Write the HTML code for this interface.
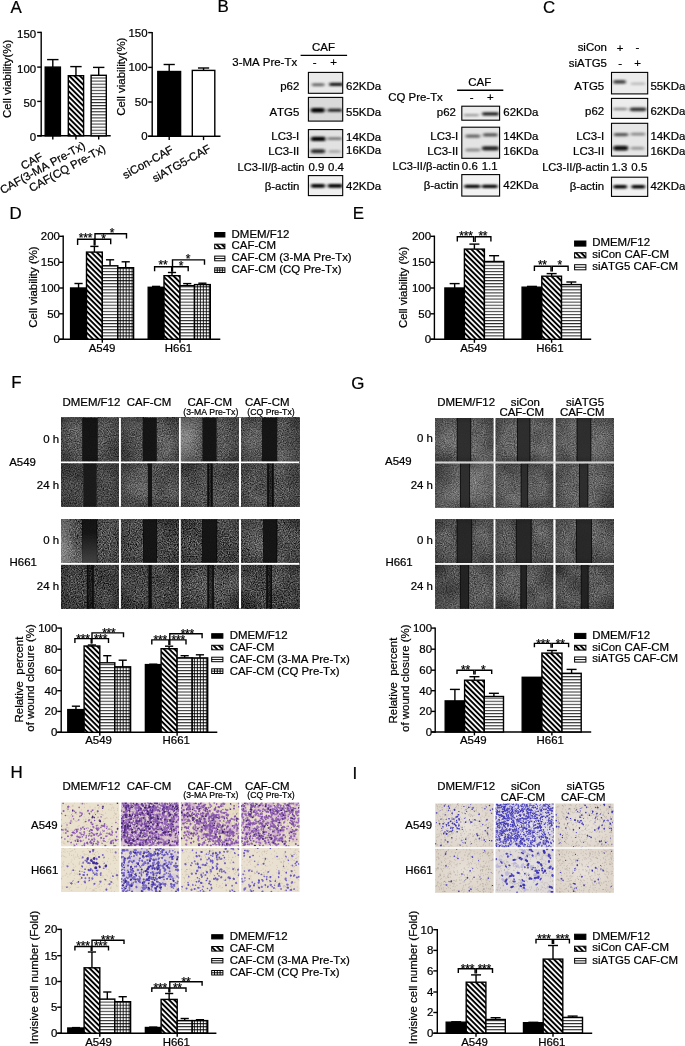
<!DOCTYPE html>
<html lang="en"><head><meta charset="utf-8"><title>Figure</title>
<style>
html,body{margin:0;padding:0;background:#fff;}
svg{display:block;font-family:"Liberation Sans",sans-serif;filter:blur(0.35px);}
svg text{fill:#000;font-kerning:none;stroke:#000;stroke-width:0.22px;}
</style></head>
<body>
<svg width="685" height="1046" viewBox="0 0 685 1046">
<defs>
<pattern id="pD" width="3.76" height="3.76" patternUnits="userSpaceOnUse" patternTransform="rotate(45)">
  <rect width="3.76" height="3.76" fill="#fff"/><rect width="3.76" height="1.95" fill="#000"/>
</pattern>
<pattern id="pH" width="3.07" height="3.07" patternUnits="userSpaceOnUse">
  <rect width="3.07" height="3.07" fill="#fff"/><rect y="0.9" width="3.07" height="0.85" fill="#000"/>
</pattern>
<pattern id="pG" width="2.97" height="3.07" patternUnits="userSpaceOnUse">
  <rect width="2.97" height="3.07" fill="#fff"/><rect y="0.9" width="2.97" height="0.9" fill="#000"/><rect x="0.9" width="0.85" height="3.07" fill="#000"/>
</pattern>
<filter id="bl" x="-20%" y="-60%" width="140%" height="220%"><feGaussianBlur stdDeviation="1.5 0.9"/></filter>
<clipPath id="c1"><rect x="308.40" y="72.40" width="34.30" height="20.90"/></clipPath><clipPath id="c2"><rect x="308.40" y="97.40" width="34.30" height="23.70"/></clipPath><clipPath id="c3"><rect x="308.40" y="129.60" width="34.30" height="27.90"/></clipPath><clipPath id="c4"><rect x="308.40" y="175.60" width="34.30" height="20.00"/></clipPath><clipPath id="c5"><rect x="461.80" y="106.20" width="37.80" height="14.00"/></clipPath><clipPath id="c6"><rect x="461.80" y="127.20" width="37.80" height="31.10"/></clipPath><clipPath id="c7"><rect x="461.80" y="174.60" width="37.80" height="21.50"/></clipPath><clipPath id="c8"><rect x="611.50" y="72.40" width="36.20" height="21.50"/></clipPath><clipPath id="c9"><rect x="611.50" y="98.40" width="36.20" height="20.00"/></clipPath><clipPath id="c10"><rect x="611.50" y="123.30" width="36.20" height="32.80"/></clipPath><clipPath id="c11"><rect x="611.50" y="177.20" width="36.20" height="19.20"/></clipPath>
<filter id="lump" x="0" y="0" width="100%" height="100%" color-interpolation-filters="sRGB">
  <feTurbulence type="fractalNoise" baseFrequency="0.035" numOctaves="2" seed="23"/>
  <feColorMatrix type="matrix" values="0 0 0 0 0  0 0 0 0 0  0 0 0 0 0  2.2 0 0 0 -0.95"/>
</filter>
<filter id="lumpw" x="0" y="0" width="100%" height="100%" color-interpolation-filters="sRGB">
  <feTurbulence type="fractalNoise" baseFrequency="0.03" numOctaves="2" seed="31"/>
  <feColorMatrix type="matrix" values="0 0 0 0 1  0 0 0 0 1  0 0 0 0 1  1.6 0 0 0 -0.72"/>
</filter>
<radialGradient id="vg" cx="50%" cy="50%" r="75%">
  <stop offset="0.5" stop-color="#000" stop-opacity="0"/><stop offset="1" stop-color="#000" stop-opacity="0.38"/>
</radialGradient>
<linearGradient id="lg1" x1="0" x2="1" y1="0" y2="0"><stop offset="0" stop-color="#fff" stop-opacity="0.38"/><stop offset="1" stop-color="#fff" stop-opacity="0"/></linearGradient>
<radialGradient id="rgw" cx="50%" cy="50%" r="50%"><stop offset="0" stop-color="#fff" stop-opacity="0.16"/><stop offset="1" stop-color="#fff" stop-opacity="0"/></radialGradient>
<radialGradient id="rgk" cx="0%" cy="0%" r="60%"><stop offset="0" stop-color="#000" stop-opacity="0.35"/><stop offset="1" stop-color="#000" stop-opacity="0"/></radialGradient>
<filter id="nF1" x="0" y="0" width="100%" height="100%" color-interpolation-filters="sRGB"><feTurbulence type="fractalNoise" baseFrequency="0.85" numOctaves="2" seed="7"/><feColorMatrix type="matrix" values="0.695 0 0 0 -0.027  0.695 0 0 0 -0.027  0.695 0 0 0 -0.027  0 0 0 0 1"/></filter><filter id="nF2" x="0" y="0" width="100%" height="100%" color-interpolation-filters="sRGB"><feTurbulence type="fractalNoise" baseFrequency="0.85" numOctaves="2" seed="9"/><feColorMatrix type="matrix" values="0.890 0 0 0 -0.155  0.890 0 0 0 -0.155  0.890 0 0 0 -0.155  0 0 0 0 1"/></filter><linearGradient id="lgv" x1="0" x2="0" y1="0" y2="1"><stop offset="0.3" stop-color="#fff" stop-opacity="0"/><stop offset="1" stop-color="#fff" stop-opacity="0.2"/></linearGradient><filter id="nG1" x="0" y="0" width="100%" height="100%" color-interpolation-filters="sRGB"><feTurbulence type="fractalNoise" baseFrequency="0.9" numOctaves="2" seed="11"/><feColorMatrix type="matrix" values="0.525 0 0 0 0.132  0.525 0 0 0 0.132  0.525 0 0 0 0.132  0 0 0 0 1"/></filter><filter id="nG2" x="0" y="0" width="100%" height="100%" color-interpolation-filters="sRGB"><feTurbulence type="fractalNoise" baseFrequency="0.9" numOctaves="2" seed="13"/><feColorMatrix type="matrix" values="0.593 0 0 0 0.058  0.593 0 0 0 0.058  0.593 0 0 0 0.058  0 0 0 0 1"/></filter><filter id="soft" x="-5%" y="-5%" width="110%" height="110%"><feGaussianBlur stdDeviation="0.5"/></filter><clipPath id="c12"><rect x="61.00" y="802.60" width="58.40" height="43.60"/></clipPath><clipPath id="c13"><rect x="120.90" y="802.60" width="58.30" height="43.60"/></clipPath><clipPath id="c14"><rect x="180.80" y="802.60" width="58.50" height="43.60"/></clipPath><clipPath id="c15"><rect x="241.20" y="802.60" width="58.30" height="43.60"/></clipPath><clipPath id="c16"><rect x="61.00" y="848.00" width="58.40" height="43.90"/></clipPath><clipPath id="c17"><rect x="120.90" y="848.00" width="58.30" height="43.90"/></clipPath><clipPath id="c18"><rect x="180.80" y="848.00" width="58.50" height="43.90"/></clipPath><clipPath id="c19"><rect x="241.20" y="848.00" width="58.30" height="43.90"/></clipPath><radialGradient id="iglow" cx="50%" cy="50%" r="60%"><stop offset="0" stop-color="#fff" stop-opacity="0.35"/><stop offset="1" stop-color="#fff" stop-opacity="0"/></radialGradient><clipPath id="c20"><rect x="435.20" y="803.40" width="58.40" height="43.80"/></clipPath><clipPath id="c21"><rect x="495.50" y="803.40" width="58.30" height="43.80"/></clipPath><clipPath id="c22"><rect x="555.40" y="803.40" width="58.30" height="43.80"/></clipPath><clipPath id="c23"><rect x="435.20" y="848.80" width="58.40" height="43.90"/></clipPath><clipPath id="c24"><rect x="495.50" y="848.80" width="58.30" height="43.90"/></clipPath><clipPath id="c25"><rect x="555.40" y="848.80" width="58.30" height="43.90"/></clipPath></defs>
<rect width="685" height="1046" fill="#fff"/>
<text x="10.60" y="12.50" font-size="16.9" text-anchor="start">A</text>
<text x="217.40" y="12.30" font-size="16.9" text-anchor="start">B</text>
<text x="543.00" y="12.50" font-size="16.9" text-anchor="start">C</text>
<text x="9.60" y="218.80" font-size="16.9" text-anchor="start">D</text>
<text x="352.80" y="218.80" font-size="16.9" text-anchor="start">E</text>
<text x="11.30" y="388.40" font-size="16.9" text-anchor="start">F</text>
<text x="351.30" y="388.90" font-size="16.9" text-anchor="start">G</text>
<text x="10.50" y="778.40" font-size="16.9" text-anchor="start">H</text>
<text x="352.60" y="778.70" font-size="16.9" text-anchor="start">I</text>
<line x1="41.20" y1="31.70" x2="41.20" y2="136.50" stroke="#000" stroke-width="1.4"/>
<line x1="37.20" y1="135.80" x2="110.70" y2="135.80" stroke="#000" stroke-width="1.4"/>
<line x1="37.20" y1="32.40" x2="41.20" y2="32.40" stroke="#000" stroke-width="1.4"/>
<text x="36.20" y="37.80" font-size="11.45" text-anchor="end">150</text>
<line x1="37.20" y1="67.10" x2="41.20" y2="67.10" stroke="#000" stroke-width="1.4"/>
<text x="36.20" y="72.50" font-size="11.45" text-anchor="end">100</text>
<line x1="37.20" y1="101.40" x2="41.20" y2="101.40" stroke="#000" stroke-width="1.4"/>
<text x="36.20" y="106.80" font-size="11.45" text-anchor="end">50</text>
<line x1="37.20" y1="135.80" x2="41.20" y2="135.80" stroke="#000" stroke-width="1.4"/>
<text x="36.20" y="141.20" font-size="11.45" text-anchor="end">0</text>
<line x1="52.80" y1="59.60" x2="52.80" y2="67.10" stroke="#000" stroke-width="1.4"/>
<line x1="47.10" y1="59.60" x2="58.50" y2="59.60" stroke="#000" stroke-width="1.4"/>
<rect x="45.20" y="67.10" width="15.20" height="68.70" fill="#000" stroke="#000" stroke-width="1.4"/>
<line x1="52.80" y1="135.80" x2="52.80" y2="139.60" stroke="#000" stroke-width="1.4"/>
<line x1="75.95" y1="66.60" x2="75.95" y2="75.70" stroke="#000" stroke-width="1.4"/>
<line x1="70.25" y1="66.60" x2="81.65" y2="66.60" stroke="#000" stroke-width="1.4"/>
<rect x="68.30" y="75.70" width="15.30" height="60.10" fill="url(#pD)" stroke="#000" stroke-width="1.4"/>
<line x1="75.95" y1="135.80" x2="75.95" y2="139.60" stroke="#000" stroke-width="1.4"/>
<line x1="98.70" y1="67.40" x2="98.70" y2="75.30" stroke="#000" stroke-width="1.4"/>
<line x1="93.00" y1="67.40" x2="104.40" y2="67.40" stroke="#000" stroke-width="1.4"/>
<rect x="91.10" y="75.30" width="15.20" height="60.50" fill="url(#pH)" stroke="#000" stroke-width="1.4"/>
<line x1="98.70" y1="135.80" x2="98.70" y2="139.60" stroke="#000" stroke-width="1.4"/>
<text x="11.00" y="78.90" font-size="11.45" text-anchor="middle" transform="rotate(-90 11.00 78.90)">Cell viability(%)</text>
<text x="43.50" y="159.00" font-size="11.45" text-anchor="end" transform="rotate(-29 43.50 159.00)">CAF</text>
<text x="86.00" y="148.00" font-size="11.45" text-anchor="end" transform="rotate(-29 86.00 148.00)">CAF(3-MA Pre-Tx)</text>
<text x="106.30" y="151.00" font-size="11.45" text-anchor="end" transform="rotate(-29 106.30 151.00)">CAF(CQ Pre-Tx)</text>
<line x1="152.20" y1="31.90" x2="152.20" y2="137.00" stroke="#000" stroke-width="1.4"/>
<line x1="148.20" y1="136.30" x2="220.50" y2="136.30" stroke="#000" stroke-width="1.4"/>
<line x1="148.20" y1="32.60" x2="152.20" y2="32.60" stroke="#000" stroke-width="1.4"/>
<text x="147.50" y="36.50" font-size="11.45" text-anchor="end">150</text>
<line x1="148.20" y1="67.40" x2="152.20" y2="67.40" stroke="#000" stroke-width="1.4"/>
<text x="147.50" y="71.30" font-size="11.45" text-anchor="end">100</text>
<line x1="148.20" y1="102.00" x2="152.20" y2="102.00" stroke="#000" stroke-width="1.4"/>
<text x="147.50" y="105.90" font-size="11.45" text-anchor="end">50</text>
<line x1="148.20" y1="136.30" x2="152.20" y2="136.30" stroke="#000" stroke-width="1.4"/>
<text x="147.50" y="140.20" font-size="11.45" text-anchor="end">0</text>
<line x1="169.20" y1="64.50" x2="169.20" y2="71.50" stroke="#000" stroke-width="1.4"/>
<line x1="163.60" y1="64.50" x2="174.80" y2="64.50" stroke="#000" stroke-width="1.4"/>
<rect x="157.80" y="71.50" width="22.80" height="64.80" fill="#000" stroke="#000" stroke-width="1.4"/>
<line x1="169.20" y1="136.30" x2="169.20" y2="140.10" stroke="#000" stroke-width="1.4"/>
<line x1="203.55" y1="68.00" x2="203.55" y2="70.40" stroke="#000" stroke-width="1.4"/>
<line x1="197.95" y1="68.00" x2="209.15" y2="68.00" stroke="#000" stroke-width="1.4"/>
<rect x="192.30" y="70.40" width="22.50" height="65.90" fill="#fff" stroke="#000" stroke-width="1.4"/>
<line x1="203.55" y1="136.30" x2="203.55" y2="140.10" stroke="#000" stroke-width="1.4"/>
<text x="125.20" y="76.70" font-size="11.45" text-anchor="middle" transform="rotate(-90 125.20 76.70)">Cell viability(%)</text>
<text x="174.20" y="152.00" font-size="11.45" text-anchor="end" transform="rotate(-29 174.20 152.00)">siCon-CAF</text>
<text x="211.60" y="151.00" font-size="11.45" text-anchor="end" transform="rotate(-29 211.60 151.00)">siATG5-CAF</text>
<text x="323.50" y="51.20" font-size="11.45" text-anchor="middle">CAF</text>
<line x1="300.60" y1="55.40" x2="347.10" y2="55.40" stroke="#000" stroke-width="1.4"/>
<text x="232.30" y="66.20" font-size="11.45" text-anchor="start">3-MA Pre-Tx</text>
<text x="314.60" y="66.00" font-size="11.45" text-anchor="middle">-</text>
<text x="333.60" y="66.20" font-size="11.45" text-anchor="middle">+</text>
<rect x="308.40" y="72.40" width="34.30" height="20.90" fill="#e9e9e9"/>
<g clip-path="url(#c1)" filter="url(#bl)">
<rect x="311.80" y="83.28" width="12.80" height="2.85" rx="1.42" fill="#6a6a6a"/>
<rect x="329.00" y="82.69" width="14.50" height="3.42" rx="1.71" fill="#161616"/>
</g>
<rect x="308.40" y="72.40" width="34.30" height="20.90" fill="none" stroke="#000" stroke-width="1.1"/>
<rect x="308.40" y="97.40" width="34.30" height="23.70" fill="#dadada"/>
<g clip-path="url(#c2)" filter="url(#bl)">
<rect x="310.80" y="108.02" width="14.00" height="4.37" rx="2.18" fill="#000"/>
<rect x="327.60" y="108.68" width="14.60" height="3.04" rx="1.52" fill="#1c1c1c"/>
</g>
<rect x="308.40" y="97.40" width="34.30" height="23.70" fill="none" stroke="#000" stroke-width="1.1"/>
<rect x="308.40" y="129.60" width="34.30" height="27.90" fill="#e2e2e2"/>
<g clip-path="url(#c3)" filter="url(#bl)">
<rect x="310.80" y="136.72" width="15.00" height="4.37" rx="2.18" fill="#000"/>
<rect x="327.40" y="137.27" width="14.60" height="2.85" rx="1.42" fill="#777"/>
<rect x="310.80" y="149.31" width="14.40" height="3.99" rx="1.99" fill="#2a2a2a"/>
<rect x="328.50" y="149.98" width="12.00" height="3.04" rx="1.52" fill="#aaa"/>
</g>
<rect x="308.40" y="129.60" width="34.30" height="27.90" fill="none" stroke="#000" stroke-width="1.1"/>
<rect x="308.40" y="175.60" width="34.30" height="20.00" fill="#f0f0f0"/>
<g clip-path="url(#c4)" filter="url(#bl)">
<rect x="310.80" y="183.90" width="14.40" height="3.80" rx="1.90" fill="#000"/>
<rect x="327.60" y="183.90" width="15.20" height="3.80" rx="1.90" fill="#000"/>
</g>
<rect x="308.40" y="175.60" width="34.30" height="20.00" fill="none" stroke="#000" stroke-width="1.1"/>
<text x="299.30" y="89.70" font-size="11.45" text-anchor="end">p62</text>
<text x="299.30" y="116.00" font-size="11.45" text-anchor="end">ATG5</text>
<text x="299.30" y="140.10" font-size="11.45" text-anchor="end">LC3-I</text>
<text x="299.30" y="154.60" font-size="11.45" text-anchor="end">LC3-II</text>
<text x="299.30" y="190.00" font-size="11.45" text-anchor="end">β-actin</text>
<text x="346.10" y="89.70" font-size="11.45" text-anchor="start">62KDa</text>
<text x="346.10" y="116.00" font-size="11.45" text-anchor="start">55KDa</text>
<text x="346.10" y="141.20" font-size="11.45" text-anchor="start">14KDa</text>
<text x="346.10" y="154.30" font-size="11.45" text-anchor="start">16KDa</text>
<text x="346.10" y="190.00" font-size="11.45" text-anchor="start">42KDa</text>
<text x="237.60" y="171.10" font-size="11.1" text-anchor="start">LC3-II/β-actin</text>
<text x="316.40" y="171.10" font-size="11.45" text-anchor="middle">0.9</text>
<text x="336.00" y="171.10" font-size="11.45" text-anchor="middle">0.4</text>
<text x="479.80" y="85.90" font-size="11.45" text-anchor="middle">CAF</text>
<line x1="457.10" y1="90.30" x2="503.30" y2="90.30" stroke="#000" stroke-width="1.4"/>
<text x="388.20" y="101.10" font-size="11.45" text-anchor="start">CQ Pre-Tx</text>
<text x="471.60" y="100.80" font-size="11.45" text-anchor="middle">-</text>
<text x="490.30" y="101.00" font-size="11.45" text-anchor="middle">+</text>
<rect x="461.80" y="106.20" width="37.80" height="14.00" fill="#ececec"/>
<g clip-path="url(#c5)" filter="url(#bl)">
<rect x="463.80" y="113.96" width="15.20" height="2.28" rx="1.14" fill="#999"/>
<rect x="482.00" y="112.29" width="17.00" height="3.23" rx="1.61" fill="#1c1c1c"/>
</g>
<rect x="461.80" y="106.20" width="37.80" height="14.00" fill="none" stroke="#000" stroke-width="1.1"/>
<rect x="461.80" y="127.20" width="37.80" height="31.10" fill="#e4e4e4"/>
<g clip-path="url(#c6)" filter="url(#bl)">
<rect x="465.40" y="134.48" width="14.90" height="3.23" rx="1.61" fill="#666"/>
<rect x="483.00" y="133.28" width="14.80" height="3.23" rx="1.61" fill="#555"/>
<rect x="465.40" y="148.58" width="14.90" height="3.04" rx="1.52" fill="#8a8a8a"/>
<rect x="481.80" y="146.31" width="17.20" height="4.18" rx="2.09" fill="#242424"/>
</g>
<rect x="461.80" y="127.20" width="37.80" height="31.10" fill="none" stroke="#000" stroke-width="1.1"/>
<rect x="461.80" y="174.60" width="37.80" height="21.50" fill="#f2f2f2"/>
<g clip-path="url(#c7)" filter="url(#bl)">
<rect x="464.20" y="184.69" width="16.10" height="3.23" rx="1.61" fill="#000"/>
<rect x="481.80" y="184.69" width="16.00" height="3.23" rx="1.61" fill="#000"/>
</g>
<rect x="461.80" y="174.60" width="37.80" height="21.50" fill="none" stroke="#000" stroke-width="1.1"/>
<text x="455.90" y="115.50" font-size="11.45" text-anchor="end">p62</text>
<text x="458.30" y="139.60" font-size="11.45" text-anchor="end">LC3-I</text>
<text x="458.30" y="154.60" font-size="11.45" text-anchor="end">LC3-II</text>
<text x="458.30" y="188.70" font-size="11.45" text-anchor="end">β-actin</text>
<text x="503.30" y="115.50" font-size="11.45" text-anchor="start">62KDa</text>
<text x="503.30" y="139.60" font-size="11.45" text-anchor="start">14KDa</text>
<text x="503.30" y="154.60" font-size="11.45" text-anchor="start">16KDa</text>
<text x="503.30" y="188.70" font-size="11.45" text-anchor="start">42KDa</text>
<text x="392.60" y="170.00" font-size="11.15" text-anchor="start">LC3-II/β-actin</text>
<text x="469.80" y="170.00" font-size="11.45" text-anchor="middle">0.6</text>
<text x="489.60" y="170.00" font-size="11.45" text-anchor="middle">1.1</text>
<text x="606.90" y="51.40" font-size="11.45" text-anchor="end">siCon</text>
<text x="606.90" y="67.40" font-size="11.45" text-anchor="end">siATG5</text>
<text x="620.10" y="51.60" font-size="11.45" text-anchor="middle">+</text>
<text x="637.50" y="51.40" font-size="11.45" text-anchor="middle">-</text>
<text x="620.10" y="67.20" font-size="11.45" text-anchor="middle">-</text>
<text x="637.50" y="67.40" font-size="11.45" text-anchor="middle">+</text>
<rect x="611.50" y="72.40" width="36.20" height="21.50" fill="#ebebeb"/>
<g clip-path="url(#c8)" filter="url(#bl)">
<rect x="613.20" y="80.00" width="12.80" height="3.80" rx="1.90" fill="#444"/>
<rect x="630.80" y="82.47" width="14.50" height="2.47" rx="1.23" fill="#bbb"/>
</g>
<rect x="611.50" y="72.40" width="36.20" height="21.50" fill="none" stroke="#000" stroke-width="1.1"/>
<rect x="611.50" y="98.40" width="36.20" height="20.00" fill="#ececec"/>
<g clip-path="url(#c9)" filter="url(#bl)">
<rect x="613.20" y="107.86" width="14.00" height="2.47" rx="1.23" fill="#888"/>
<rect x="629.70" y="107.40" width="16.70" height="3.80" rx="1.90" fill="#333"/>
</g>
<rect x="611.50" y="98.40" width="36.20" height="20.00" fill="none" stroke="#000" stroke-width="1.1"/>
<rect x="611.50" y="123.30" width="36.20" height="32.80" fill="#e6e6e6"/>
<g clip-path="url(#c10)" filter="url(#bl)">
<rect x="613.80" y="132.89" width="14.50" height="3.42" rx="1.71" fill="#555"/>
<rect x="630.80" y="132.77" width="14.50" height="2.85" rx="1.42" fill="#888"/>
<rect x="613.20" y="145.82" width="15.10" height="4.75" rx="2.38" fill="#0a0a0a"/>
<rect x="630.80" y="146.68" width="13.40" height="3.04" rx="1.52" fill="#999"/>
</g>
<rect x="611.50" y="123.30" width="36.20" height="32.80" fill="none" stroke="#000" stroke-width="1.1"/>
<rect x="611.50" y="177.20" width="36.20" height="19.20" fill="#f2f2f2"/>
<g clip-path="url(#c11)" filter="url(#bl)">
<rect x="613.20" y="184.99" width="14.00" height="3.42" rx="1.71" fill="#000"/>
<rect x="631.30" y="184.99" width="14.00" height="3.42" rx="1.71" fill="#000"/>
</g>
<rect x="611.50" y="177.20" width="36.20" height="19.20" fill="none" stroke="#000" stroke-width="1.1"/>
<text x="604.20" y="89.80" font-size="11.45" text-anchor="end">ATG5</text>
<text x="604.20" y="115.40" font-size="11.45" text-anchor="end">p62</text>
<text x="604.20" y="139.60" font-size="11.45" text-anchor="end">LC3-I</text>
<text x="604.20" y="154.60" font-size="11.45" text-anchor="end">LC3-II</text>
<text x="604.20" y="190.10" font-size="11.45" text-anchor="end">β-actin</text>
<text x="650.40" y="89.80" font-size="11.45" text-anchor="start">55KDa</text>
<text x="650.40" y="115.40" font-size="11.45" text-anchor="start">62KDa</text>
<text x="650.40" y="139.60" font-size="11.45" text-anchor="start">14KDa</text>
<text x="650.40" y="154.60" font-size="11.45" text-anchor="start">16KDa</text>
<text x="650.40" y="190.10" font-size="11.45" text-anchor="start">42KDa</text>
<text x="542.20" y="170.90" font-size="11.1" text-anchor="start">LC3-II/β-actin</text>
<text x="619.40" y="170.90" font-size="11.45" text-anchor="middle">1.3</text>
<text x="639.30" y="170.90" font-size="11.45" text-anchor="middle">0.5</text>
<line x1="63.20" y1="235.60" x2="63.20" y2="340.00" stroke="#000" stroke-width="1.4"/>
<line x1="59.20" y1="339.30" x2="220.30" y2="339.30" stroke="#000" stroke-width="1.4"/>
<line x1="59.20" y1="236.30" x2="63.20" y2="236.30" stroke="#000" stroke-width="1.4"/>
<text x="59.90" y="240.20" font-size="11.45" text-anchor="end">200</text>
<line x1="59.20" y1="262.30" x2="63.20" y2="262.30" stroke="#000" stroke-width="1.4"/>
<text x="59.90" y="266.20" font-size="11.45" text-anchor="end">150</text>
<line x1="59.20" y1="288.00" x2="63.20" y2="288.00" stroke="#000" stroke-width="1.4"/>
<text x="59.90" y="291.90" font-size="11.45" text-anchor="end">100</text>
<line x1="59.20" y1="313.80" x2="63.20" y2="313.80" stroke="#000" stroke-width="1.4"/>
<text x="59.90" y="317.70" font-size="11.45" text-anchor="end">50</text>
<line x1="59.20" y1="339.30" x2="63.20" y2="339.30" stroke="#000" stroke-width="1.4"/>
<text x="59.90" y="343.20" font-size="11.45" text-anchor="end">0</text>
<line x1="78.55" y1="283.50" x2="78.55" y2="288.00" stroke="#000" stroke-width="1.4"/>
<line x1="74.45" y1="283.50" x2="82.65" y2="283.50" stroke="#000" stroke-width="1.4"/>
<line x1="94.40" y1="246.40" x2="94.40" y2="252.10" stroke="#000" stroke-width="1.4"/>
<line x1="90.30" y1="246.40" x2="98.50" y2="246.40" stroke="#000" stroke-width="1.4"/>
<line x1="110.05" y1="259.80" x2="110.05" y2="265.80" stroke="#000" stroke-width="1.4"/>
<line x1="105.95" y1="259.80" x2="114.15" y2="259.80" stroke="#000" stroke-width="1.4"/>
<line x1="125.70" y1="261.80" x2="125.70" y2="267.70" stroke="#000" stroke-width="1.4"/>
<line x1="121.60" y1="261.80" x2="129.80" y2="261.80" stroke="#000" stroke-width="1.4"/>
<rect x="70.60" y="288.00" width="15.90" height="51.30" fill="#000" stroke="#000" stroke-width="1.4"/>
<rect x="86.50" y="252.10" width="15.80" height="87.20" fill="url(#pD)" stroke="#000" stroke-width="1.4"/>
<rect x="102.30" y="265.80" width="15.50" height="73.50" fill="url(#pH)" stroke="#000" stroke-width="1.4"/>
<rect x="117.80" y="267.70" width="15.80" height="71.60" fill="url(#pG)" stroke="#000" stroke-width="1.4"/>
<line x1="156.10" y1="286.40" x2="156.10" y2="287.30" stroke="#000" stroke-width="1.4"/>
<line x1="152.00" y1="286.40" x2="160.20" y2="286.40" stroke="#000" stroke-width="1.4"/>
<line x1="172.00" y1="272.50" x2="172.00" y2="275.70" stroke="#000" stroke-width="1.4"/>
<line x1="167.90" y1="272.50" x2="176.10" y2="272.50" stroke="#000" stroke-width="1.4"/>
<line x1="187.25" y1="283.60" x2="187.25" y2="285.70" stroke="#000" stroke-width="1.4"/>
<line x1="183.15" y1="283.60" x2="191.35" y2="283.60" stroke="#000" stroke-width="1.4"/>
<line x1="202.40" y1="283.20" x2="202.40" y2="284.60" stroke="#000" stroke-width="1.4"/>
<line x1="198.30" y1="283.20" x2="206.50" y2="283.20" stroke="#000" stroke-width="1.4"/>
<rect x="148.20" y="287.30" width="15.80" height="52.00" fill="#000" stroke="#000" stroke-width="1.4"/>
<rect x="164.00" y="275.70" width="16.00" height="63.60" fill="url(#pD)" stroke="#000" stroke-width="1.4"/>
<rect x="180.00" y="285.70" width="14.50" height="53.60" fill="url(#pH)" stroke="#000" stroke-width="1.4"/>
<rect x="194.50" y="284.60" width="15.80" height="54.70" fill="url(#pG)" stroke="#000" stroke-width="1.4"/>
<line x1="102.30" y1="339.30" x2="102.30" y2="342.80" stroke="#000" stroke-width="1.4"/>
<line x1="180.00" y1="339.30" x2="180.00" y2="342.80" stroke="#000" stroke-width="1.4"/>
<text x="102.00" y="351.90" font-size="11.45" text-anchor="middle">A549</text>
<text x="178.50" y="351.90" font-size="11.45" text-anchor="middle">H661</text>
<text x="37.00" y="287.00" font-size="11.45" text-anchor="middle" transform="rotate(-90 37.00 287.00)">Cell viability (%)</text>
<path d="M77.60 245.00V239.20H94.20V245.50" stroke="#000" stroke-width="1.4" fill="none"/>
<path d="M95.00 239.20V233.70H126.50V238.40" stroke="#000" stroke-width="1.4" fill="none"/>
<path d="M95.00 245.50V239.20H110.70V244.20" stroke="#000" stroke-width="1.4" fill="none"/>
<text x="85.50" y="242.32" font-size="12.0" text-anchor="middle" letter-spacing="-0.25">***</text>
<text x="112.00" y="237.32" font-size="12.0" text-anchor="middle" letter-spacing="-0.25">*</text>
<text x="103.40" y="243.32" font-size="12.0" text-anchor="middle" letter-spacing="-0.25">*</text>
<path d="M154.60 271.20V266.80H171.70V271.80" stroke="#000" stroke-width="1.4" fill="none"/>
<path d="M172.50 266.80V259.90H204.50V264.70" stroke="#000" stroke-width="1.4" fill="none"/>
<path d="M172.50 271.80V266.80H188.20V271.20" stroke="#000" stroke-width="1.4" fill="none"/>
<text x="163.00" y="269.32" font-size="12.0" text-anchor="middle" letter-spacing="-0.25">**</text>
<text x="188.00" y="263.02" font-size="12.0" text-anchor="middle" letter-spacing="-0.25">*</text>
<text x="180.90" y="270.42" font-size="12.0" text-anchor="middle" letter-spacing="-0.25">*</text>
<rect x="214.70" y="232.50" width="10.20" height="4.50" fill="#000" stroke="#000" stroke-width="1.0"/>
<text x="231.60" y="237.70" font-size="11.45" text-anchor="start">DMEM/F12</text>
<rect x="214.70" y="244.20" width="10.20" height="4.50" fill="url(#pD)" stroke="#000" stroke-width="1.0"/>
<text x="231.60" y="249.30" font-size="11.45" text-anchor="start">CAF-CM</text>
<rect x="214.70" y="256.10" width="10.20" height="4.70" fill="#fff" stroke="#000" stroke-width="1.0"/>
<line x1="214.70" y1="258.45" x2="224.90" y2="258.45" stroke="#000" stroke-width="0.95"/>
<text x="231.60" y="261.10" font-size="11.45" text-anchor="start">CAF-CM (3-MA Pre-Tx)</text>
<rect x="214.70" y="267.80" width="10.20" height="4.70" fill="#fff" stroke="#000" stroke-width="1.0"/>
<line x1="214.70" y1="270.15" x2="224.90" y2="270.15" stroke="#000" stroke-width="0.95"/>
<line x1="217.25" y1="267.80" x2="217.25" y2="272.50" stroke="#000" stroke-width="0.95"/>
<line x1="219.80" y1="267.80" x2="219.80" y2="272.50" stroke="#000" stroke-width="0.95"/>
<line x1="222.35" y1="267.80" x2="222.35" y2="272.50" stroke="#000" stroke-width="0.95"/>
<text x="231.60" y="272.70" font-size="11.45" text-anchor="start">CAF-CM (CQ Pre-Tx)</text>
<line x1="434.40" y1="235.60" x2="434.40" y2="340.00" stroke="#000" stroke-width="1.4"/>
<line x1="430.40" y1="339.30" x2="591.20" y2="339.30" stroke="#000" stroke-width="1.4"/>
<line x1="430.40" y1="236.30" x2="434.40" y2="236.30" stroke="#000" stroke-width="1.4"/>
<text x="431.00" y="240.20" font-size="11.45" text-anchor="end">200</text>
<line x1="430.40" y1="262.30" x2="434.40" y2="262.30" stroke="#000" stroke-width="1.4"/>
<text x="431.00" y="266.20" font-size="11.45" text-anchor="end">150</text>
<line x1="430.40" y1="288.00" x2="434.40" y2="288.00" stroke="#000" stroke-width="1.4"/>
<text x="431.00" y="291.90" font-size="11.45" text-anchor="end">100</text>
<line x1="430.40" y1="313.80" x2="434.40" y2="313.80" stroke="#000" stroke-width="1.4"/>
<text x="431.00" y="317.70" font-size="11.45" text-anchor="end">50</text>
<line x1="430.40" y1="339.30" x2="434.40" y2="339.30" stroke="#000" stroke-width="1.4"/>
<text x="431.00" y="343.20" font-size="11.45" text-anchor="end">0</text>
<line x1="454.65" y1="283.60" x2="454.65" y2="288.00" stroke="#000" stroke-width="1.4"/>
<line x1="449.65" y1="283.60" x2="459.65" y2="283.60" stroke="#000" stroke-width="1.4"/>
<line x1="474.40" y1="244.10" x2="474.40" y2="249.10" stroke="#000" stroke-width="1.4"/>
<line x1="469.40" y1="244.10" x2="479.40" y2="244.10" stroke="#000" stroke-width="1.4"/>
<line x1="494.10" y1="255.70" x2="494.10" y2="261.50" stroke="#000" stroke-width="1.4"/>
<line x1="489.10" y1="255.70" x2="499.10" y2="255.70" stroke="#000" stroke-width="1.4"/>
<rect x="444.90" y="288.00" width="19.50" height="51.30" fill="#000" stroke="#000" stroke-width="1.4"/>
<rect x="464.40" y="249.10" width="20.00" height="90.20" fill="url(#pD)" stroke="#000" stroke-width="1.4"/>
<rect x="484.40" y="261.50" width="19.40" height="77.80" fill="url(#pH)" stroke="#000" stroke-width="1.4"/>
<line x1="531.95" y1="286.40" x2="531.95" y2="287.20" stroke="#000" stroke-width="1.4"/>
<line x1="526.95" y1="286.40" x2="536.95" y2="286.40" stroke="#000" stroke-width="1.4"/>
<line x1="551.65" y1="273.60" x2="551.65" y2="276.20" stroke="#000" stroke-width="1.4"/>
<line x1="546.65" y1="273.60" x2="556.65" y2="273.60" stroke="#000" stroke-width="1.4"/>
<line x1="571.35" y1="282.00" x2="571.35" y2="284.60" stroke="#000" stroke-width="1.4"/>
<line x1="566.35" y1="282.00" x2="576.35" y2="282.00" stroke="#000" stroke-width="1.4"/>
<rect x="522.10" y="287.20" width="19.70" height="52.10" fill="#000" stroke="#000" stroke-width="1.4"/>
<rect x="541.80" y="276.20" width="19.70" height="63.10" fill="url(#pD)" stroke="#000" stroke-width="1.4"/>
<rect x="561.50" y="284.60" width="19.70" height="54.70" fill="url(#pH)" stroke="#000" stroke-width="1.4"/>
<line x1="474.40" y1="339.30" x2="474.40" y2="342.80" stroke="#000" stroke-width="1.4"/>
<line x1="551.60" y1="339.30" x2="551.60" y2="342.80" stroke="#000" stroke-width="1.4"/>
<text x="473.60" y="351.90" font-size="11.45" text-anchor="middle">A549</text>
<text x="549.90" y="351.90" font-size="11.45" text-anchor="middle">H661</text>
<text x="407.00" y="287.40" font-size="11.45" text-anchor="middle" transform="rotate(-90 407.00 287.40)">Cell viability (%)</text>
<path d="M457.30 241.50V236.80H473.60V242.00" stroke="#000" stroke-width="1.4" fill="none"/>
<path d="M475.20 242.00V236.80H490.90V241.50" stroke="#000" stroke-width="1.4" fill="none"/>
<text x="466.00" y="239.72" font-size="12.0" text-anchor="middle" letter-spacing="-0.25">***</text>
<text x="482.80" y="239.72" font-size="12.0" text-anchor="middle" letter-spacing="-0.25">**</text>
<path d="M534.40 270.90V266.20H551.00V271.40" stroke="#000" stroke-width="1.4" fill="none"/>
<path d="M552.30 271.40V266.20H568.10V270.90" stroke="#000" stroke-width="1.4" fill="none"/>
<text x="542.30" y="268.92" font-size="12.0" text-anchor="middle" letter-spacing="-0.25">**</text>
<text x="559.70" y="268.92" font-size="12.0" text-anchor="middle" letter-spacing="-0.25">*</text>
<rect x="574.60" y="241.00" width="11.30" height="5.10" fill="#000" stroke="#000" stroke-width="1.0"/>
<text x="592.20" y="246.20" font-size="11.45" text-anchor="start">DMEM/F12</text>
<rect x="574.60" y="252.70" width="11.30" height="5.20" fill="url(#pD)" stroke="#000" stroke-width="1.0"/>
<text x="592.20" y="258.10" font-size="11.45" text-anchor="start">siCon CAF-CM</text>
<rect x="574.60" y="264.70" width="11.30" height="5.10" fill="#fff" stroke="#000" stroke-width="1.0"/>
<line x1="574.60" y1="267.25" x2="585.90" y2="267.25" stroke="#000" stroke-width="0.95"/>
<text x="592.20" y="270.00" font-size="11.45" text-anchor="start">siATG5 CAF-CM</text>
<line x1="61.20" y1="627.40" x2="61.20" y2="733.00" stroke="#000" stroke-width="1.4"/>
<line x1="57.20" y1="732.30" x2="217.30" y2="732.30" stroke="#000" stroke-width="1.4"/>
<line x1="57.20" y1="628.10" x2="61.20" y2="628.10" stroke="#000" stroke-width="1.4"/>
<text x="57.30" y="632.00" font-size="11.45" text-anchor="end">100</text>
<line x1="57.20" y1="649.20" x2="61.20" y2="649.20" stroke="#000" stroke-width="1.4"/>
<text x="57.30" y="653.10" font-size="11.45" text-anchor="end">80</text>
<line x1="57.20" y1="670.20" x2="61.20" y2="670.20" stroke="#000" stroke-width="1.4"/>
<text x="57.30" y="674.10" font-size="11.45" text-anchor="end">60</text>
<line x1="57.20" y1="690.70" x2="61.20" y2="690.70" stroke="#000" stroke-width="1.4"/>
<text x="57.30" y="694.60" font-size="11.45" text-anchor="end">40</text>
<line x1="57.20" y1="711.40" x2="61.20" y2="711.40" stroke="#000" stroke-width="1.4"/>
<text x="57.30" y="715.30" font-size="11.45" text-anchor="end">20</text>
<line x1="57.20" y1="732.30" x2="61.20" y2="732.30" stroke="#000" stroke-width="1.4"/>
<text x="57.30" y="736.20" font-size="11.45" text-anchor="end">0</text>
<line x1="75.95" y1="706.20" x2="75.95" y2="709.60" stroke="#000" stroke-width="1.4"/>
<line x1="71.85" y1="706.20" x2="80.05" y2="706.20" stroke="#000" stroke-width="1.4"/>
<line x1="91.95" y1="645.00" x2="91.95" y2="646.00" stroke="#000" stroke-width="1.4"/>
<line x1="87.85" y1="645.00" x2="96.05" y2="645.00" stroke="#000" stroke-width="1.4"/>
<line x1="107.30" y1="655.70" x2="107.30" y2="662.80" stroke="#000" stroke-width="1.4"/>
<line x1="103.20" y1="655.70" x2="111.40" y2="655.70" stroke="#000" stroke-width="1.4"/>
<line x1="122.70" y1="660.20" x2="122.70" y2="666.80" stroke="#000" stroke-width="1.4"/>
<line x1="118.60" y1="660.20" x2="126.80" y2="660.20" stroke="#000" stroke-width="1.4"/>
<rect x="67.80" y="709.60" width="16.30" height="22.70" fill="#000" stroke="#000" stroke-width="1.4"/>
<rect x="84.10" y="646.00" width="15.70" height="86.30" fill="url(#pD)" stroke="#000" stroke-width="1.4"/>
<rect x="99.80" y="662.80" width="15.00" height="69.50" fill="url(#pH)" stroke="#000" stroke-width="1.4"/>
<rect x="114.80" y="666.80" width="15.80" height="65.50" fill="url(#pG)" stroke="#000" stroke-width="1.4"/>
<line x1="153.25" y1="664.20" x2="153.25" y2="664.60" stroke="#000" stroke-width="1.4"/>
<line x1="149.15" y1="664.20" x2="157.35" y2="664.20" stroke="#000" stroke-width="1.4"/>
<line x1="169.10" y1="646.20" x2="169.10" y2="648.70" stroke="#000" stroke-width="1.4"/>
<line x1="165.00" y1="646.20" x2="173.20" y2="646.20" stroke="#000" stroke-width="1.4"/>
<line x1="184.65" y1="655.70" x2="184.65" y2="657.80" stroke="#000" stroke-width="1.4"/>
<line x1="180.55" y1="655.70" x2="188.75" y2="655.70" stroke="#000" stroke-width="1.4"/>
<line x1="199.95" y1="654.80" x2="199.95" y2="657.90" stroke="#000" stroke-width="1.4"/>
<line x1="195.85" y1="654.80" x2="204.05" y2="654.80" stroke="#000" stroke-width="1.4"/>
<rect x="145.40" y="664.60" width="15.70" height="67.70" fill="#000" stroke="#000" stroke-width="1.4"/>
<rect x="161.10" y="648.70" width="16.00" height="83.60" fill="url(#pD)" stroke="#000" stroke-width="1.4"/>
<rect x="177.10" y="657.80" width="15.10" height="74.50" fill="url(#pH)" stroke="#000" stroke-width="1.4"/>
<rect x="192.20" y="657.90" width="15.50" height="74.40" fill="url(#pG)" stroke="#000" stroke-width="1.4"/>
<line x1="99.80" y1="732.30" x2="99.80" y2="735.80" stroke="#000" stroke-width="1.4"/>
<line x1="177.10" y1="732.30" x2="177.10" y2="735.80" stroke="#000" stroke-width="1.4"/>
<text x="98.50" y="744.30" font-size="11.45" text-anchor="middle">A549</text>
<text x="176.20" y="744.30" font-size="11.45" text-anchor="middle">H661</text>
<text x="22.60" y="679.50" font-size="11.45" text-anchor="middle" transform="rotate(-90 22.60 679.50)">Relative  percent</text>
<text x="34.40" y="678.00" font-size="11.45" text-anchor="middle" transform="rotate(-90 34.40 678.00)">of wound closure (%)</text>
<path d="M74.90 643.10V638.60H91.20V643.60" stroke="#000" stroke-width="1.4" fill="none"/>
<path d="M92.00 638.60V632.90H123.50V637.30" stroke="#000" stroke-width="1.4" fill="none"/>
<path d="M92.00 643.60V638.60H108.50V643.10" stroke="#000" stroke-width="1.4" fill="none"/>
<text x="83.00" y="643.02" font-size="12.0" text-anchor="middle" letter-spacing="-0.25">***</text>
<text x="108.80" y="637.02" font-size="12.0" text-anchor="middle" letter-spacing="-0.25">***</text>
<text x="100.60" y="643.02" font-size="12.0" text-anchor="middle" letter-spacing="-0.25">***</text>
<path d="M151.80 644.50V639.90H168.90V645.00" stroke="#000" stroke-width="1.4" fill="none"/>
<path d="M169.80 639.90V633.70H202.10V638.30" stroke="#000" stroke-width="1.4" fill="none"/>
<path d="M169.80 645.00V639.90H186.00V644.50" stroke="#000" stroke-width="1.4" fill="none"/>
<text x="160.20" y="644.32" font-size="12.0" text-anchor="middle" letter-spacing="-0.25">***</text>
<text x="187.30" y="638.22" font-size="12.0" text-anchor="middle" letter-spacing="-0.25">***</text>
<text x="178.20" y="644.32" font-size="12.0" text-anchor="middle" letter-spacing="-0.25">***</text>
<rect x="211.70" y="633.70" width="11.20" height="4.50" fill="#000" stroke="#000" stroke-width="1.0"/>
<text x="229.70" y="638.90" font-size="11.45" text-anchor="start">DMEM/F12</text>
<rect x="211.70" y="645.30" width="11.20" height="4.50" fill="url(#pD)" stroke="#000" stroke-width="1.0"/>
<text x="229.70" y="650.60" font-size="11.45" text-anchor="start">CAF-CM</text>
<rect x="211.70" y="657.20" width="11.20" height="4.50" fill="#fff" stroke="#000" stroke-width="1.0"/>
<line x1="211.70" y1="659.45" x2="222.90" y2="659.45" stroke="#000" stroke-width="0.95"/>
<text x="229.70" y="662.80" font-size="11.45" text-anchor="start">CAF-CM (3-MA Pre-Tx)</text>
<rect x="211.70" y="668.80" width="11.20" height="4.70" fill="#fff" stroke="#000" stroke-width="1.0"/>
<line x1="211.70" y1="671.15" x2="222.90" y2="671.15" stroke="#000" stroke-width="0.95"/>
<line x1="214.50" y1="668.80" x2="214.50" y2="673.50" stroke="#000" stroke-width="0.95"/>
<line x1="217.30" y1="668.80" x2="217.30" y2="673.50" stroke="#000" stroke-width="0.95"/>
<line x1="220.10" y1="668.80" x2="220.10" y2="673.50" stroke="#000" stroke-width="0.95"/>
<text x="229.70" y="675.00" font-size="11.45" text-anchor="start">CAF-CM (CQ Pre-Tx)</text>
<line x1="435.20" y1="627.40" x2="435.20" y2="732.70" stroke="#000" stroke-width="1.4"/>
<line x1="431.20" y1="732.00" x2="591.20" y2="732.00" stroke="#000" stroke-width="1.4"/>
<line x1="431.20" y1="628.10" x2="435.20" y2="628.10" stroke="#000" stroke-width="1.4"/>
<text x="432.00" y="632.00" font-size="11.45" text-anchor="end">100</text>
<line x1="431.20" y1="649.20" x2="435.20" y2="649.20" stroke="#000" stroke-width="1.4"/>
<text x="432.00" y="653.10" font-size="11.45" text-anchor="end">80</text>
<line x1="431.20" y1="670.20" x2="435.20" y2="670.20" stroke="#000" stroke-width="1.4"/>
<text x="432.00" y="674.10" font-size="11.45" text-anchor="end">60</text>
<line x1="431.20" y1="690.70" x2="435.20" y2="690.70" stroke="#000" stroke-width="1.4"/>
<text x="432.00" y="694.60" font-size="11.45" text-anchor="end">40</text>
<line x1="431.20" y1="711.40" x2="435.20" y2="711.40" stroke="#000" stroke-width="1.4"/>
<text x="432.00" y="715.30" font-size="11.45" text-anchor="end">20</text>
<line x1="431.20" y1="732.00" x2="435.20" y2="732.00" stroke="#000" stroke-width="1.4"/>
<text x="432.00" y="735.90" font-size="11.45" text-anchor="end">0</text>
<line x1="454.90" y1="689.40" x2="454.90" y2="700.90" stroke="#000" stroke-width="1.4"/>
<line x1="449.90" y1="689.40" x2="459.90" y2="689.40" stroke="#000" stroke-width="1.4"/>
<line x1="474.45" y1="676.70" x2="474.45" y2="680.20" stroke="#000" stroke-width="1.4"/>
<line x1="469.45" y1="676.70" x2="479.45" y2="676.70" stroke="#000" stroke-width="1.4"/>
<line x1="493.90" y1="693.30" x2="493.90" y2="696.50" stroke="#000" stroke-width="1.4"/>
<line x1="488.90" y1="693.30" x2="498.90" y2="693.30" stroke="#000" stroke-width="1.4"/>
<rect x="445.20" y="700.90" width="19.40" height="31.10" fill="#000" stroke="#000" stroke-width="1.4"/>
<rect x="464.60" y="680.20" width="19.70" height="51.80" fill="url(#pD)" stroke="#000" stroke-width="1.4"/>
<rect x="484.30" y="696.50" width="19.20" height="35.50" fill="url(#pH)" stroke="#000" stroke-width="1.4"/>
<line x1="551.95" y1="650.50" x2="551.95" y2="653.10" stroke="#000" stroke-width="1.4"/>
<line x1="546.95" y1="650.50" x2="556.95" y2="650.50" stroke="#000" stroke-width="1.4"/>
<line x1="571.60" y1="669.40" x2="571.60" y2="673.30" stroke="#000" stroke-width="1.4"/>
<line x1="566.60" y1="669.40" x2="576.60" y2="669.40" stroke="#000" stroke-width="1.4"/>
<rect x="522.20" y="677.30" width="19.70" height="54.70" fill="#000" stroke="#000" stroke-width="1.4"/>
<rect x="541.90" y="653.10" width="20.10" height="78.90" fill="url(#pD)" stroke="#000" stroke-width="1.4"/>
<rect x="562.00" y="673.30" width="19.20" height="58.70" fill="url(#pH)" stroke="#000" stroke-width="1.4"/>
<line x1="474.40" y1="732.00" x2="474.40" y2="735.50" stroke="#000" stroke-width="1.4"/>
<line x1="551.90" y1="732.00" x2="551.90" y2="735.50" stroke="#000" stroke-width="1.4"/>
<text x="473.30" y="744.30" font-size="11.45" text-anchor="middle">A549</text>
<text x="550.20" y="744.30" font-size="11.45" text-anchor="middle">H661</text>
<text x="397.40" y="680.50" font-size="11.45" text-anchor="middle" transform="rotate(-90 397.40 680.50)">Relative  percent</text>
<text x="409.20" y="678.20" font-size="11.45" text-anchor="middle" transform="rotate(-90 409.20 678.20)">of wound closure (%)</text>
<path d="M457.00 674.10V670.20H473.80V674.60" stroke="#000" stroke-width="1.4" fill="none"/>
<path d="M475.10 674.60V670.20H491.70V674.10" stroke="#000" stroke-width="1.4" fill="none"/>
<text x="465.40" y="674.02" font-size="12.0" text-anchor="middle" letter-spacing="-0.25">**</text>
<text x="483.30" y="674.02" font-size="12.0" text-anchor="middle" letter-spacing="-0.25">*</text>
<path d="M534.40 647.30V643.40H551.00V647.80" stroke="#000" stroke-width="1.4" fill="none"/>
<path d="M552.30 647.80V643.40H568.60V647.30" stroke="#000" stroke-width="1.4" fill="none"/>
<text x="543.00" y="647.52" font-size="12.0" text-anchor="middle" letter-spacing="-0.25">***</text>
<text x="560.20" y="647.52" font-size="12.0" text-anchor="middle" letter-spacing="-0.25">**</text>
<rect x="574.60" y="633.40" width="11.30" height="5.10" fill="#000" stroke="#000" stroke-width="1.0"/>
<text x="592.20" y="638.60" font-size="11.45" text-anchor="start">DMEM/F12</text>
<rect x="574.60" y="645.30" width="11.30" height="4.80" fill="url(#pD)" stroke="#000" stroke-width="1.0"/>
<text x="592.20" y="650.50" font-size="11.45" text-anchor="start">siCon CAF-CM</text>
<rect x="574.60" y="657.00" width="11.30" height="5.10" fill="#fff" stroke="#000" stroke-width="1.0"/>
<line x1="574.60" y1="659.55" x2="585.90" y2="659.55" stroke="#000" stroke-width="0.95"/>
<text x="592.20" y="662.30" font-size="11.45" text-anchor="start">siATG5 CAF-CM</text>
<line x1="61.20" y1="928.70" x2="61.20" y2="1033.90" stroke="#000" stroke-width="1.4"/>
<line x1="57.20" y1="1033.20" x2="216.40" y2="1033.20" stroke="#000" stroke-width="1.4"/>
<line x1="57.20" y1="929.40" x2="61.20" y2="929.40" stroke="#000" stroke-width="1.4"/>
<text x="57.30" y="933.30" font-size="11.45" text-anchor="end">20</text>
<line x1="57.20" y1="955.70" x2="61.20" y2="955.70" stroke="#000" stroke-width="1.4"/>
<text x="57.30" y="959.60" font-size="11.45" text-anchor="end">15</text>
<line x1="57.20" y1="981.50" x2="61.20" y2="981.50" stroke="#000" stroke-width="1.4"/>
<text x="57.30" y="985.40" font-size="11.45" text-anchor="end">10</text>
<line x1="57.20" y1="1007.20" x2="61.20" y2="1007.20" stroke="#000" stroke-width="1.4"/>
<text x="57.30" y="1011.10" font-size="11.45" text-anchor="end">5</text>
<line x1="57.20" y1="1033.20" x2="61.20" y2="1033.20" stroke="#000" stroke-width="1.4"/>
<text x="57.30" y="1037.10" font-size="11.45" text-anchor="end">0</text>
<line x1="75.95" y1="1027.60" x2="75.95" y2="1028.00" stroke="#000" stroke-width="1.4"/>
<line x1="71.85" y1="1027.60" x2="80.05" y2="1027.60" stroke="#000" stroke-width="1.4"/>
<line x1="91.95" y1="952.00" x2="91.95" y2="967.80" stroke="#000" stroke-width="1.4"/>
<line x1="87.85" y1="952.00" x2="96.05" y2="952.00" stroke="#000" stroke-width="1.4"/>
<line x1="107.30" y1="992.00" x2="107.30" y2="999.10" stroke="#000" stroke-width="1.4"/>
<line x1="103.20" y1="992.00" x2="111.40" y2="992.00" stroke="#000" stroke-width="1.4"/>
<line x1="122.70" y1="996.70" x2="122.70" y2="1001.70" stroke="#000" stroke-width="1.4"/>
<line x1="118.60" y1="996.70" x2="126.80" y2="996.70" stroke="#000" stroke-width="1.4"/>
<rect x="67.80" y="1028.00" width="16.30" height="5.20" fill="#000" stroke="#000" stroke-width="1.4"/>
<rect x="84.10" y="967.80" width="15.70" height="65.40" fill="url(#pD)" stroke="#000" stroke-width="1.4"/>
<rect x="99.80" y="999.10" width="15.00" height="34.10" fill="url(#pH)" stroke="#000" stroke-width="1.4"/>
<rect x="114.80" y="1001.70" width="15.80" height="31.50" fill="url(#pG)" stroke="#000" stroke-width="1.4"/>
<line x1="153.25" y1="1027.10" x2="153.25" y2="1027.50" stroke="#000" stroke-width="1.4"/>
<line x1="149.15" y1="1027.10" x2="157.35" y2="1027.10" stroke="#000" stroke-width="1.4"/>
<line x1="169.15" y1="993.50" x2="169.15" y2="999.40" stroke="#000" stroke-width="1.4"/>
<line x1="165.05" y1="993.50" x2="173.25" y2="993.50" stroke="#000" stroke-width="1.4"/>
<line x1="184.70" y1="1018.50" x2="184.70" y2="1020.60" stroke="#000" stroke-width="1.4"/>
<line x1="180.60" y1="1018.50" x2="188.80" y2="1018.50" stroke="#000" stroke-width="1.4"/>
<line x1="199.95" y1="1019.70" x2="199.95" y2="1020.60" stroke="#000" stroke-width="1.4"/>
<line x1="195.85" y1="1019.70" x2="204.05" y2="1019.70" stroke="#000" stroke-width="1.4"/>
<rect x="145.40" y="1027.50" width="15.70" height="5.70" fill="#000" stroke="#000" stroke-width="1.4"/>
<rect x="161.10" y="999.40" width="16.10" height="33.80" fill="url(#pD)" stroke="#000" stroke-width="1.4"/>
<rect x="177.20" y="1020.60" width="15.00" height="12.60" fill="url(#pH)" stroke="#000" stroke-width="1.4"/>
<rect x="192.20" y="1020.60" width="15.50" height="12.60" fill="url(#pG)" stroke="#000" stroke-width="1.4"/>
<line x1="99.80" y1="1033.20" x2="99.80" y2="1036.70" stroke="#000" stroke-width="1.4"/>
<line x1="177.20" y1="1033.20" x2="177.20" y2="1036.70" stroke="#000" stroke-width="1.4"/>
<text x="98.50" y="1046.00" font-size="11.45" text-anchor="middle">A549</text>
<text x="176.30" y="1046.00" font-size="11.45" text-anchor="middle">H661</text>
<text x="37.80" y="977.50" font-size="11.45" text-anchor="middle" transform="rotate(-90 37.80 977.50)">Invisive cell number (Fold)</text>
<path d="M74.90 950.40V946.50H91.20V951.00" stroke="#000" stroke-width="1.4" fill="none"/>
<path d="M92.00 946.50V940.20H124.00V944.10" stroke="#000" stroke-width="1.4" fill="none"/>
<path d="M92.00 951.00V946.50H108.50V950.40" stroke="#000" stroke-width="1.4" fill="none"/>
<text x="83.00" y="950.42" font-size="12.0" text-anchor="middle" letter-spacing="-0.25">***</text>
<text x="107.70" y="944.32" font-size="12.0" text-anchor="middle" letter-spacing="-0.25">***</text>
<text x="100.60" y="950.42" font-size="12.0" text-anchor="middle" letter-spacing="-0.25">***</text>
<path d="M151.80 992.00V988.00H168.90V992.50" stroke="#000" stroke-width="1.4" fill="none"/>
<path d="M169.80 988.00V981.80H202.10V985.80" stroke="#000" stroke-width="1.4" fill="none"/>
<path d="M169.80 992.50V988.00H186.00V992.00" stroke="#000" stroke-width="1.4" fill="none"/>
<text x="160.20" y="991.92" font-size="12.0" text-anchor="middle" letter-spacing="-0.25">***</text>
<text x="186.00" y="986.32" font-size="12.0" text-anchor="middle" letter-spacing="-0.25">**</text>
<text x="177.30" y="991.92" font-size="12.0" text-anchor="middle" letter-spacing="-0.25">**</text>
<rect x="211.70" y="934.70" width="11.20" height="4.20" fill="#000" stroke="#000" stroke-width="1.0"/>
<text x="229.70" y="939.90" font-size="11.45" text-anchor="start">DMEM/F12</text>
<rect x="211.70" y="946.50" width="11.20" height="4.60" fill="url(#pD)" stroke="#000" stroke-width="1.0"/>
<text x="229.70" y="951.70" font-size="11.45" text-anchor="start">CAF-CM</text>
<rect x="211.70" y="958.50" width="11.20" height="4.40" fill="#fff" stroke="#000" stroke-width="1.0"/>
<line x1="211.70" y1="960.70" x2="222.90" y2="960.70" stroke="#000" stroke-width="0.95"/>
<text x="229.70" y="963.70" font-size="11.45" text-anchor="start">CAF-CM (3-MA Pre-Tx)</text>
<rect x="211.70" y="970.50" width="11.20" height="4.50" fill="#fff" stroke="#000" stroke-width="1.0"/>
<line x1="211.70" y1="972.75" x2="222.90" y2="972.75" stroke="#000" stroke-width="0.95"/>
<line x1="214.50" y1="970.50" x2="214.50" y2="975.00" stroke="#000" stroke-width="0.95"/>
<line x1="217.30" y1="970.50" x2="217.30" y2="975.00" stroke="#000" stroke-width="0.95"/>
<line x1="220.10" y1="970.50" x2="220.10" y2="975.00" stroke="#000" stroke-width="0.95"/>
<text x="229.70" y="975.60" font-size="11.45" text-anchor="start">CAF-CM (CQ Pre-Tx)</text>
<line x1="437.30" y1="929.00" x2="437.30" y2="1033.90" stroke="#000" stroke-width="1.4"/>
<line x1="433.30" y1="1033.20" x2="592.20" y2="1033.20" stroke="#000" stroke-width="1.4"/>
<line x1="433.30" y1="929.70" x2="437.30" y2="929.70" stroke="#000" stroke-width="1.4"/>
<text x="433.30" y="933.60" font-size="11.45" text-anchor="end">10</text>
<line x1="433.30" y1="950.40" x2="437.30" y2="950.40" stroke="#000" stroke-width="1.4"/>
<text x="433.30" y="954.30" font-size="11.45" text-anchor="end">8</text>
<line x1="433.30" y1="970.90" x2="437.30" y2="970.90" stroke="#000" stroke-width="1.4"/>
<text x="433.30" y="974.80" font-size="11.45" text-anchor="end">6</text>
<line x1="433.30" y1="992.00" x2="437.30" y2="992.00" stroke="#000" stroke-width="1.4"/>
<text x="433.30" y="995.90" font-size="11.45" text-anchor="end">4</text>
<line x1="433.30" y1="1012.50" x2="437.30" y2="1012.50" stroke="#000" stroke-width="1.4"/>
<text x="433.30" y="1016.40" font-size="11.45" text-anchor="end">2</text>
<line x1="433.30" y1="1033.20" x2="437.30" y2="1033.20" stroke="#000" stroke-width="1.4"/>
<text x="433.30" y="1037.10" font-size="11.45" text-anchor="end">0</text>
<line x1="456.20" y1="1021.80" x2="456.20" y2="1022.20" stroke="#000" stroke-width="1.4"/>
<line x1="451.20" y1="1021.80" x2="461.20" y2="1021.80" stroke="#000" stroke-width="1.4"/>
<line x1="476.05" y1="974.90" x2="476.05" y2="982.20" stroke="#000" stroke-width="1.4"/>
<line x1="471.05" y1="974.90" x2="481.05" y2="974.90" stroke="#000" stroke-width="1.4"/>
<line x1="495.60" y1="1017.70" x2="495.60" y2="1019.50" stroke="#000" stroke-width="1.4"/>
<line x1="490.60" y1="1017.70" x2="500.60" y2="1017.70" stroke="#000" stroke-width="1.4"/>
<rect x="446.20" y="1022.20" width="20.00" height="11.00" fill="#000" stroke="#000" stroke-width="1.4"/>
<rect x="466.20" y="982.20" width="19.70" height="51.00" fill="url(#pD)" stroke="#000" stroke-width="1.4"/>
<rect x="485.90" y="1019.50" width="19.40" height="13.70" fill="url(#pH)" stroke="#000" stroke-width="1.4"/>
<line x1="533.35" y1="1022.30" x2="533.35" y2="1022.70" stroke="#000" stroke-width="1.4"/>
<line x1="528.35" y1="1022.30" x2="538.35" y2="1022.30" stroke="#000" stroke-width="1.4"/>
<line x1="553.00" y1="945.50" x2="553.00" y2="959.10" stroke="#000" stroke-width="1.4"/>
<line x1="548.00" y1="945.50" x2="558.00" y2="945.50" stroke="#000" stroke-width="1.4"/>
<line x1="572.65" y1="1016.10" x2="572.65" y2="1017.40" stroke="#000" stroke-width="1.4"/>
<line x1="567.65" y1="1016.10" x2="577.65" y2="1016.10" stroke="#000" stroke-width="1.4"/>
<rect x="523.50" y="1022.70" width="19.70" height="10.50" fill="#000" stroke="#000" stroke-width="1.4"/>
<rect x="543.20" y="959.10" width="19.60" height="74.10" fill="url(#pD)" stroke="#000" stroke-width="1.4"/>
<rect x="562.80" y="1017.40" width="19.70" height="15.80" fill="url(#pH)" stroke="#000" stroke-width="1.4"/>
<line x1="476.00" y1="1033.20" x2="476.00" y2="1036.70" stroke="#000" stroke-width="1.4"/>
<line x1="553.00" y1="1033.20" x2="553.00" y2="1036.70" stroke="#000" stroke-width="1.4"/>
<text x="474.60" y="1046.00" font-size="11.45" text-anchor="middle">A549</text>
<text x="551.80" y="1046.00" font-size="11.45" text-anchor="middle">H661</text>
<text x="417.00" y="977.50" font-size="11.45" text-anchor="middle" transform="rotate(-90 417.00 977.50)">Invisive cell number (Fold)</text>
<path d="M458.30 973.00V968.80H475.10V973.50" stroke="#000" stroke-width="1.4" fill="none"/>
<path d="M476.40 973.50V968.80H492.50V973.00" stroke="#000" stroke-width="1.4" fill="none"/>
<text x="467.50" y="972.72" font-size="12.0" text-anchor="middle" letter-spacing="-0.25">***</text>
<text x="484.30" y="972.72" font-size="12.0" text-anchor="middle" letter-spacing="-0.25">***</text>
<path d="M536.00 943.40V939.40H552.30V943.90" stroke="#000" stroke-width="1.4" fill="none"/>
<path d="M553.60 943.90V939.40H569.40V943.40" stroke="#000" stroke-width="1.4" fill="none"/>
<text x="544.00" y="943.32" font-size="12.0" text-anchor="middle" letter-spacing="-0.25">***</text>
<text x="562.30" y="943.32" font-size="12.0" text-anchor="middle" letter-spacing="-0.25">***</text>
<rect x="574.60" y="934.20" width="11.30" height="5.20" fill="#000" stroke="#000" stroke-width="1.0"/>
<text x="592.20" y="939.50" font-size="11.45" text-anchor="start">DMEM/F12</text>
<rect x="574.60" y="946.20" width="11.30" height="5.10" fill="url(#pD)" stroke="#000" stroke-width="1.0"/>
<text x="592.20" y="951.30" font-size="11.45" text-anchor="start">siCon CAF-CM</text>
<rect x="574.60" y="958.40" width="11.30" height="4.80" fill="#fff" stroke="#000" stroke-width="1.0"/>
<line x1="574.60" y1="960.80" x2="585.90" y2="960.80" stroke="#000" stroke-width="0.95"/>
<text x="592.20" y="963.60" font-size="11.45" text-anchor="start">siATG5 CAF-CM</text>
<text x="91.40" y="405.50" font-size="11.45" text-anchor="middle">DMEM/F12</text>
<text x="149.10" y="405.50" font-size="11.45" text-anchor="middle">CAF-CM</text>
<text x="209.80" y="405.80" font-size="11.45" text-anchor="middle">CAF-CM</text>
<text x="267.20" y="405.80" font-size="11.45" text-anchor="middle">CAF-CM</text>
<text x="210.80" y="415.00" font-size="8.7" text-anchor="middle">(3-MA Pre-Tx)</text>
<text x="271.00" y="415.00" font-size="8.7" text-anchor="middle">(CQ Pre-Tx)</text>
<text x="59.10" y="442.90" font-size="11.45" text-anchor="end">0 h</text>
<text x="59.10" y="488.80" font-size="11.45" text-anchor="end">24 h</text>
<text x="59.10" y="543.70" font-size="11.45" text-anchor="end">0 h</text>
<text x="59.10" y="589.60" font-size="11.45" text-anchor="end">24 h</text>
<text x="9.20" y="465.50" font-size="11.45" text-anchor="start">A549</text>
<text x="9.60" y="566.00" font-size="11.45" text-anchor="start">H661</text>
<rect x="61.00" y="417.80" width="238.20" height="88.80" fill="#555" filter="url(#nF1)"/>
<rect x="61.00" y="417.80" width="238.20" height="88.80" fill="#000" filter="url(#lump)" opacity="0.3"/>
<rect x="61.00" y="417.80" width="238.20" height="88.80" fill="#fff" filter="url(#lumpw)" opacity="0.22"/>
<rect x="61.00" y="519.30" width="238.20" height="89.10" fill="#555" filter="url(#nF2)"/>
<rect x="61.00" y="519.30" width="238.20" height="89.10" fill="#000" filter="url(#lump)" opacity="0.3"/>
<rect x="61.00" y="519.30" width="238.20" height="89.10" fill="#fff" filter="url(#lumpw)" opacity="0.22"/>
<rect x="120.90" y="417.80" width="58.10" height="43.70" fill="#fff" opacity="0.03"/>
<rect x="241.00" y="417.80" width="58.20" height="43.70" fill="#fff" opacity="0.03"/>
<rect x="61.00" y="463.20" width="58.00" height="43.40" fill="#000" opacity="0.12"/>
<rect x="241.00" y="519.30" width="58.20" height="43.60" fill="#fff" opacity="0.04"/>
<rect x="61.00" y="564.80" width="58.00" height="43.60" fill="#000" opacity="0.08"/>
<rect x="120.90" y="564.80" width="58.10" height="43.60" fill="#000" opacity="0.05"/>
<rect x="241.00" y="564.80" width="58.20" height="43.60" fill="#000" opacity="0.05"/>
<rect x="180.8" y="417.8" width="24" height="43.7" fill="url(#lg1)"/>
<rect x="61" y="519.3" width="15" height="43.6" fill="url(#lg1)"/>
<rect x="120.9" y="463.2" width="44" height="43.4" fill="url(#rgw)"/>
<rect x="82.20" y="417.80" width="15.60" height="43.70" fill="#111111" opacity="0.94"/>
<rect x="61.00" y="417.80" width="58.00" height="43.70" fill="url(#vg)"/>
<rect x="142.70" y="417.80" width="14.10" height="43.70" fill="#111111" opacity="0.94"/>
<rect x="120.90" y="417.80" width="58.10" height="43.70" fill="url(#vg)"/>
<rect x="202.40" y="417.80" width="14.20" height="43.70" fill="#111111" opacity="0.94"/>
<rect x="180.80" y="417.80" width="58.20" height="43.70" fill="url(#vg)"/>
<rect x="262.00" y="417.80" width="15.30" height="43.70" fill="#111111" opacity="0.94"/>
<rect x="241.00" y="417.80" width="58.20" height="43.70" fill="url(#vg)"/>
<rect x="83.40" y="463.20" width="13.20" height="43.40" fill="#181818" opacity="0.94"/>
<rect x="61.00" y="463.20" width="58.00" height="43.40" fill="url(#vg)"/>
<rect x="147.90" y="463.20" width="4.10" height="43.40" fill="#101010" opacity="0.94"/>
<rect x="120.90" y="463.20" width="58.10" height="43.40" fill="url(#vg)"/>
<rect x="207.40" y="463.20" width="5.20" height="43.40" fill="#000" opacity="0.5"/>
<rect x="207.40" y="463.20" width="1.50" height="43.40" fill="#0a0a0a"/>
<rect x="211.10" y="463.20" width="1.50" height="43.40" fill="#0a0a0a"/>
<rect x="180.80" y="463.20" width="58.20" height="43.40" fill="url(#vg)"/>
<rect x="267.30" y="463.20" width="6.30" height="43.40" fill="#000" opacity="0.5"/>
<rect x="267.30" y="463.20" width="1.50" height="43.40" fill="#0a0a0a"/>
<rect x="272.10" y="463.20" width="1.50" height="43.40" fill="#0a0a0a"/>
<rect x="241.00" y="463.20" width="58.20" height="43.40" fill="url(#vg)"/>
<rect x="82.40" y="519.30" width="14.60" height="43.60" fill="#121212" opacity="0.94"/>
<rect x="82.00" y="519.30" width="0.80" height="43.60" fill="#000" opacity="0.8"/>
<rect x="96.60" y="519.30" width="0.80" height="43.60" fill="#000" opacity="0.8"/>
<rect x="61.00" y="519.30" width="58.00" height="43.60" fill="url(#vg)"/>
<rect x="143.40" y="519.30" width="13.30" height="43.60" fill="#121212" opacity="0.94"/>
<rect x="143.00" y="519.30" width="0.80" height="43.60" fill="#000" opacity="0.8"/>
<rect x="156.30" y="519.30" width="0.80" height="43.60" fill="#000" opacity="0.8"/>
<rect x="120.90" y="519.30" width="58.10" height="43.60" fill="url(#vg)"/>
<rect x="202.60" y="519.30" width="14.20" height="43.60" fill="#121212" opacity="0.94"/>
<rect x="202.20" y="519.30" width="0.80" height="43.60" fill="#000" opacity="0.8"/>
<rect x="216.40" y="519.30" width="0.80" height="43.60" fill="#000" opacity="0.8"/>
<rect x="180.80" y="519.30" width="58.20" height="43.60" fill="url(#vg)"/>
<rect x="263.60" y="519.30" width="13.40" height="43.60" fill="#121212" opacity="0.94"/>
<rect x="263.20" y="519.30" width="0.80" height="43.60" fill="#000" opacity="0.8"/>
<rect x="276.60" y="519.30" width="0.80" height="43.60" fill="#000" opacity="0.8"/>
<rect x="241.00" y="519.30" width="58.20" height="43.60" fill="url(#vg)"/>
<rect x="86.90" y="564.80" width="6.80" height="43.60" fill="#000" opacity="0.5"/>
<rect x="86.90" y="564.80" width="1.50" height="43.60" fill="#0c0c0c"/>
<rect x="92.20" y="564.80" width="1.50" height="43.60" fill="#0c0c0c"/>
<rect x="61.00" y="564.80" width="58.00" height="43.60" fill="url(#vg)"/>
<rect x="148.50" y="564.80" width="3.10" height="43.60" fill="#000" opacity="0.5"/>
<rect x="148.50" y="564.80" width="1.41" height="43.60" fill="#0c0c0c"/>
<rect x="150.19" y="564.80" width="1.41" height="43.60" fill="#0c0c0c"/>
<rect x="120.90" y="564.80" width="58.10" height="43.60" fill="url(#vg)"/>
<rect x="207.40" y="564.80" width="6.40" height="43.60" fill="#000" opacity="0.5"/>
<rect x="207.40" y="564.80" width="1.50" height="43.60" fill="#0c0c0c"/>
<rect x="212.30" y="564.80" width="1.50" height="43.60" fill="#0c0c0c"/>
<rect x="180.80" y="564.80" width="58.20" height="43.60" fill="url(#vg)"/>
<rect x="266.30" y="564.80" width="5.70" height="43.60" fill="#000" opacity="0.5"/>
<rect x="266.30" y="564.80" width="1.50" height="43.60" fill="#0c0c0c"/>
<rect x="270.50" y="564.80" width="1.50" height="43.60" fill="#0c0c0c"/>
<rect x="241.00" y="564.80" width="58.20" height="43.60" fill="url(#vg)"/>
<rect x="61" y="519.3" width="36" height="43.6" fill="url(#lgv)"/>
<rect x="119.00" y="417.80" width="1.90" height="88.80" fill="#fff"/>
<rect x="119.00" y="519.30" width="1.90" height="89.10" fill="#fff"/>
<rect x="179.00" y="417.80" width="1.80" height="88.80" fill="#fff"/>
<rect x="179.00" y="519.30" width="1.80" height="89.10" fill="#fff"/>
<rect x="239.00" y="417.80" width="2.00" height="88.80" fill="#fff"/>
<rect x="239.00" y="519.30" width="2.00" height="89.10" fill="#fff"/>
<rect x="61.00" y="461.50" width="238.20" height="1.70" fill="#fff"/>
<rect x="61.00" y="562.90" width="238.20" height="1.90" fill="#fff"/>
<text x="466.20" y="405.50" font-size="11.45" text-anchor="middle">DMEM/F12</text>
<text x="525.30" y="405.80" font-size="11.45" text-anchor="middle">siCon</text>
<text x="521.70" y="415.80" font-size="11.45" text-anchor="middle">CAF-CM</text>
<text x="585.00" y="405.80" font-size="11.45" text-anchor="middle">siATG5</text>
<text x="582.20" y="415.80" font-size="11.45" text-anchor="middle">CAF-CM</text>
<text x="432.90" y="442.30" font-size="11.45" text-anchor="end">0 h</text>
<text x="432.90" y="488.80" font-size="11.45" text-anchor="end">24 h</text>
<text x="432.90" y="543.70" font-size="11.45" text-anchor="end">0 h</text>
<text x="432.90" y="589.60" font-size="11.45" text-anchor="end">24 h</text>
<text x="385.00" y="465.10" font-size="11.45" text-anchor="start">A549</text>
<text x="385.40" y="566.00" font-size="11.45" text-anchor="start">H661</text>
<rect x="435.20" y="418.00" width="178.70" height="89.20" fill="#555" filter="url(#nG1)"/>
<rect x="435.20" y="418.00" width="178.70" height="89.20" fill="#000" filter="url(#lump)" opacity="0.3"/>
<rect x="435.20" y="418.00" width="178.70" height="89.20" fill="#fff" filter="url(#lumpw)" opacity="0.22"/>
<rect x="435.20" y="519.40" width="178.70" height="89.30" fill="#555" filter="url(#nG2)"/>
<rect x="435.20" y="519.40" width="178.70" height="89.30" fill="#000" filter="url(#lump)" opacity="0.3"/>
<rect x="435.20" y="519.40" width="178.70" height="89.30" fill="#fff" filter="url(#lumpw)" opacity="0.22"/>
<rect x="435.20" y="463.50" width="58.40" height="43.70" fill="#fff" opacity="0.04"/>
<rect x="495.40" y="463.50" width="58.00" height="43.70" fill="#000" opacity="0.03"/>
<rect x="555.50" y="519.40" width="58.40" height="43.60" fill="#fff" opacity="0.02"/>
<rect x="435.2" y="564.9" width="30" height="30" fill="url(#rgk)"/>
<rect x="555.5" y="564.9" width="30" height="30" fill="url(#rgk)"/>
<rect x="457.20" y="418.00" width="13.60" height="43.50" fill="#2b2b2b" opacity="0.94"/>
<rect x="456.75" y="418.00" width="0.90" height="43.50" fill="#000" opacity="0.8"/>
<rect x="470.35" y="418.00" width="0.90" height="43.50" fill="#000" opacity="0.8"/>
<rect x="435.20" y="418.00" width="58.40" height="43.50" fill="url(#vg)"/>
<rect x="517.50" y="418.00" width="12.50" height="43.50" fill="#2b2b2b" opacity="0.94"/>
<rect x="517.05" y="418.00" width="0.90" height="43.50" fill="#000" opacity="0.8"/>
<rect x="529.55" y="418.00" width="0.90" height="43.50" fill="#000" opacity="0.8"/>
<rect x="495.40" y="418.00" width="58.00" height="43.50" fill="url(#vg)"/>
<rect x="577.00" y="418.00" width="13.90" height="43.50" fill="#2b2b2b" opacity="0.94"/>
<rect x="576.55" y="418.00" width="0.90" height="43.50" fill="#000" opacity="0.8"/>
<rect x="590.45" y="418.00" width="0.90" height="43.50" fill="#000" opacity="0.8"/>
<rect x="555.50" y="418.00" width="58.40" height="43.50" fill="url(#vg)"/>
<rect x="460.40" y="463.50" width="9.20" height="43.70" fill="#2b2b2b" opacity="0.94"/>
<rect x="459.95" y="463.50" width="0.90" height="43.70" fill="#000" opacity="0.8"/>
<rect x="469.15" y="463.50" width="0.90" height="43.70" fill="#000" opacity="0.8"/>
<rect x="435.20" y="463.50" width="58.40" height="43.70" fill="url(#vg)"/>
<rect x="521.10" y="463.50" width="6.60" height="43.70" fill="#2b2b2b" opacity="0.94"/>
<rect x="520.65" y="463.50" width="0.90" height="43.70" fill="#000" opacity="0.8"/>
<rect x="527.25" y="463.50" width="0.90" height="43.70" fill="#000" opacity="0.8"/>
<rect x="495.40" y="463.50" width="58.00" height="43.70" fill="url(#vg)"/>
<rect x="579.50" y="463.50" width="8.40" height="43.70" fill="#2b2b2b" opacity="0.94"/>
<rect x="579.05" y="463.50" width="0.90" height="43.70" fill="#000" opacity="0.8"/>
<rect x="587.45" y="463.50" width="0.90" height="43.70" fill="#000" opacity="0.8"/>
<rect x="555.50" y="463.50" width="58.40" height="43.70" fill="url(#vg)"/>
<rect x="457.00" y="519.40" width="14.80" height="43.60" fill="#252525" opacity="0.94"/>
<rect x="456.55" y="519.40" width="0.90" height="43.60" fill="#000" opacity="0.8"/>
<rect x="471.35" y="519.40" width="0.90" height="43.60" fill="#000" opacity="0.8"/>
<rect x="435.20" y="519.40" width="58.40" height="43.60" fill="url(#vg)"/>
<rect x="516.20" y="519.40" width="15.00" height="43.60" fill="#252525" opacity="0.94"/>
<rect x="515.75" y="519.40" width="0.90" height="43.60" fill="#000" opacity="0.8"/>
<rect x="530.75" y="519.40" width="0.90" height="43.60" fill="#000" opacity="0.8"/>
<rect x="495.40" y="519.40" width="58.00" height="43.60" fill="url(#vg)"/>
<rect x="576.40" y="519.40" width="15.20" height="43.60" fill="#252525" opacity="0.94"/>
<rect x="575.95" y="519.40" width="0.90" height="43.60" fill="#000" opacity="0.8"/>
<rect x="591.15" y="519.40" width="0.90" height="43.60" fill="#000" opacity="0.8"/>
<rect x="555.50" y="519.40" width="58.40" height="43.60" fill="url(#vg)"/>
<rect x="460.30" y="564.90" width="8.30" height="43.80" fill="#202020" opacity="0.94"/>
<rect x="459.85" y="564.90" width="0.90" height="43.80" fill="#000" opacity="0.8"/>
<rect x="468.15" y="564.90" width="0.90" height="43.80" fill="#000" opacity="0.8"/>
<rect x="435.20" y="564.90" width="58.40" height="43.80" fill="url(#vg)"/>
<rect x="520.80" y="564.90" width="5.60" height="43.80" fill="#202020" opacity="0.94"/>
<rect x="520.35" y="564.90" width="0.90" height="43.80" fill="#000" opacity="0.8"/>
<rect x="525.95" y="564.90" width="0.90" height="43.80" fill="#000" opacity="0.8"/>
<rect x="495.40" y="564.90" width="58.00" height="43.80" fill="url(#vg)"/>
<rect x="581.20" y="564.90" width="7.00" height="43.80" fill="#202020" opacity="0.94"/>
<rect x="580.75" y="564.90" width="0.90" height="43.80" fill="#000" opacity="0.8"/>
<rect x="587.75" y="564.90" width="0.90" height="43.80" fill="#000" opacity="0.8"/>
<rect x="555.50" y="564.90" width="58.40" height="43.80" fill="url(#vg)"/>
<rect x="493.60" y="418.00" width="1.80" height="89.20" fill="#fff"/>
<rect x="493.60" y="519.40" width="1.80" height="89.30" fill="#fff"/>
<rect x="553.40" y="418.00" width="2.10" height="89.20" fill="#fff"/>
<rect x="553.40" y="519.40" width="2.10" height="89.30" fill="#fff"/>
<rect x="435.20" y="461.50" width="178.70" height="2.00" fill="#d4d4d4"/>
<rect x="435.20" y="563.00" width="178.70" height="1.90" fill="#f4f4f4"/>
<text x="91.40" y="790.20" font-size="11.45" text-anchor="middle">DMEM/F12</text>
<text x="149.10" y="790.20" font-size="11.45" text-anchor="middle">CAF-CM</text>
<text x="209.80" y="790.20" font-size="11.45" text-anchor="middle">CAF-CM</text>
<text x="267.20" y="790.20" font-size="11.45" text-anchor="middle">CAF-CM</text>
<text x="210.80" y="798.30" font-size="8.7" text-anchor="middle">(3-MA Pre-Tx)</text>
<text x="271.00" y="798.30" font-size="8.7" text-anchor="middle">(CQ Pre-Tx)</text>
<text x="31.00" y="828.80" font-size="11.45" text-anchor="start">A549</text>
<text x="31.00" y="873.50" font-size="11.45" text-anchor="start">H661</text>
<g clip-path="url(#c12)"><g filter="url(#soft)" transform="translate(61.00 802.60)" fill="none" stroke-linecap="round">
<rect x="-2" y="-2" width="62.4" height="47.6" fill="#e9e0cd"/>
<path d="M8.5 19.8h0M45.0 30.8h0M42.7 18.9h0M46.7 23.2h0M4.7 19.9h0M2.8 40.7h0M55.3 14.6h0M18.1 33.5h0M11.9 7.8h0M11.0 15.1h0M36.6 42.0h0M12.3 41.7h0M32.4 39.3h0M47.8 7.0h0M37.9 5.4h0M0.3 17.2h0M45.2 24.7h0M11.3 36.7h0M53.4 10.3h0M26.2 27.8h0M52.7 5.5h0M32.4 42.2h0M35.6 31.3h0M45.3 22.1h0M16.9 25.7h0M30.8 15.0h0M49.9 15.8h0M28.2 33.2h0M47.5 38.8h0M38.0 11.0h0M49.5 39.6h0M41.7 33.4h0M30.0 21.5h0M34.0 6.4h0M39.5 37.6h0M9.6 32.9h0M41.2 5.3h0M3.0 26.0h0M12.8 13.5h0M36.3 28.4h0M43.7 24.8h0M19.5 0.5h0M6.7 8.4h0M30.7 31.4h0M12.2 17.0h0M54.7 17.5h0M41.7 27.0h0M38.5 20.8h0M31.8 30.6h0M9.4 34.8h0M51.0 2.1h0M11.6 10.8h0M5.5 6.1h0M37.5 5.4h0M3.9 41.2h0M23.5 23.6h0M27.7 15.0h0M26.5 8.5h0M33.9 11.0h0M8.5 9.1h0M24.1 40.6h0M34.9 42.8h0M23.4 11.4h0M41.5 8.3h0M58.3 17.0h0M15.9 11.8h0M17.8 40.8h0M57.9 24.3h0M13.5 0.4h0M4.7 13.0h0M37.5 27.3h0M49.8 35.8h0M20.6 29.4h0M25.9 31.7h0M10.8 42.6h0M1.3 26.9h0M20.6 34.9h0M8.4 38.8h0M0.2 32.1h0M41.1 22.1h0M10.2 16.7h0M26.1 9.3h0M9.4 36.7h0M32.1 11.8h0M36.5 27.6h0M7.9 25.5h0M34.1 4.8h0M17.6 37.6h0M33.8 9.7h0M23.0 20.0h0M41.4 37.5h0M5.1 2.0h0M25.8 0.9h0M9.0 4.6h0M5.2 27.3h0M5.6 24.7h0M56.4 6.1h0M44.3 25.5h0M9.9 41.4h0M43.0 16.5h0M51.9 4.5h0M48.7 36.7h0M6.8 39.9h0M45.8 39.9h0M16.4 32.2h0M45.5 15.2h0M2.0 0.6h0M29.6 23.9h0M7.3 27.5h0M3.0 20.8h0M29.8 8.9h0M2.8 39.4h0M49.8 25.6h0M1.7 22.9h0M56.2 33.4h0M40.2 1.7h0M33.8 10.1h0M57.6 0.5h0M13.0 38.4h0M7.0 13.1h0M17.9 38.4h0M40.7 40.7h0M11.2 3.8h0M20.0 33.4h0M36.2 40.8h0M41.6 3.6h0M18.4 8.9h0M15.6 29.1h0M25.9 33.0h0M0.9 39.6h0M9.5 32.4h0M49.3 1.8h0M31.7 42.5h0M0.4 21.7h0M24.8 16.6h0M11.4 7.9h0M15.5 9.5h0M17.2 39.3h0M55.4 11.3h0M1.6 11.6h0M50.0 7.7h0M38.7 4.0h0M20.6 7.4h0M36.0 16.1h0M45.2 22.6h0M23.6 0.9h0M49.0 1.7h0M29.1 43.1h0M46.2 15.5h0M54.3 11.3h0M34.0 25.1h0M42.1 12.6h0M23.2 14.2h0M53.7 32.2h0M19.9 33.7h0M36.1 10.8h0M29.1 4.3h0M12.3 3.4h0M4.7 26.8h0M48.5 36.4h0M12.8 41.3h0M19.6 30.1h0M34.8 20.8h0M40.3 38.8h0M40.6 22.2h0M50.3 32.5h0M21.9 42.7h0M23.6 1.7h0M56.3 41.1h0M31.3 32.7h0M40.6 4.3h0M46.5 27.4h0M56.4 20.9h0M16.2 33.6h0M32.3 38.0h0M2.5 29.8h0M53.1 8.0h0M5.3 21.4h0M38.2 27.5h0M30.9 14.8h0M41.5 43.1h0M29.6 17.2h0M56.6 7.7h0M32.9 36.6h0M46.2 32.6h0M39.8 19.6h0M56.4 0.1h0M24.7 19.6h0M41.9 12.5h0M11.6 19.5h0M37.2 23.0h0M51.1 20.6h0M12.0 28.0h0M22.7 1.1h0M23.4 4.8h0M37.3 39.4h0M42.8 41.7h0M8.4 36.4h0M44.6 10.5h0M27.7 7.5h0M18.1 22.9h0M22.7 17.0h0M41.5 29.5h0M6.8 24.9h0M45.4 1.4h0M43.6 0.9h0M25.0 16.7h0M1.2 3.2h0M39.1 11.6h0M30.3 7.1h0M36.0 40.8h0M44.0 16.0h0M55.9 15.3h0M16.3 18.4h0M57.5 16.9h0M17.0 23.7h0M37.2 33.1h0M41.4 29.3h0M24.0 19.1h0M57.3 21.6h0M44.4 15.7h0M0.7 17.1h0M30.5 17.4h0M12.3 7.0h0M2.9 30.8h0M30.8 35.6h0M50.4 32.8h0M46.4 39.4h0M53.4 35.8h0M52.3 15.2h0M58.2 38.9h0M47.5 37.0h0M43.6 25.0h0M30.3 40.6h0M16.8 28.1h0M54.5 11.6h0M9.2 13.5h0M25.8 22.1h0M13.6 10.5h0M8.6 20.5h0M8.3 15.4h0M10.1 27.6h0M36.2 10.0h0M58.4 12.4h0M53.0 13.1h0M32.8 25.7h0M33.8 14.8h0M46.2 27.2h0M32.7 21.0h0M16.5 17.8h0M42.9 30.9h0M58.1 31.7h0M57.9 14.3h0M16.2 43.5h0M24.9 25.3h0M50.7 5.5h0M7.0 20.4h0M11.7 2.7h0M41.6 24.0h0M26.5 27.8h0" stroke="#a4947c" stroke-width="0.75" opacity="0.55"/>
<path d="M17.8 17.3l-0.1 0.1M43.2 28.3l-0.4 0.4M48.4 31.0l-0.1 0.0M41.8 23.1l-0.2 0.3M36.8 2.6l0.3 0.1M48.1 26.4l-0.1 0.1M35.4 23.0l0.3 0.1M39.2 31.2l0.4 0.6M35.3 30.9l-0.0 0.2M11.6 13.4l0.0 0.3M40.0 14.2l0.1 0.1M15.7 29.3l-0.1 0.3M19.2 9.9l-0.1 0.4M30.3 8.7l0.0 0.4M46.0 33.4l-0.2 0.1M35.5 31.9l0.1 0.1M40.4 35.1l-0.2 0.3M18.6 30.2l0.6 0.3M20.2 31.7l0.1 0.3M17.0 37.3l-0.4 0.4M21.5 0.6l-0.3 0.6M15.7 41.4l-0.1 0.1M12.6 16.2l-0.0 0.2M33.1 35.6l0.1 0.2M7.1 29.0l0.0 0.0M52.4 40.2l-0.1 0.6M31.5 30.9l0.3 0.1M45.9 24.1l0.2 0.2M6.1 22.5l-0.1 0.0M6.7 38.7l0.3 0.2M35.7 23.2l-0.2 0.1M23.5 30.5l0.0 0.1M38.7 32.4l-0.0 0.2M40.5 31.6l-0.5 0.1M13.5 30.5l-0.4 0.0M28.8 39.7l0.4 0.3M23.1 42.2l0.5 0.4M0.3 10.6l0.2 0.2M7.0 6.5l0.0 0.1M39.6 24.7l0.4 0.2M16.1 36.7l0.0 0.0M36.5 38.4l0.0 0.4M25.3 35.0l-0.4 0.3M15.4 28.4l0.1 0.3M21.1 43.2l0.1 0.1" stroke="#9c6ebc" stroke-width="1.5"/>
<path d="M42.6 38.2l0.5 0.1M48.4 30.9l-0.0 0.0M50.0 39.1l0.4 0.4M32.9 32.0l0.5 0.1M4.7 26.9l-0.1 0.2M23.2 29.3l-0.0 0.1M33.5 37.0l0.0 0.0M37.3 25.7l0.4 0.1M36.2 26.2l0.4 0.4M28.1 17.4l-0.2 0.5M37.4 39.7l-0.3 0.3M20.8 10.7l0.2 0.7M32.3 24.3l0.2 0.3" stroke="#9c6ebc" stroke-width="2.0"/>
<path d="M33.4 32.3l-0.5 0.1M17.0 26.7l-0.2 0.2M48.1 31.3l0.4 0.1M0.7 34.7l0.1 0.0M19.1 34.6l0.0 0.2M18.1 4.8l0.1 0.1M27.7 36.6l0.3 0.2M35.0 41.0l0.2 0.2M54.7 43.3l-0.4 0.5M29.6 27.0l0.2 0.2M31.9 7.4l-0.3 0.4M22.9 31.8l0.0 0.0M40.0 34.9l0.0 0.1M43.6 21.2l-0.2 0.6M28.8 30.8l-0.1 0.4M7.0 4.3l-0.0 0.0M23.5 40.6l0.1 0.6M15.8 28.3l0.5 0.2M54.5 37.0l-0.2 0.1M50.2 32.1l-0.5 0.2M0.0 35.3l-0.0 0.1M45.1 33.9l0.1 0.0M51.0 28.5l-0.0 0.4M36.8 41.6l-0.1 0.6M42.5 35.8l0.5 0.0M26.4 41.0l0.4 0.2M55.6 33.9l0.1 0.1M22.5 32.4l0.3 0.1M5.1 30.3l-0.5 0.1M13.6 8.7l0.0 0.0M40.5 23.1l0.6 0.3M30.4 29.9l0.3 0.2M22.1 24.4l-0.4 0.5M19.1 13.5l-0.3 0.3M21.0 32.0l-0.2 0.0M35.6 25.3l-0.1 0.6M21.4 34.1l0.1 0.1M14.3 37.9l0.3 0.5" stroke="#8e5eb2" stroke-width="1.5"/>
<path d="M30.6 40.3l-0.4 0.5M14.7 10.1l0.2 0.0M51.5 30.2l-0.3 0.1M46.0 30.6l-0.0 0.0M10.2 39.7l-0.2 0.3M36.4 31.0l-0.2 0.0M10.0 18.4l0.0 0.1M24.5 18.9l-0.0 0.0M29.9 19.9l0.2 0.2M6.7 33.6l0.4 0.1M32.2 40.7l0.2 0.6M0.6 26.9l0.4 0.4M54.8 37.6l-0.2 0.3M30.7 33.3l-0.7 0.1M28.2 10.8l0.4 0.5M33.2 38.7l-0.2 0.1M11.3 29.9l0.2 0.0M9.7 20.4l-0.3 0.3M3.9 36.3l0.0 0.0M43.1 23.4l-0.5 0.1M55.1 29.1l-0.0 0.7M15.0 26.7l0.5 0.3M33.6 18.0l-0.0 0.0M6.1 28.4l0.2 0.1M29.7 38.5l-0.2 0.6M37.2 33.3l0.0 0.0M2.1 0.5l-0.0 0.5M31.7 42.7l-0.4 0.0M4.5 12.8l-0.1 0.0M54.9 19.9l-0.0 0.0M23.3 43.1l0.1 0.1M30.5 19.8l-0.2 0.2M25.2 33.2l0.1 0.2M23.3 26.3l0.2 0.2M28.5 28.5l0.2 0.1M20.4 12.9l-0.0 0.1M19.9 25.7l0.1 0.5M56.5 26.5l-0.0 0.5M31.8 21.6l-0.6 0.1M52.0 37.7l-0.1 0.5M50.5 38.3l-0.1 0.0" stroke="#8152a8" stroke-width="1.5"/>
<path d="M40.3 35.8l-0.4 0.1M50.5 24.0l0.5 0.0M28.4 32.9l0.1 0.1M45.5 25.9l0.3 0.0M57.0 37.0l0.0 0.1M41.9 27.7l-0.1 0.1M14.4 30.9l-0.3 0.3M35.1 26.0l0.1 0.1M51.0 32.3l0.5 0.2M44.3 38.9l0.1 0.2M37.0 14.6l0.1 0.0M13.5 27.6l-0.0 0.0M50.3 26.6l-0.1 0.1M25.8 25.4l-0.3 0.4M2.2 27.2l0.0 0.5M27.7 33.0l-0.1 0.6" stroke="#8152a8" stroke-width="1.0"/>
<path d="M12.3 29.9l0.3 0.0M36.7 8.6l0.1 0.0M30.7 27.4l0.3 0.1M38.5 17.7l0.2 0.4M49.7 40.5l0.4 0.1M53.6 43.5l-0.5 0.2M44.5 43.1l-0.3 0.2M26.1 40.0l0.1 0.3" stroke="#8152a8" stroke-width="2.0"/>
<path d="M34.4 11.7l0.3 0.5M28.5 28.2l-0.2 0.3M31.5 43.0l-0.0 0.0M44.6 33.4l0.2 0.1M14.6 18.4l0.1 0.1M55.8 37.4l-0.0 0.2M55.6 37.8l-0.3 0.6M27.2 25.5l0.0 0.1M22.3 37.8l-0.4 0.3M41.1 40.5l0.1 0.5M13.4 42.2l0.3 0.6" stroke="#8e5eb2" stroke-width="1.0"/>
<path d="M11.0 32.6l-0.4 0.2M31.1 37.0l-0.1 0.1M17.8 34.4l0.4 0.5M19.6 38.1l0.2 0.4M36.2 26.9l0.5 0.4M27.0 8.2l-0.0 0.0M43.4 23.3l-0.1 0.0M16.2 33.9l0.0 0.0M2.6 8.4l-0.1 0.0M13.6 43.4l-0.4 0.3M7.5 4.0l-0.4 0.2" stroke="#8e5eb2" stroke-width="2.0"/>
<path d="M31.7 23.6l0.3 0.2M25.4 19.0l0.1 0.1M27.8 31.4l0.4 0.3M19.9 30.1l0.2 0.1M36.7 22.6l-0.3 0.1M40.7 12.0l-0.1 0.1M10.5 12.1l0.1 0.1" stroke="#9c6ebc" stroke-width="1.0"/>
<path d="M19.8 27.4l-0.1 0.1" stroke="#4e2a80" stroke-width="1.0"/>
<path d="M33.0 14.7l0.2 0.3M39.1 18.5l0.0 0.1M31.7 13.7l-0.2 0.1M56.3 0.4l0.1 0.1M42.1 3.8l-0.2 0.5" stroke="#3e2068" stroke-width="1.5"/>
<path d="M0.0 23.4l0.0 0.3" stroke="#5e3490" stroke-width="1.5"/>
<path d="M31.3 15.0l-0.1 0.1M16.6 38.6l0.4 0.0M11.7 7.7l0.2 0.6M39.3 18.7l0.1 0.2M41.6 5.7l0.1 0.0M56.7 26.0l-0.2 0.0" stroke="#4e2a80" stroke-width="1.5"/>
<path d="M39.5 29.6l-0.1 0.1" stroke="#5e3490" stroke-width="1.0"/>
</g></g>
<g clip-path="url(#c13)"><g filter="url(#soft)" transform="translate(120.90 802.60)" fill="none" stroke-linecap="round">
<rect x="-2" y="-2" width="62.3" height="47.6" fill="#d8c0ce"/>
<path d="M33.9 8.5h0M56.3 40.3h0M27.2 28.9h0M12.5 9.7h0M16.8 30.2h0M12.4 42.3h0M4.1 8.4h0M5.2 33.6h0M21.4 20.6h0M19.0 27.8h0M23.5 9.1h0M25.1 13.3h0M6.5 35.9h0M39.7 29.0h0M51.4 17.2h0M22.1 18.4h0M23.6 29.2h0M0.4 20.2h0M31.2 15.1h0M1.3 30.7h0M0.6 24.6h0M8.9 1.5h0M10.5 2.9h0M8.8 29.9h0M42.5 15.8h0M38.0 20.7h0M29.1 38.2h0M18.1 37.9h0M40.3 29.8h0M0.3 3.7h0M1.9 15.1h0M55.2 38.2h0M48.9 5.2h0M41.1 33.8h0M47.2 34.5h0M8.2 7.8h0M46.2 32.2h0M52.0 19.5h0M51.9 6.1h0M55.8 38.6h0M19.7 2.9h0M32.0 30.0h0M20.4 2.5h0M16.2 35.9h0M5.3 40.9h0M14.6 8.9h0M6.5 42.8h0M52.5 13.9h0M5.6 28.5h0M51.7 0.5h0M36.9 37.4h0M26.7 24.8h0M46.9 10.4h0M15.9 28.8h0M32.2 23.3h0M19.5 40.9h0M16.8 29.6h0M52.1 17.5h0M3.2 9.6h0M3.9 6.5h0M7.0 14.9h0M21.6 19.5h0M38.8 29.5h0M40.1 15.9h0M38.6 24.0h0M7.4 23.8h0M18.6 29.5h0M42.8 10.5h0M25.4 19.8h0M17.3 1.8h0M2.9 43.3h0M43.1 19.1h0M38.9 11.7h0M41.4 41.5h0M45.1 20.3h0M57.3 40.2h0M3.4 18.0h0M26.4 12.0h0M35.9 6.3h0M43.6 37.4h0M3.6 30.2h0M15.5 27.8h0M40.3 42.6h0M46.5 14.8h0M42.6 6.4h0M41.6 18.2h0M15.5 10.4h0M12.6 34.7h0M5.6 10.1h0M11.2 6.9h0M42.6 25.6h0M38.8 39.3h0M26.2 1.6h0M11.0 22.5h0M41.7 40.0h0M29.8 9.9h0M34.6 40.8h0M19.4 40.6h0M52.7 25.2h0M28.0 5.6h0M6.4 1.8h0M35.6 31.1h0M57.9 26.3h0M57.9 17.6h0M7.8 2.6h0M16.8 23.1h0M57.5 13.0h0M13.7 31.5h0M22.6 24.3h0M8.8 37.2h0M53.6 32.9h0M54.6 14.5h0M1.9 13.3h0M52.3 20.5h0M11.7 6.6h0M9.6 19.1h0M54.0 38.5h0M44.2 33.0h0M11.1 33.9h0M13.1 22.9h0M2.0 38.9h0M7.5 25.8h0M38.6 28.1h0M39.8 16.1h0M46.2 40.9h0M36.0 42.7h0M49.5 2.4h0M39.2 4.0h0M38.6 16.2h0M49.8 1.9h0M55.2 1.9h0M3.3 0.1h0M7.3 43.0h0M48.7 40.0h0M10.9 30.0h0M46.4 31.7h0M15.7 42.3h0M42.5 29.8h0M16.6 17.3h0M44.2 22.5h0M28.4 40.1h0M24.5 37.5h0M2.7 23.1h0M41.6 0.5h0M40.6 12.5h0M36.5 27.2h0M8.0 41.1h0M14.1 5.9h0M25.8 2.8h0M5.9 33.2h0M5.7 23.6h0M51.6 19.8h0M47.5 36.2h0M9.6 3.3h0M45.7 37.8h0M49.7 31.1h0M29.7 41.8h0M43.1 33.3h0M53.1 2.4h0M43.2 25.5h0M0.7 11.1h0M41.7 23.1h0M32.8 12.5h0M33.1 38.3h0M57.1 24.1h0M42.6 3.8h0M8.2 24.4h0M48.2 5.2h0M8.6 21.8h0M17.8 6.1h0M9.2 18.5h0M46.2 7.5h0M47.0 3.3h0M14.6 29.2h0M0.4 14.0h0M9.0 10.0h0M51.7 6.9h0M42.0 39.7h0M14.3 37.6h0M18.7 33.7h0M33.9 15.3h0M51.7 30.3h0M18.6 25.0h0M17.2 12.5h0M54.7 42.5h0M9.2 40.0h0M41.6 0.5h0M6.3 19.0h0M51.7 38.1h0M14.6 19.4h0M53.9 9.1h0M6.1 18.1h0M39.7 38.1h0M51.1 0.5h0M10.2 5.6h0M34.7 17.7h0M53.8 26.8h0M35.8 30.0h0M11.9 39.0h0M50.2 35.9h0M45.6 7.5h0M3.1 15.9h0M41.8 8.8h0M50.7 37.4h0M40.6 21.1h0M8.8 35.3h0M10.1 21.6h0M44.2 27.7h0M13.8 38.3h0M18.7 18.3h0M25.6 30.6h0M2.3 27.8h0M28.4 34.9h0M21.3 24.9h0M56.4 2.5h0M46.2 20.4h0M17.5 12.0h0M12.7 36.8h0M11.8 42.0h0M30.1 12.4h0M45.7 25.3h0M51.6 6.3h0M40.3 1.2h0M10.7 18.1h0M18.3 12.3h0M33.2 32.6h0M24.3 22.2h0M45.6 9.9h0M58.2 1.0h0M21.6 36.0h0M13.7 14.4h0M10.0 42.5h0M51.1 3.5h0M31.4 6.6h0M1.1 9.6h0M41.0 23.0h0M16.8 25.3h0M4.8 14.9h0M5.7 35.9h0M22.3 31.2h0M19.6 18.1h0M33.5 11.3h0M31.9 33.7h0M4.3 8.7h0M1.2 21.3h0M6.4 22.7h0M9.4 22.9h0M16.4 32.7h0M47.5 41.8h0M27.0 38.8h0M50.2 14.6h0M57.1 41.8h0M9.2 32.8h0M40.1 26.9h0M41.4 12.1h0M48.6 31.5h0M10.7 42.1h0M42.8 2.4h0M1.9 7.4h0M38.6 31.5h0" stroke="#a4947c" stroke-width="0.75" opacity="0.55"/>
<path d="M54.3 38.5l-0.1 0.1M11.9 10.4l-0.2 0.4M23.1 37.4l-0.5 0.4M24.7 31.0l-0.1 0.1M41.0 0.3l0.1 0.1M48.9 20.9l0.1 0.0M45.6 18.3l-0.2 0.6M34.0 5.6l0.7 0.0M26.0 32.6l-0.7 0.1M41.6 15.0l-0.5 0.3M47.5 8.3l-0.0 0.4M50.7 29.4l0.1 0.0M15.7 5.0l-0.2 0.3M24.2 0.7l0.1 0.2M5.4 35.0l0.1 0.2M17.2 12.9l0.2 0.4M57.8 29.9l0.3 0.2M13.8 16.1l-0.1 0.3M4.6 34.1l0.0 0.2M50.6 15.0l0.2 0.7M4.6 19.9l-0.6 0.4M17.9 32.3l-0.6 0.1M32.1 38.8l-0.1 0.1M25.1 27.6l-0.6 0.4M15.0 8.6l-0.2 0.2M1.9 34.7l-0.5 0.2M38.6 25.6l-0.1 0.1M21.0 10.9l0.6 0.0M7.4 36.4l0.6 0.3M45.2 28.9l-0.1 0.5M40.0 31.9l-0.5 0.4M43.6 20.6l0.5 0.3M47.1 21.1l0.1 0.2M19.2 16.0l-0.5 0.3M37.5 16.3l0.1 0.2M56.9 2.8l-0.2 0.2M36.4 17.2l-0.0 0.1M54.4 28.9l-0.1 0.1M23.8 30.5l0.1 0.0M1.9 31.9l0.0 0.1M28.1 26.4l-0.0 0.3M42.0 30.2l-0.5 0.3M38.2 35.6l-0.0 0.2M34.2 37.7l0.0 0.0M29.7 29.6l0.2 0.5M48.6 13.9l0.2 0.1M4.1 34.8l0.5 0.2M5.1 26.9l0.4 0.4M39.2 18.1l0.0 0.3M37.4 16.3l0.0 0.0M39.4 26.6l-0.4 0.1M37.7 33.6l0.0 0.3M38.8 4.9l0.6 0.1M39.7 17.7l-0.2 0.1M56.9 23.9l0.5 0.4M11.0 21.6l-0.3 0.2M44.4 5.5l0.6 0.4M56.0 41.8l0.5 0.2M23.4 32.7l-0.1 0.5M15.5 5.0l0.4 0.1M19.5 12.0l0.0 0.6M55.8 12.4l-0.0 0.0M28.2 12.1l-0.3 0.2M37.1 16.7l0.3 0.2M17.8 21.4l0.1 0.2M20.9 27.5l-0.5 0.0M29.8 37.3l-0.2 0.2M34.3 15.3l0.3 0.5M0.6 22.8l0.1 0.0M51.4 2.7l0.4 0.4M40.9 37.0l-0.0 0.4M21.0 9.0l-0.0 0.6M8.9 40.2l-0.4 0.4M2.2 22.1l-0.1 0.3M54.5 25.7l0.6 0.3M46.0 4.3l0.6 0.2M17.8 32.6l-0.1 0.3M3.9 31.2l-0.0 0.2M51.3 19.7l0.0 0.2M43.7 1.1l0.2 0.4M36.4 24.6l-0.3 0.2" stroke="#8e5eb2" stroke-width="2.0"/>
<path d="M10.3 36.8l-0.5 0.2M30.0 17.8l-0.1 0.1M46.3 17.2l0.1 0.0M23.9 21.3l-0.0 0.6M5.5 12.0l-0.1 0.3M50.2 23.9l0.2 0.3M15.6 19.7l-0.0 0.4M36.8 20.9l0.3 0.5M21.2 2.0l0.2 0.1M6.5 21.0l-0.4 0.4M7.9 17.7l0.1 0.0M4.1 2.2l0.3 0.2M41.6 2.9l-0.1 0.3M13.7 33.9l-0.2 0.1M15.3 42.7l-0.1 0.0M53.3 43.5l-0.2 0.2M45.1 5.0l0.0 0.2M46.4 8.3l-0.1 0.1M4.0 25.6l-0.0 0.0M32.9 39.0l-0.3 0.4M6.2 29.7l0.3 0.4M1.6 17.7l0.6 0.1M10.2 32.5l-0.2 0.2M42.0 6.4l-0.2 0.6M40.3 39.6l-0.0 0.2M48.2 10.4l-0.3 0.3M41.9 11.3l0.3 0.4M58.1 7.1l0.5 0.2M23.4 8.1l0.2 0.1M44.0 32.2l0.0 0.0M46.1 22.0l0.4 0.1M37.4 7.4l-0.4 0.4M18.1 4.5l0.2 0.1M47.4 38.1l0.5 0.2M46.4 5.9l0.1 0.6M21.2 21.2l0.0 0.2M33.0 26.8l-0.1 0.0M40.4 15.5l-0.2 0.0M5.7 3.4l-0.3 0.2M46.5 25.6l-0.4 0.2M20.3 18.7l0.1 0.0M45.7 28.8l0.5 0.4M53.9 0.9l0.2 0.2M5.4 8.1l0.0 0.0M34.8 18.9l-0.1 0.1M25.0 39.3l0.0 0.1M44.5 1.0l-0.3 0.5M15.7 19.0l0.4 0.1M3.0 33.6l0.1 0.3M29.0 17.6l0.3 0.4M25.3 5.9l0.0 0.0M24.1 26.9l0.1 0.0M3.7 0.6l0.1 0.0M35.1 34.5l-0.2 0.2M50.0 26.3l0.1 0.3M3.4 2.3l0.4 0.6M32.7 18.6l-0.0 0.0M44.5 2.7l-0.5 0.4M25.7 21.0l-0.1 0.1M28.1 2.1l-0.1 0.6M41.6 5.0l-0.3 0.6M1.8 12.7l0.2 0.2M33.7 6.9l0.2 0.6M25.4 8.0l0.7 0.0M49.9 18.8l0.5 0.0M44.0 4.3l0.1 0.0" stroke="#8152a8" stroke-width="2.5"/>
<path d="M43.5 22.9l0.3 0.1M16.8 5.8l-0.1 0.0M47.6 10.8l-0.2 0.4M16.5 40.8l-0.3 0.4M5.6 18.5l-0.0 0.1M51.7 6.1l-0.1 0.0M57.0 10.9l0.0 0.1M53.9 11.9l0.5 0.4M35.2 6.2l-0.1 0.6M34.0 12.3l-0.1 0.1M45.1 15.6l0.0 0.2M21.4 29.8l-0.1 0.2M31.7 34.4l0.3 0.3M24.2 33.1l0.2 0.3M36.5 18.3l-0.3 0.2M24.3 15.3l0.0 0.0M0.8 25.8l-0.2 0.2M12.9 1.7l0.6 0.0M20.5 20.5l-0.1 0.0M50.6 20.5l-0.0 0.0M51.3 5.2l-0.1 0.6M40.6 2.9l0.5 0.1M43.4 10.9l-0.2 0.6M55.9 34.6l0.5 0.1M27.4 28.4l0.3 0.5M8.6 17.1l0.3 0.1M44.5 14.3l-0.1 0.6M5.3 12.8l0.3 0.3M12.6 12.2l-0.4 0.1" stroke="#9c6ebc" stroke-width="1.5"/>
<path d="M54.9 30.6l-0.1 0.1M7.5 24.3l-0.4 0.3M33.1 7.9l0.4 0.1M34.8 14.8l0.2 0.2M23.8 24.5l-0.4 0.6M10.4 14.0l0.1 0.0M0.4 34.3l0.0 0.6M0.5 16.0l0.0 0.1M46.5 26.0l-0.0 0.0M20.5 34.3l-0.2 0.1M7.0 17.0l0.0 0.0M11.4 26.3l-0.6 0.1M39.4 4.3l-0.3 0.5M44.2 23.8l-0.1 0.0M13.3 11.7l0.4 0.3M10.3 15.7l0.3 0.6M1.3 27.9l-0.0 0.1M24.7 40.9l-0.0 0.0M44.5 19.1l0.1 0.3M56.1 12.3l0.0 0.0M39.0 0.5l0.0 0.3M7.8 5.0l-0.2 0.4M11.1 12.7l-0.3 0.5M19.4 10.2l-0.1 0.1M52.9 15.0l0.2 0.3M4.5 35.7l-0.4 0.1M23.7 20.5l-0.1 0.5M5.4 25.9l0.4 0.6M42.5 42.4l0.0 0.0M35.2 0.8l0.0 0.0M25.5 28.4l0.1 0.1M28.4 8.9l-0.4 0.1M53.5 42.8l-0.6 0.0M13.7 12.3l-0.2 0.5M37.4 23.8l-0.1 0.2M49.3 23.0l-0.3 0.2M18.0 37.1l-0.1 0.1M50.5 6.4l0.0 0.3M46.1 18.3l-0.1 0.4M53.0 43.2l0.2 0.1M44.1 22.0l-0.1 0.7M20.0 6.8l0.2 0.2M0.2 18.4l-0.0 0.1M40.8 14.5l-0.1 0.3M32.4 41.2l0.0 0.1M55.6 13.9l0.2 0.1M28.5 31.4l0.1 0.2M40.3 32.1l0.2 0.6M16.7 22.9l-0.1 0.2M33.6 6.6l-0.3 0.2M33.8 17.6l-0.4 0.1M31.8 12.4l0.0 0.1M41.0 21.7l0.5 0.0M47.8 27.8l0.4 0.5M18.3 11.5l-0.5 0.1M19.9 7.6l0.5 0.4M50.2 21.0l-0.1 0.5M19.8 40.2l0.0 0.0M44.2 39.1l-0.3 0.5M11.6 9.1l0.1 0.3M50.4 31.6l-0.1 0.1M13.5 24.9l-0.7 0.1M8.4 16.9l0.2 0.0M43.3 39.0l0.1 0.4M45.7 37.9l0.3 0.6M8.5 40.1l0.3 0.3M20.4 10.0l0.0 0.4M56.8 17.6l-0.0 0.1M2.2 15.9l0.0 0.5M28.2 22.9l0.0 0.0M21.5 34.3l-0.1 0.1M6.3 19.2l-0.3 0.5M44.5 14.2l0.2 0.5M34.4 39.7l0.0 0.6M19.3 18.3l-0.3 0.4M24.7 41.3l-0.2 0.4M26.0 30.9l-0.4 0.0M49.2 14.1l-0.2 0.1M33.6 30.7l-0.0 0.0M7.7 32.4l-0.5 0.1M57.3 8.3l0.4 0.1M44.3 3.4l-0.1 0.0M4.2 1.6l-0.7 0.1" stroke="#9c6ebc" stroke-width="2.0"/>
<path d="M28.8 24.3l-0.1 0.1M58.2 15.8l0.0 0.2M18.6 22.2l-0.0 0.1M0.8 16.8l0.2 0.2M1.1 13.3l-0.5 0.1M47.4 12.4l0.1 0.2M58.0 32.8l0.2 0.2M32.3 6.9l0.1 0.4M10.1 0.7l0.2 0.2M40.2 36.2l-0.1 0.5M29.0 14.7l-0.3 0.4M39.6 24.6l0.1 0.1M55.5 7.7l0.4 0.2M30.4 42.5l-0.3 0.3M2.1 25.0l-0.1 0.2M15.4 30.2l-0.2 0.2M14.7 12.7l-0.6 0.4M21.9 26.3l-0.5 0.3M13.4 20.7l0.2 0.4M53.2 10.0l-0.0 0.4M50.5 21.8l0.5 0.3M1.0 32.3l0.2 0.0M44.4 18.4l-0.3 0.6M47.6 38.6l0.0 0.0M33.1 35.1l-0.0 0.3M34.2 0.1l-0.0 0.1M17.5 35.1l-0.5 0.2M33.6 37.0l-0.0 0.0M17.9 30.1l0.1 0.1M12.4 40.4l0.1 0.1M14.6 5.3l0.4 0.5M45.2 13.9l0.4 0.0M0.2 8.2l0.1 0.3M36.8 35.9l-0.0 0.1M55.3 19.5l0.2 0.2M3.6 32.9l0.1 0.4M4.9 17.4l-0.2 0.4M10.0 42.2l0.0 0.2M17.4 26.8l0.5 0.1M41.0 6.4l0.2 0.4M42.0 37.5l-0.2 0.3M43.5 39.9l0.4 0.3M14.5 15.3l-0.1 0.1M51.6 43.1l0.1 0.5M33.1 20.7l-0.1 0.2M43.9 25.0l0.1 0.3M26.2 10.6l0.4 0.1M42.8 13.2l-0.0 0.1M44.8 3.9l0.0 0.5M4.8 9.7l-0.3 0.5M52.6 15.6l-0.0 0.1M38.2 3.4l-0.6 0.2M8.2 16.9l-0.1 0.2M10.1 2.6l0.0 0.0M54.8 28.5l0.1 0.0M57.5 33.4l0.1 0.1M38.0 36.5l0.1 0.1M9.8 32.4l0.3 0.4M31.0 4.7l-0.5 0.3M9.4 15.8l0.0 0.0M0.1 37.7l-0.2 0.0M38.6 3.7l-0.2 0.2M25.5 25.6l-0.2 0.6M3.9 1.3l0.4 0.3M33.8 3.7l-0.3 0.1M39.6 13.8l-0.1 0.5M35.1 31.0l0.0 0.5M3.4 43.5l-0.1 0.1M0.2 28.4l0.4 0.1M45.1 20.0l-0.2 0.0M10.4 32.8l0.1 0.2M7.9 16.8l0.1 0.0M18.8 40.5l0.0 0.5M46.4 32.0l0.3 0.2M15.9 34.3l0.4 0.3M19.8 22.7l-0.1 0.1" stroke="#9c6ebc" stroke-width="2.5"/>
<path d="M17.1 2.2l-0.2 0.5M49.3 5.3l-0.3 0.3M19.5 10.3l-0.4 0.5M45.7 40.6l0.3 0.3M16.9 15.5l0.1 0.0M30.9 24.7l0.1 0.5M47.9 4.6l0.5 0.1M2.6 14.5l-0.2 0.1M29.8 5.2l-0.1 0.1M25.2 4.9l0.3 0.2M43.7 41.6l-0.5 0.1M23.1 12.5l0.3 0.3M37.4 17.6l0.3 0.3M8.5 26.8l0.0 0.1M15.9 1.5l0.1 0.6M2.4 33.2l-0.2 0.3M56.6 38.9l0.1 0.4M31.7 40.6l0.2 0.1M1.2 24.2l-0.0 0.6M26.6 40.4l-0.4 0.5M50.5 23.9l-0.4 0.2M2.5 20.2l0.1 0.1M8.6 6.3l0.1 0.1M5.3 37.3l0.0 0.0M21.9 33.3l0.2 0.5M49.1 3.3l0.3 0.2M1.1 35.3l0.4 0.1M5.8 12.3l-0.2 0.4M20.1 37.7l-0.0 0.0M21.5 11.5l0.0 0.1M17.2 2.3l0.1 0.1M5.1 24.1l0.2 0.0M9.9 36.8l0.3 0.3M29.2 37.7l-0.4 0.5M43.7 23.6l-0.6 0.2M32.4 5.9l0.3 0.1M11.6 29.5l0.0 0.1M38.8 11.5l-0.2 0.1M34.3 33.2l0.0 0.0M50.0 32.7l-0.5 0.3M36.6 20.2l-0.0 0.0M39.9 5.0l-0.0 0.0M17.2 26.9l0.4 0.0M57.5 36.7l-0.4 0.0M22.3 37.9l0.4 0.0M25.5 10.2l-0.1 0.5M32.3 5.4l0.3 0.2M24.2 17.5l0.0 0.0M36.0 12.2l-0.4 0.1M53.3 16.4l-0.2 0.4M27.6 9.4l-0.1 0.4M10.5 20.8l0.3 0.3M50.7 16.3l0.2 0.1M25.8 28.4l0.4 0.1M11.9 25.6l-0.3 0.1M30.5 29.1l-0.1 0.0M28.7 8.9l-0.3 0.2M16.1 10.4l-0.1 0.2M40.0 3.6l0.3 0.2M31.3 14.9l0.1 0.6M9.3 36.1l-0.2 0.1M14.6 30.9l-0.3 0.5M40.7 20.3l0.3 0.4M30.4 8.7l0.1 0.3M6.4 8.2l0.0 0.1M8.9 35.5l-0.7 0.0M15.8 40.0l0.2 0.6M0.5 20.6l-0.2 0.0M43.8 26.7l-0.0 0.2M22.0 34.0l0.0 0.1M49.8 21.5l-0.3 0.1M23.8 31.2l0.3 0.4M31.6 30.9l0.5 0.2M55.3 1.2l-0.0 0.0M7.4 4.0l-0.0 0.1M51.3 4.4l0.3 0.1" stroke="#8e5eb2" stroke-width="2.5"/>
<path d="M19.2 6.7l-0.1 0.1M13.3 34.9l-0.1 0.4M6.5 20.0l0.2 0.2M34.7 30.2l-0.3 0.6M6.9 1.9l-0.1 0.1M21.9 42.2l-0.0 0.3M35.6 5.0l-0.6 0.0M37.6 40.8l-0.0 0.4M16.4 12.5l-0.6 0.1M53.8 8.1l-0.5 0.3M41.1 5.1l0.2 0.1M29.7 0.8l-0.4 0.0M56.5 3.8l-0.3 0.1M46.0 6.3l-0.0 0.2M19.7 28.0l-0.6 0.1M47.4 24.3l-0.0 0.5M19.6 40.8l-0.2 0.1M32.0 10.1l0.6 0.1M27.1 9.8l-0.2 0.1M35.0 42.4l-0.3 0.1M10.8 27.2l-0.0 0.2M25.3 2.5l-0.4 0.2M45.6 40.7l0.3 0.0M22.0 10.4l0.5 0.2M22.6 7.8l0.2 0.0M36.0 35.9l0.2 0.4M20.7 27.6l0.0 0.1M51.2 18.7l0.2 0.0M10.6 37.1l-0.5 0.2M4.8 27.7l-0.4 0.3M8.1 38.6l-0.2 0.2M27.3 36.6l0.1 0.5M25.4 25.9l0.0 0.0M48.1 29.5l0.5 0.3M28.9 33.5l0.5 0.5M54.6 11.7l0.3 0.6M11.4 37.4l0.1 0.2M2.8 9.4l0.3 0.0M50.9 27.5l0.1 0.1M15.0 28.4l0.0 0.1M51.5 6.6l0.5 0.2M51.3 11.8l0.2 0.0M4.2 26.5l0.0 0.0M49.9 7.7l-0.5 0.1M34.7 26.0l0.7 0.1M19.8 6.2l0.2 0.5M48.0 7.4l-0.1 0.0M7.8 4.4l0.6 0.0M13.9 10.9l0.5 0.1M14.3 2.4l0.5 0.4M10.9 26.5l-0.6 0.0M18.2 6.1l0.0 0.0M50.9 3.6l-0.2 0.5M35.1 16.9l0.2 0.5M14.3 26.0l0.1 0.1M28.4 43.3l0.3 0.0M41.0 32.0l-0.2 0.1M39.0 19.8l-0.4 0.4M19.9 17.7l0.1 0.1M43.8 40.9l-0.0 0.2M42.6 6.3l0.6 0.3M43.9 16.9l-0.0 0.2M26.4 6.1l0.3 0.1M6.6 33.7l0.0 0.1M35.6 0.1l0.1 0.0M9.4 35.6l-0.0 0.0M13.7 42.5l0.6 0.0M50.4 43.3l-0.3 0.5M40.2 17.6l-0.5 0.0M4.3 39.0l0.5 0.3M12.9 37.7l0.5 0.5M7.7 40.1l0.2 0.2M26.6 33.6l0.3 0.5M51.2 1.0l-0.0 0.1M43.7 41.3l0.0 0.5M7.9 34.5l-0.2 0.3M57.7 13.5l-0.1 0.2M23.8 18.4l0.6 0.2M28.3 14.9l0.5 0.4M15.5 10.3l0.1 0.0M49.3 42.1l0.2 0.2M5.5 39.0l-0.1 0.1M11.0 19.7l-0.3 0.4M27.0 0.1l0.2 0.3M55.7 24.0l0.3 0.1M30.1 23.8l0.1 0.4M53.5 38.9l0.3 0.4M22.1 30.0l-0.3 0.4" stroke="#8152a8" stroke-width="2.0"/>
<path d="M14.8 37.8l-0.1 0.5M11.5 33.0l-0.1 0.3M42.4 12.7l-0.0 0.0M9.8 42.5l-0.2 0.5M56.2 2.3l0.3 0.4M46.4 1.1l0.4 0.5M7.7 16.3l-0.2 0.2M57.4 17.1l-0.1 0.1M16.3 18.6l0.0 0.7M21.9 39.6l-0.3 0.4M1.1 14.7l0.3 0.4M51.9 1.6l-0.0 0.0M15.2 7.7l-0.1 0.2M28.2 10.5l-0.0 0.4M32.3 38.7l0.4 0.3M35.9 40.5l-0.2 0.0M7.2 36.7l-0.0 0.0M53.5 12.9l-0.4 0.0M30.8 14.5l0.2 0.5M42.5 9.8l-0.1 0.1M35.9 40.9l-0.1 0.2M8.7 36.0l-0.2 0.2M37.3 3.7l-0.3 0.4M24.0 36.8l-0.4 0.1M38.1 36.4l-0.3 0.2M14.6 8.4l0.0 0.0M1.8 0.2l-0.2 0.6M54.4 34.7l0.2 0.2M29.5 33.6l-0.3 0.4M46.9 6.7l-0.1 0.1M1.3 28.8l-0.2 0.4M31.5 25.7l0.6 0.2M11.8 12.9l0.5 0.3M14.7 30.1l-0.1 0.2M44.3 39.5l0.4 0.5M41.5 32.6l0.5 0.2M7.9 13.7l0.2 0.5M34.8 18.6l0.4 0.2M14.7 29.3l-0.1 0.3M4.2 15.8l-0.1 0.3M36.5 13.3l0.0 0.0M12.6 3.7l0.2 0.1M8.5 16.5l-0.0 0.2M53.2 29.0l0.0 0.1M56.4 7.3l0.3 0.6" stroke="#8152a8" stroke-width="1.5"/>
<path d="M35.6 16.9l0.5 0.1M11.0 42.9l-0.4 0.5M13.6 11.1l0.1 0.2M6.8 13.1l-0.1 0.1M22.5 42.7l0.4 0.1M16.0 8.5l-0.0 0.2M47.9 18.3l0.0 0.1M3.7 27.7l0.1 0.5M39.5 16.7l-0.0 0.3M11.1 14.8l-0.1 0.0M19.1 6.3l-0.1 0.2M37.4 31.4l0.1 0.3M17.0 42.3l-0.4 0.3M2.3 2.0l-0.0 0.5M35.0 7.0l0.3 0.3M25.0 5.7l0.3 0.2" stroke="#8e5eb2" stroke-width="1.5"/>
<path d="M51.5 38.9l0.1 0.4M32.3 12.6l-0.2 0.5M3.8 27.0l0.3 0.0M52.9 26.8l0.3 0.5M18.9 12.0l0.4 0.4M36.7 21.1l-0.2 0.3M28.7 30.0l-0.1 0.1M8.5 38.0l-0.2 0.4M15.8 23.6l-0.3 0.3M11.4 26.9l-0.1 0.0M52.3 4.0l-0.4 0.1M5.1 0.1l-0.5 0.5M27.3 34.7l0.0 0.6M36.7 22.6l0.2 0.1M25.7 42.3l0.2 0.0M44.2 9.2l-0.2 0.5M31.6 7.5l0.0 0.1M0.6 15.3l-0.0 0.2M19.2 33.1l-0.3 0.6M22.3 3.2l-0.3 0.4M57.7 29.6l0.5 0.0M11.8 12.4l0.1 0.3M12.4 0.6l0.0 0.1M24.4 33.8l-0.6 0.0M36.8 40.4l-0.0 0.0M23.4 27.8l-0.0 0.1M53.6 10.8l-0.1 0.1M30.5 9.8l-0.1 0.0M43.0 8.2l0.2 0.4M2.0 29.6l0.5 0.3M6.6 23.8l0.4 0.1M11.0 4.6l0.0 0.2M32.7 2.7l0.1 0.0M37.8 35.9l0.1 0.0M8.4 11.9l0.4 0.1M35.4 35.1l0.0 0.3M4.1 37.5l0.3 0.3M44.0 16.5l0.0 0.6M19.3 30.9l0.1 0.1M26.9 19.0l0.2 0.2M44.4 29.5l0.2 0.6M6.4 40.5l0.2 0.0M49.4 2.4l-0.0 0.1" stroke="#3e2068" stroke-width="1.5"/>
<path d="M46.8 21.8l0.0 0.3M51.0 7.4l-0.0 0.1M33.4 38.1l-0.0 0.0M3.8 30.0l0.5 0.2M17.8 7.5l0.2 0.4M15.8 0.9l-0.1 0.6M54.8 9.4l0.2 0.4M19.9 42.1l-0.0 0.0M29.4 16.1l0.1 0.4M17.3 8.2l-0.1 0.2M22.1 32.9l-0.1 0.1M52.8 23.7l-0.5 0.3M5.6 6.6l-0.4 0.2M30.7 1.3l0.4 0.1M40.3 26.2l0.6 0.2M19.9 28.0l0.1 0.2M24.5 39.5l0.1 0.0M54.7 30.2l0.5 0.5M13.9 21.6l-0.5 0.5M25.8 37.2l-0.4 0.1M6.1 12.0l0.1 0.2M29.6 0.6l-0.3 0.1M11.4 25.7l-0.0 0.2M38.8 8.3l-0.0 0.0M37.9 18.8l-0.4 0.1M44.2 9.7l-0.2 0.0M16.9 12.8l0.7 0.1M48.2 37.7l0.2 0.1M46.1 4.4l-0.2 0.1M35.4 23.3l-0.1 0.0M50.0 27.0l0.0 0.0M12.4 18.5l-0.0 0.0M5.7 5.3l-0.2 0.1M48.7 0.5l0.1 0.0M27.0 11.3l0.4 0.4M13.0 15.7l0.1 0.1M50.1 21.1l-0.0 0.0M10.5 25.6l0.3 0.1M31.3 30.6l0.0 0.1M2.9 18.2l-0.3 0.4M27.2 19.2l0.6 0.2M55.8 0.2l0.2 0.0M51.7 21.6l0.3 0.5M55.1 8.8l0.0 0.0M4.2 24.7l-0.1 0.1M15.8 43.2l-0.0 0.6M37.0 22.8l-0.3 0.1" stroke="#4e2a80" stroke-width="1.5"/>
<path d="M30.2 17.6l0.0 0.1M41.2 20.0l-0.1 0.0M20.9 15.1l-0.2 0.2M5.5 3.2l0.6 0.1M31.6 8.1l-0.2 0.1M16.9 26.9l-0.1 0.4M39.9 16.6l-0.0 0.0M42.1 9.9l-0.3 0.6M47.7 10.1l0.2 0.5M36.9 27.0l0.4 0.0M4.4 26.4l0.5 0.1M20.3 22.8l0.4 0.5M39.0 9.4l-0.2 0.3M28.4 20.8l-0.2 0.2M55.5 5.9l-0.5 0.1M14.6 30.2l-0.5 0.0M33.0 16.6l-0.0 0.1M8.2 7.7l0.2 0.1M27.7 10.2l0.0 0.0M53.2 9.0l0.0 0.2M55.6 6.3l-0.2 0.1M3.6 25.5l0.1 0.1M29.3 40.0l0.0 0.0M47.0 17.3l-0.1 0.2M57.1 5.0l-0.2 0.2M22.1 40.4l0.3 0.2M25.0 38.2l-0.3 0.3M32.2 12.5l-0.5 0.1M46.9 18.4l-0.2 0.6M33.4 0.3l0.4 0.3M20.4 29.3l0.4 0.1M52.9 14.1l-0.3 0.2M54.7 32.2l-0.3 0.2M32.0 9.5l-0.3 0.1M53.1 28.2l-0.1 0.1M55.1 18.8l0.2 0.2M54.9 3.4l0.2 0.2M10.1 13.8l0.5 0.1M53.6 7.9l-0.1 0.0M0.5 36.0l0.1 0.5M8.9 41.6l-0.0 0.1M43.9 28.9l-0.2 0.2" stroke="#5e3490" stroke-width="1.5"/>
<path d="M29.2 4.0l-0.4 0.0M9.3 23.5l-0.2 0.1M7.9 43.0l0.2 0.4M26.7 8.3l0.0 0.0M21.5 10.1l0.1 0.0M26.6 23.9l0.7 0.1M22.6 15.5l0.5 0.2M8.5 19.7l0.0 0.0M30.5 15.3l0.0 0.3M48.8 32.1l0.2 0.0M12.6 38.2l-0.0 0.1M16.9 20.6l-0.4 0.2M11.2 29.7l0.5 0.3M49.5 27.5l0.3 0.5M36.9 15.5l0.5 0.5M0.5 13.6l-0.2 0.2M42.9 29.9l0.2 0.4M9.0 12.9l-0.1 0.3M28.1 4.5l0.1 0.1M56.2 6.1l-0.3 0.6M4.4 22.9l-0.3 0.6M5.2 39.0l0.2 0.2M47.8 40.0l0.0 0.1M30.1 19.9l0.1 0.0M27.0 11.3l0.0 0.0M16.8 36.5l-0.5 0.1M33.5 37.9l-0.1 0.1M49.3 11.8l-0.1 0.5M13.2 21.6l-0.0 0.0M8.6 8.5l-0.1 0.3M29.5 13.1l-0.2 0.2M24.4 5.0l-0.5 0.1" stroke="#3e2068" stroke-width="2.0"/>
<path d="M12.2 37.1l0.0 0.1M49.3 17.6l-0.1 0.3M11.4 3.7l0.1 0.4M20.1 32.1l-0.5 0.1M17.7 25.9l0.1 0.2M4.0 32.6l-0.6 0.2M18.4 18.2l-0.0 0.0M36.6 13.6l0.3 0.1M36.3 0.6l-0.1 0.2M31.2 35.7l0.3 0.6M41.0 6.2l-0.3 0.1M55.8 3.6l-0.5 0.2M19.4 30.4l0.5 0.0M25.2 23.4l-0.2 0.2M18.7 41.9l0.3 0.3M7.7 3.1l-0.1 0.3M4.8 12.6l-0.4 0.1M48.2 29.2l-0.2 0.1M29.0 26.2l-0.6 0.0M41.1 27.5l0.6 0.0M4.2 12.2l0.0 0.1M10.2 40.6l0.6 0.0M2.3 3.5l-0.3 0.4M20.0 5.7l0.0 0.2M1.2 20.6l-0.3 0.3M5.1 14.5l0.6 0.1M0.3 24.1l0.3 0.1M41.2 5.8l0.1 0.6M30.5 15.4l-0.3 0.0M3.7 28.4l0.0 0.0M54.4 5.5l-0.4 0.3M52.7 18.8l0.0 0.1M4.5 5.1l0.4 0.0M35.2 29.0l0.5 0.3M56.0 40.4l0.0 0.0M48.5 13.2l-0.2 0.5M5.0 0.2l0.2 0.1M7.2 22.6l-0.1 0.0M14.2 12.9l-0.5 0.3M24.7 37.2l0.0 0.0" stroke="#4e2a80" stroke-width="2.0"/>
<path d="M51.1 25.5l-0.2 0.3M21.0 17.0l0.1 0.1M22.1 43.2l0.2 0.4" stroke="#3e2068" stroke-width="1.0"/>
<path d="M21.1 1.3l-0.4 0.4M39.7 39.4l-0.1 0.4M19.6 42.4l-0.2 0.1M38.2 39.4l0.1 0.3M42.9 4.6l0.1 0.4M15.8 17.8l-0.4 0.5M33.1 37.2l0.1 0.3M10.1 40.9l0.0 0.0M29.5 7.4l0.1 0.0M23.2 20.6l0.3 0.2M32.0 21.8l0.2 0.4M29.6 11.6l0.0 0.3M9.2 5.0l-0.3 0.3M22.1 27.9l0.1 0.1M13.6 29.5l0.5 0.0M32.0 4.0l0.5 0.1M32.4 14.6l0.0 0.0M49.0 43.2l0.0 0.0M10.9 22.2l-0.6 0.3M10.2 16.4l-0.2 0.3M48.9 17.3l-0.4 0.4M5.7 32.0l0.4 0.4M34.0 0.1l0.3 0.3M18.2 18.9l-0.6 0.2M6.7 25.2l0.5 0.3M33.6 35.8l-0.3 0.3M55.2 12.0l-0.2 0.2M38.3 2.6l-0.3 0.5" stroke="#5e3490" stroke-width="2.0"/>
<path d="M6.1 33.8l-0.1 0.0M25.6 23.6l-0.0 0.0M31.3 33.1l0.0 0.2M22.0 32.0l0.2 0.1M28.8 23.8l0.6 0.0" stroke="#5e3490" stroke-width="1.0"/>
<path d="M21.9 19.0l-0.2 0.3M23.3 16.2l0.0 0.0M22.8 34.5l0.1 0.0M14.4 26.4l-0.4 0.5M32.1 17.1l0.3 0.3M23.7 26.0l-0.4 0.1M46.6 38.2l0.4 0.4M34.0 9.6l0.0 0.0M7.9 9.0l-0.6 0.2M4.0 16.2l0.1 0.0M54.8 5.6l0.2 0.0M42.7 16.2l0.3 0.0M7.1 12.4l0.2 0.1M36.0 41.4l0.1 0.0M46.4 16.1l0.1 0.1M0.9 35.3l0.5 0.3M1.5 32.4l-0.4 0.2M32.0 36.3l-0.0 0.0M12.0 4.1l0.3 0.4M18.9 31.2l0.2 0.4M57.4 36.5l-0.2 0.4M26.4 16.5l0.1 0.3M0.3 27.2l-0.0 0.2M18.0 12.9l-0.2 0.4M45.5 2.4l0.3 0.2M47.6 27.0l-0.0 0.5M50.3 4.3l-0.2 0.4M8.7 42.1l0.0 0.1M3.7 16.8l0.4 0.6M39.0 39.3l0.1 0.0M39.3 38.2l-0.1 0.4M1.8 29.2l-0.4 0.3M56.4 7.6l-0.2 0.1" stroke="#e6dccf" stroke-width="1.0"/>
<path d="M39.4 0.5l-0.0 0.0M10.5 18.1l0.4 0.3M32.9 38.2l-0.1 0.4M58.1 35.5l0.4 0.2M17.5 16.3l0.0 0.2M12.6 12.7l0.4 0.1M39.3 10.2l-0.3 0.0M40.0 41.3l-0.0 0.0M40.5 4.7l0.6 0.3M58.0 12.7l0.1 0.2M26.4 15.4l0.2 0.3M8.2 33.0l-0.4 0.4M38.8 3.6l0.2 0.6M5.3 32.3l0.1 0.1M54.3 29.4l0.1 0.1M43.7 22.9l-0.2 0.2M57.7 33.2l0.0 0.4M14.6 8.4l-0.0 0.1M18.4 23.6l-0.2 0.1M39.5 14.4l0.1 0.1M0.6 10.1l0.5 0.2M46.2 39.6l-0.0 0.1M38.2 3.2l-0.3 0.1M48.8 8.1l-0.0 0.0M18.6 28.5l-0.6 0.1M27.4 7.2l-0.1 0.0M44.7 11.3l-0.1 0.4M12.7 21.0l0.4 0.1M0.4 22.5l-0.6 0.3M31.9 13.0l0.1 0.1M0.9 12.1l0.3 0.3M47.4 19.5l0.2 0.4M21.9 29.3l-0.1 0.0M52.6 10.9l-0.5 0.4M46.4 34.9l0.2 0.0M13.4 33.1l-0.2 0.0M26.0 42.6l0.1 0.0M40.1 30.1l-0.6 0.2M49.5 27.7l-0.4 0.1M44.9 37.2l0.1 0.0M15.9 43.4l0.1 0.3M24.4 36.1l-0.3 0.3M35.0 39.9l-0.5 0.3M22.6 9.3l0.1 0.0M28.0 31.6l0.1 0.3M29.9 2.7l0.0 0.1M41.0 38.4l0.1 0.2M49.2 29.9l-0.2 0.1M45.0 10.1l0.0 0.1M21.2 4.8l0.0 0.2M48.5 15.4l0.4 0.5M39.9 21.4l0.2 0.4" stroke="#e6dccf" stroke-width="1.5"/>
<path d="M17.9 29.7l-0.4 0.3M13.6 16.5l-0.3 0.3M55.1 8.4l-0.4 0.2M11.0 7.8l0.5 0.3M46.9 13.4l0.0 0.0M14.5 32.0l-0.2 0.1M10.6 21.9l0.3 0.5M49.0 20.3l0.0 0.1M20.7 33.1l0.0 0.1M34.9 41.6l-0.4 0.4M0.4 14.0l-0.1 0.4M52.0 1.2l0.0 0.0M11.3 23.0l-0.4 0.5M49.2 14.5l0.3 0.0M53.9 9.7l-0.3 0.1M50.1 8.0l0.3 0.4M24.8 9.1l-0.3 0.4M30.5 17.6l0.0 0.0M52.0 10.4l0.4 0.3M39.9 18.4l0.0 0.3M33.1 36.1l0.6 0.2M54.6 29.0l-0.3 0.4M51.2 39.8l-0.0 0.5M12.3 14.1l0.1 0.1M18.6 13.0l0.0 0.4M27.0 1.9l-0.1 0.2M12.9 40.0l0.1 0.1M7.5 15.4l-0.3 0.1M17.4 27.3l-0.1 0.2M55.5 21.2l-0.1 0.7M11.4 24.9l-0.0 0.7M40.4 6.3l-0.2 0.4M14.0 34.4l-0.6 0.3M1.7 3.3l-0.1 0.6M26.8 34.3l-0.2 0.3M10.9 10.1l-0.1 0.1M22.7 20.3l-0.0 0.0M47.4 17.6l-0.0 0.1M38.2 17.8l-0.1 0.6M33.2 10.0l-0.2 0.7M21.2 32.0l-0.3 0.2M24.4 29.0l0.1 0.1M16.6 30.7l-0.1 0.0M42.0 23.3l0.0 0.3M16.8 42.9l-0.3 0.6M17.0 39.8l-0.5 0.2M25.8 1.1l0.2 0.2M13.8 9.9l0.1 0.6" stroke="#d8c8d0" stroke-width="1.5"/>
<path d="M23.4 18.2l-0.0 0.1M54.4 17.4l-0.3 0.4M19.9 14.4l0.3 0.1M47.4 35.6l0.3 0.4M17.9 22.8l0.6 0.3M13.0 25.6l-0.1 0.2M8.5 4.3l0.5 0.4M20.0 8.7l-0.1 0.2M28.8 23.9l-0.3 0.2M41.9 42.6l-0.4 0.3M4.6 16.0l-0.4 0.0M43.1 32.7l0.5 0.4M9.0 2.1l0.2 0.0M30.5 25.5l0.1 0.4M46.1 21.4l0.6 0.1M41.1 22.0l-0.4 0.0M30.2 21.6l0.2 0.6M34.4 10.5l0.3 0.4M18.3 0.5l-0.0 0.1M13.3 30.6l0.2 0.0M35.2 30.7l-0.0 0.7M2.6 16.6l-0.2 0.3M4.8 35.5l-0.6 0.2M27.6 30.2l-0.3 0.4M17.1 20.1l0.2 0.6M5.8 37.4l-0.1 0.1M52.9 29.7l-0.0 0.0M6.4 19.3l0.2 0.5M53.4 23.6l-0.0 0.0M10.3 37.2l0.0 0.0M46.1 7.9l0.4 0.4M12.1 14.1l-0.0 0.2M54.8 18.4l-0.1 0.4M18.8 13.2l-0.1 0.0M45.2 42.5l-0.0 0.4M41.1 27.3l-0.3 0.3M24.0 33.2l0.4 0.1" stroke="#d8c8d0" stroke-width="1.0"/>
</g></g>
<g clip-path="url(#c14)"><g filter="url(#soft)" transform="translate(180.80 802.60)" fill="none" stroke-linecap="round">
<rect x="-2" y="-2" width="62.5" height="47.6" fill="#e7ddc4"/>
<path d="M8.7 26.9h0M9.9 31.1h0M35.6 16.8h0M36.1 24.7h0M2.5 23.1h0M36.3 22.7h0M51.4 32.1h0M22.1 9.9h0M7.5 35.3h0M40.4 26.6h0M25.8 21.8h0M13.0 23.1h0M8.5 27.1h0M36.9 29.2h0M14.4 4.0h0M19.5 30.0h0M29.8 32.6h0M25.2 17.4h0M53.1 7.3h0M12.1 25.7h0M36.9 18.9h0M32.6 19.2h0M39.1 38.8h0M48.3 27.9h0M27.5 41.3h0M26.2 27.3h0M50.8 29.8h0M22.9 32.4h0M35.1 39.9h0M36.5 23.3h0M57.0 23.0h0M23.3 40.9h0M55.2 7.5h0M4.2 37.4h0M51.6 16.8h0M14.9 29.8h0M55.0 9.3h0M26.2 28.9h0M12.9 18.1h0M8.4 20.9h0M13.4 3.5h0M22.8 6.5h0M7.0 6.6h0M24.4 13.9h0M42.6 18.1h0M14.2 8.2h0M17.4 32.4h0M11.8 20.3h0M47.2 36.2h0M27.0 36.7h0M37.6 9.9h0M5.4 7.4h0M46.2 17.0h0M49.0 42.2h0M53.8 20.5h0M0.4 12.0h0M12.8 28.3h0M41.1 40.2h0M41.3 41.8h0M37.3 20.7h0M49.0 11.9h0M45.5 31.7h0M50.7 2.6h0M11.0 41.4h0M8.3 19.7h0M35.2 21.0h0M51.4 41.7h0M20.0 5.9h0M53.5 19.8h0M14.5 6.0h0M0.5 25.4h0M16.4 24.3h0M54.1 21.1h0M55.8 2.9h0M44.3 32.9h0M56.1 1.3h0M29.6 24.3h0M35.0 20.5h0M16.0 39.4h0M51.4 30.6h0M56.1 24.1h0M4.6 30.3h0M6.1 32.7h0M37.9 9.0h0M8.9 2.9h0M10.3 42.6h0M13.3 38.5h0M7.9 14.8h0M27.6 15.6h0M56.4 10.5h0M28.3 8.9h0M6.4 30.1h0M19.8 21.2h0M40.5 3.9h0M3.2 30.0h0M58.1 0.8h0M26.5 43.4h0M48.7 43.1h0M31.0 42.4h0M3.3 20.6h0M49.6 17.0h0M25.8 19.6h0M22.2 35.4h0M56.9 10.1h0M18.9 35.0h0M43.5 35.5h0M39.9 39.9h0M49.4 27.6h0M16.6 3.7h0M50.3 37.4h0M52.2 11.6h0M43.2 40.6h0M12.1 1.0h0M10.2 9.5h0M39.8 35.8h0M47.9 30.0h0M57.2 42.4h0M25.7 40.2h0M42.1 10.7h0M34.2 7.4h0M23.4 35.4h0M0.6 23.4h0M25.5 12.3h0M3.8 22.8h0M19.5 4.2h0M23.5 29.6h0M4.7 34.2h0M4.9 20.5h0M21.4 37.4h0M52.2 32.1h0M17.2 14.1h0M48.3 22.2h0M37.2 31.6h0M11.2 16.8h0M55.8 14.5h0M49.6 6.7h0M0.8 21.9h0M16.6 26.0h0M45.0 1.7h0M29.2 16.3h0M53.0 36.8h0M51.7 32.3h0M20.3 27.0h0M31.8 16.0h0M17.0 28.3h0M52.4 10.5h0M20.8 6.9h0M21.4 16.9h0M5.5 28.1h0M20.1 35.2h0M14.2 32.0h0M57.3 7.4h0M21.7 42.4h0M23.6 14.3h0M9.0 36.2h0M19.1 38.3h0M32.6 7.8h0M58.1 39.3h0M43.8 26.2h0M44.1 41.3h0M11.5 10.5h0M44.6 18.2h0M57.6 36.4h0M30.5 7.0h0M35.8 26.2h0M33.9 34.0h0M27.9 38.9h0M34.8 7.0h0M48.0 7.4h0M53.0 40.4h0M11.4 8.8h0M41.1 19.9h0M21.9 32.7h0M19.6 5.7h0M32.2 38.3h0M56.1 4.6h0M43.6 14.1h0M56.8 17.0h0M6.0 14.4h0M30.2 7.7h0M45.0 14.4h0M43.4 10.1h0M28.7 28.8h0M12.1 12.6h0M49.1 17.2h0M20.4 26.9h0M40.4 37.7h0M33.1 37.2h0M52.2 40.4h0M53.8 30.3h0M40.7 17.0h0M6.2 40.2h0M24.2 14.7h0M32.1 33.0h0M48.5 5.0h0M45.9 41.0h0M57.2 41.1h0M33.5 38.8h0M34.6 37.0h0M57.9 16.3h0M7.2 32.7h0M54.9 39.4h0M27.1 19.6h0M7.3 37.1h0M15.9 5.3h0M5.9 40.6h0M24.3 34.6h0M4.1 21.0h0M43.6 33.6h0M11.1 21.0h0M47.5 39.8h0M5.5 25.6h0M52.0 27.0h0M45.9 13.0h0M28.8 0.6h0M46.7 24.6h0M10.6 41.0h0M12.4 1.5h0M42.4 3.5h0M38.5 6.0h0M1.3 32.1h0M35.9 28.8h0M41.5 31.3h0M10.3 18.5h0M34.6 37.8h0M37.8 21.3h0M47.9 36.8h0M14.6 8.0h0M0.3 38.0h0M12.4 25.2h0M30.8 28.7h0M54.9 28.6h0M10.1 18.8h0M10.8 16.7h0M43.3 28.4h0M36.8 37.6h0M58.4 11.0h0M41.0 28.2h0M1.6 43.2h0M23.3 29.3h0M13.4 18.5h0M6.9 42.2h0M2.5 3.2h0M42.5 25.1h0M18.9 41.0h0M40.9 19.6h0M41.6 40.8h0M51.0 15.9h0M45.3 9.6h0M22.6 43.3h0M43.0 17.5h0M31.8 19.1h0M41.4 22.8h0M26.5 18.3h0M51.5 35.3h0M14.2 17.3h0M52.7 31.8h0M35.2 27.4h0M11.8 24.8h0M43.7 19.2h0" stroke="#a4947c" stroke-width="0.75" opacity="0.55"/>
<path d="M23.9 18.8l-0.0 0.2M52.9 32.4l-0.6 0.0M22.4 32.0l0.2 0.3M28.0 31.7l-0.0 0.0M2.4 19.7l-0.2 0.5M25.3 17.2l-0.3 0.1" stroke="#cfa9cf" stroke-width="5.0" opacity="0.45"/>
<path d="M1.0 16.5l-0.2 0.0M28.0 26.3l0.3 0.2M20.2 2.0l0.5 0.0M8.0 1.2l-0.4 0.0M4.9 12.9l-0.2 0.2M44.7 40.6l-0.7 0.1M21.3 15.6l0.0 0.3M49.0 27.4l0.2 0.1M44.7 42.5l0.1 0.6M15.7 29.0l-0.2 0.2M35.5 18.7l0.5 0.0M7.7 30.7l0.1 0.0M46.5 35.8l-0.3 0.3M34.2 22.6l0.0 0.2" stroke="#cfa9cf" stroke-width="6.5" opacity="0.45"/>
<path d="M20.9 24.4l0.1 0.0M47.0 26.8l-0.2 0.4M35.9 8.1l0.0 0.0M55.8 38.7l0.0 0.1" stroke="#cfa9cf" stroke-width="4.0" opacity="0.45"/>
<path d="M11.1 2.1l0.1 0.2M4.5 1.7l-0.4 0.3M50.1 43.1l-0.2 0.1M48.2 21.2l-0.2 0.6" stroke="#cfa9cf" stroke-width="6.0" opacity="0.45"/>
<path d="M5.3 16.9l-0.4 0.4M26.0 12.2l0.6 0.0M39.1 13.5l-0.2 0.5M54.7 26.7l-0.0 0.0M36.9 18.3l-0.4 0.1M26.1 25.6l0.0 0.3M22.2 34.2l0.2 0.3M24.0 6.7l0.3 0.3M7.7 7.4l0.4 0.3M32.1 22.2l0.0 0.6M28.1 25.4l-0.2 0.2M57.7 26.2l0.3 0.6M6.0 14.4l0.5 0.3M56.1 29.4l0.2 0.1M29.4 24.7l-0.5 0.0M19.2 22.5l0.0 0.0" stroke="#cfa9cf" stroke-width="5.5" opacity="0.45"/>
<path d="M46.1 12.6l-0.2 0.1M33.0 34.6l-0.0 0.0M44.7 28.4l0.1 0.1M34.9 26.4l-0.4 0.1M21.8 0.7l0.3 0.4M54.7 38.3l0.2 0.3M56.1 39.1l-0.5 0.3M23.4 11.5l-0.2 0.2" stroke="#cfa9cf" stroke-width="4.5" opacity="0.45"/>
<path d="M52.4 42.6l-0.1 0.3M0.3 6.1l0.1 0.0M11.9 3.1l-0.0 0.2" stroke="#cfa9cf" stroke-width="7.0" opacity="0.45"/>
<path d="M28.6 26.7l0.0 0.1M44.5 30.2l0.6 0.0M52.0 30.1l0.3 0.2M37.8 4.3l-0.0 0.0M3.0 7.5l-0.1 0.3M47.0 12.3l0.2 0.5M32.5 38.2l0.0 0.2M46.6 7.5l-0.6 0.2M23.6 40.6l-0.1 0.0M17.1 36.8l0.2 0.6M20.6 14.8l-0.0 0.1M9.0 2.7l-0.2 0.2M5.6 37.7l0.3 0.1M38.9 30.5l0.2 0.2M58.0 0.7l-0.1 0.1M35.0 38.3l-0.0 0.2M9.7 21.8l-0.2 0.1M23.5 40.0l-0.4 0.1M25.7 32.4l0.5 0.2M7.8 24.3l-0.3 0.3M53.9 22.9l0.0 0.7M49.0 27.4l-0.3 0.5M50.6 30.9l0.2 0.5M24.5 19.2l0.3 0.3M57.5 39.6l0.0 0.5M15.0 24.3l-0.3 0.0M56.2 27.1l-0.2 0.0M5.1 41.6l0.4 0.4M41.9 0.9l0.4 0.1M8.8 5.0l0.4 0.0M46.0 19.9l-0.4 0.2M23.6 3.2l-0.0 0.2M55.9 23.0l0.7 0.1M30.7 14.5l-0.3 0.1M34.1 29.0l-0.0 0.1M53.3 17.0l0.6 0.1M25.7 31.7l-0.4 0.4M34.0 7.2l-0.0 0.1M23.8 18.4l0.1 0.2M28.3 17.6l0.2 0.1M30.5 36.8l0.6 0.3M54.9 39.4l0.2 0.2M3.1 33.2l-0.0 0.0M42.6 29.9l0.1 0.0M37.0 20.8l-0.0 0.3M30.9 24.2l0.1 0.0M36.1 8.8l0.0 0.0M38.8 41.8l-0.4 0.3M36.8 23.6l-0.5 0.1M18.0 21.3l0.5 0.4M21.3 3.5l0.3 0.5M7.9 17.3l0.1 0.0M8.6 29.8l-0.6 0.3M7.5 10.6l-0.2 0.4M37.8 12.2l0.1 0.2M15.1 31.8l0.0 0.0M27.3 10.5l-0.2 0.5M0.5 8.7l-0.2 0.5M47.2 41.4l-0.1 0.5M52.4 31.7l-0.3 0.3M38.9 28.0l-0.1 0.4M31.8 33.2l-0.4 0.5M27.2 36.4l0.1 0.2M29.5 2.0l-0.2 0.2M28.1 32.4l0.0 0.2M33.5 30.7l0.3 0.1M29.0 14.2l-0.1 0.0M9.3 5.8l-0.4 0.3M41.0 10.0l0.2 0.1" stroke="#9c6ebc" stroke-width="2.0"/>
<path d="M18.3 3.4l-0.2 0.3M33.4 33.8l0.4 0.1M13.6 11.3l-0.1 0.3M6.2 19.0l0.0 0.1M29.4 19.1l-0.1 0.2M35.3 26.2l-0.0 0.1M41.7 41.1l-0.1 0.2M26.3 12.4l0.0 0.0M42.2 39.7l-0.6 0.2M34.0 25.6l-0.4 0.1M52.4 36.8l0.1 0.5M35.6 28.1l0.2 0.2M33.9 34.8l-0.0 0.0M46.2 43.0l0.1 0.0M15.5 11.5l0.1 0.4M17.7 35.4l-0.2 0.6M31.2 28.7l0.1 0.2M38.4 30.0l0.1 0.3M7.3 4.4l-0.2 0.5M15.9 28.1l0.1 0.0M25.1 27.2l-0.5 0.1M51.4 28.6l0.2 0.2M32.9 22.7l-0.2 0.5M17.7 18.9l0.0 0.1M23.3 39.3l0.4 0.3M47.3 29.0l0.2 0.3M41.3 43.5l-0.5 0.2M45.9 15.1l0.1 0.1M43.1 30.1l0.1 0.6M20.1 5.6l0.0 0.2M56.0 31.1l0.2 0.1M0.7 26.8l-0.0 0.3M25.5 20.3l0.1 0.5M7.4 13.4l0.0 0.0M32.0 10.5l-0.0 0.1M3.7 24.7l0.1 0.2M39.5 39.0l0.0 0.0M42.7 29.1l-0.2 0.2M55.0 38.4l0.6 0.1M52.5 29.4l-0.5 0.2M19.3 28.3l-0.0 0.3M41.4 27.7l0.1 0.0M44.2 22.5l0.1 0.4M11.3 12.7l0.2 0.1M21.9 25.2l0.0 0.0M34.7 4.7l0.1 0.1M7.2 25.7l0.3 0.1M48.7 28.5l-0.3 0.3M1.1 25.0l-0.1 0.2M46.0 11.6l0.4 0.4M9.8 20.8l0.1 0.2M27.8 39.2l0.0 0.0M16.0 18.1l0.4 0.3M23.6 31.3l0.1 0.2M12.3 18.0l-0.1 0.0M21.6 10.8l-0.3 0.2M22.0 9.9l-0.1 0.0M19.4 18.2l-0.1 0.2M39.2 18.1l0.2 0.3M13.9 26.9l0.0 0.1M30.0 30.7l0.1 0.6M48.8 32.2l0.2 0.4M16.1 17.1l0.0 0.0M18.9 41.2l0.2 0.6M22.5 10.7l0.4 0.2M20.8 24.6l0.3 0.3M11.7 10.0l0.2 0.5M5.1 16.6l0.0 0.0M38.4 21.2l-0.2 0.3M21.6 35.8l-0.6 0.2M41.2 23.8l-0.7 0.0M39.2 22.5l-0.1 0.3M16.3 30.4l0.2 0.5M17.5 6.7l-0.1 0.0M37.4 37.1l0.2 0.4M38.4 41.6l0.2 0.7M28.6 8.0l-0.1 0.0M41.4 25.2l-0.7 0.2M12.8 38.7l-0.1 0.2M35.6 25.1l0.3 0.3M19.3 18.4l-0.1 0.2" stroke="#8152a8" stroke-width="1.5"/>
<path d="M4.5 24.5l0.5 0.0M24.7 23.1l0.1 0.5M6.1 6.1l0.4 0.0M49.4 26.6l-0.1 0.3M0.5 5.5l0.0 0.0M39.2 22.4l-0.0 0.1M32.3 38.4l0.4 0.3M48.2 33.3l0.3 0.4M26.5 42.5l-0.1 0.0M40.8 30.4l-0.2 0.0M28.6 14.2l0.0 0.7M32.0 16.1l-0.1 0.2M23.6 25.9l0.5 0.1M1.2 17.2l0.5 0.2M1.3 10.6l0.3 0.1M4.8 2.1l0.1 0.0M57.4 35.1l0.1 0.3M24.7 5.6l0.2 0.1M25.2 22.8l-0.3 0.2M13.7 15.6l0.1 0.2M36.6 38.3l0.3 0.4M22.9 20.5l-0.1 0.6M29.1 28.4l-0.4 0.4M36.1 12.2l-0.7 0.1M17.8 33.8l-0.2 0.1M44.5 37.4l0.1 0.2M37.4 8.3l0.3 0.1M52.6 32.8l-0.2 0.4M38.4 14.3l0.3 0.4M27.3 22.4l-0.1 0.3M11.6 15.7l0.1 0.1M11.1 11.3l-0.2 0.2M21.3 24.4l-0.3 0.3M49.4 29.4l0.5 0.5M23.9 15.9l0.4 0.5M39.9 9.1l0.0 0.0M32.6 17.4l0.1 0.3M12.6 25.8l0.2 0.3M7.5 17.0l0.3 0.3M28.9 26.2l-0.0 0.0M46.2 29.2l-0.1 0.1M12.4 33.2l0.1 0.1M47.4 37.8l-0.2 0.2M34.3 40.5l-0.1 0.5M57.6 33.7l-0.0 0.1M44.0 29.0l-0.0 0.3M24.7 18.8l-0.7 0.2M29.9 24.1l-0.5 0.4M22.8 31.9l0.1 0.1M53.5 25.1l-0.1 0.0M2.6 7.3l0.4 0.0M43.6 39.5l-0.1 0.2M16.1 21.0l-0.1 0.0M49.9 27.9l-0.5 0.5M5.4 32.5l-0.0 0.1M49.3 33.0l-0.6 0.2M20.3 16.6l-0.6 0.0M20.1 10.9l-0.0 0.1M7.8 4.7l0.0 0.0M21.1 13.2l0.0 0.0M38.8 35.8l-0.1 0.4M48.3 19.7l0.1 0.5M38.3 30.9l0.0 0.1M20.7 29.0l-0.1 0.1M28.8 24.0l-0.2 0.1M27.8 5.2l-0.0 0.0M49.3 17.9l0.0 0.0M26.4 31.5l-0.1 0.2M36.3 34.3l-0.1 0.6M3.2 14.5l-0.0 0.0M33.2 25.1l-0.3 0.2M34.5 18.9l-0.2 0.0M36.8 9.3l-0.1 0.0M35.0 32.0l-0.2 0.5M32.1 26.0l-0.4 0.1M28.7 22.0l0.0 0.5M50.6 16.1l0.2 0.0M36.6 38.4l-0.3 0.4M21.7 41.8l0.1 0.1" stroke="#8e5eb2" stroke-width="2.0"/>
<path d="M39.1 34.0l0.2 0.6M34.4 6.3l-0.6 0.2M20.4 0.0l-0.1 0.0M29.7 14.0l-0.6 0.1M27.1 11.1l-0.1 0.2M38.8 37.3l0.2 0.4M35.1 33.3l-0.0 0.5M18.0 1.6l0.1 0.3M55.4 21.5l0.1 0.1M43.2 10.2l0.1 0.2M29.9 43.0l0.2 0.3M46.5 32.3l-0.1 0.6M51.3 39.4l-0.4 0.2M26.6 9.0l0.2 0.0M15.3 13.2l-0.4 0.0M5.7 25.4l0.1 0.3M34.9 13.0l0.2 0.6M36.7 22.7l-0.1 0.4M31.1 23.7l0.3 0.2M30.6 29.7l0.0 0.1M3.9 29.7l-0.1 0.3M33.9 35.4l0.2 0.0M25.5 5.4l-0.5 0.2M34.5 15.0l-0.4 0.1M53.2 5.9l0.0 0.1M24.9 25.5l-0.1 0.5M47.0 23.5l0.2 0.2M16.6 4.1l-0.5 0.3M58.3 4.1l-0.1 0.0M52.6 29.8l0.3 0.3M7.7 17.9l-0.2 0.1M25.0 31.7l0.3 0.5M6.7 29.0l-0.0 0.0M30.0 23.8l-0.0 0.1M24.7 6.4l0.6 0.1M31.6 12.8l-0.4 0.4M38.0 40.2l0.1 0.1M12.8 15.9l0.5 0.2M28.1 15.6l0.1 0.5M56.5 25.4l0.6 0.3M29.4 26.8l0.6 0.3M29.3 20.7l-0.0 0.0M15.4 17.6l0.6 0.2M48.9 36.1l-0.3 0.1M52.1 23.1l-0.4 0.3M12.9 30.9l-0.4 0.4M10.7 30.7l0.0 0.1M31.4 28.3l-0.4 0.5M29.8 33.0l0.2 0.2M37.7 4.3l0.7 0.2M54.3 13.7l-0.3 0.3M8.2 3.2l0.1 0.5M24.8 23.0l-0.6 0.1M33.6 13.5l-0.3 0.4M55.9 15.8l0.4 0.3M5.9 0.3l0.0 0.4M40.3 3.6l-0.0 0.0M26.1 23.8l0.0 0.1M29.3 36.0l-0.4 0.5M37.9 24.2l0.1 0.2M6.5 1.6l-0.2 0.4M16.6 17.7l0.3 0.0M48.8 18.5l-0.3 0.0M18.5 8.5l-0.3 0.3M37.9 36.1l-0.1 0.1M26.9 32.4l-0.5 0.3M3.7 12.0l-0.1 0.4M2.3 20.9l0.4 0.1M33.1 11.9l-0.4 0.2M6.7 10.8l-0.5 0.0M51.3 29.6l-0.2 0.0M31.1 20.5l0.2 0.6M22.5 4.6l-0.2 0.1M42.9 0.6l-0.1 0.5M25.7 11.3l-0.0 0.0M25.4 33.9l-0.0 0.0M46.3 12.2l-0.2 0.2M5.1 2.4l-0.0 0.1M53.7 40.7l-0.2 0.1M8.9 13.1l-0.1 0.1M16.9 5.5l-0.6 0.1M5.5 12.8l-0.7 0.2M10.1 40.1l0.1 0.1M33.5 0.2l0.0 0.0M9.4 6.6l-0.3 0.0M17.5 20.7l-0.4 0.0M41.7 40.0l0.5 0.0M17.9 41.6l0.2 0.3M50.7 40.7l0.5 0.3M41.6 14.2l-0.1 0.3M29.2 30.4l-0.3 0.3" stroke="#8152a8" stroke-width="2.0"/>
<path d="M3.7 35.1l-0.2 0.5M38.5 28.6l0.4 0.4M40.6 37.5l0.2 0.3M36.1 41.9l-0.4 0.3M22.1 11.6l0.1 0.1M2.6 12.9l0.1 0.0M42.5 21.7l-0.4 0.0M28.6 0.1l-0.2 0.3M10.1 14.3l0.0 0.0M6.9 34.3l0.4 0.3M37.7 38.4l0.3 0.4M18.4 25.0l-0.0 0.0M57.9 21.7l-0.1 0.3M9.0 18.4l-0.1 0.1M51.0 39.5l-0.5 0.0M15.4 9.5l-0.3 0.0M12.9 5.5l0.3 0.3M39.2 34.4l-0.2 0.1M39.9 25.0l-0.1 0.2M41.2 13.9l-0.1 0.4M56.4 28.3l-0.4 0.1M28.7 37.9l0.2 0.3M45.0 32.3l0.2 0.1M19.6 11.8l-0.2 0.5M18.0 37.8l-0.2 0.4M32.3 19.2l-0.0 0.5M30.5 20.9l-0.2 0.0M8.7 35.5l-0.2 0.4M30.6 15.8l0.4 0.5M41.3 14.7l0.5 0.1M32.2 35.5l-0.0 0.0M28.6 34.0l-0.1 0.3M5.7 7.0l0.6 0.2M31.9 41.6l0.0 0.0M41.8 1.0l0.1 0.1M45.1 37.2l-0.2 0.7M3.9 17.2l0.2 0.4M45.8 36.1l-0.1 0.5M47.0 31.2l-0.1 0.1M40.1 27.4l0.0 0.2M49.0 31.6l-0.3 0.0M33.3 22.5l-0.3 0.3M13.2 0.9l0.4 0.1M28.5 31.0l-0.1 0.4M22.9 7.3l0.1 0.1M30.5 11.5l0.7 0.1M18.9 20.3l0.4 0.1M0.5 0.0l-0.4 0.5M3.1 15.4l-0.3 0.0M30.4 3.2l0.4 0.3M13.4 18.9l0.3 0.6M17.9 33.4l0.0 0.1M1.4 3.4l0.0 0.1M15.1 8.1l-0.1 0.4M32.9 41.8l-0.0 0.0M58.0 20.6l0.3 0.4M27.3 11.9l0.5 0.4M21.4 42.4l-0.2 0.0M40.5 7.8l0.1 0.0M48.7 18.8l-0.2 0.0M9.2 0.4l-0.0 0.1M40.7 29.6l0.2 0.4M52.0 16.5l-0.0 0.1M23.6 26.2l-0.5 0.1M10.8 36.0l-0.0 0.1M35.6 42.1l-0.6 0.1M31.1 30.6l-0.1 0.0M43.7 42.1l-0.4 0.1M42.2 39.8l-0.4 0.1M14.7 25.7l0.3 0.0M45.7 41.2l0.3 0.0" stroke="#9c6ebc" stroke-width="1.5"/>
<path d="M47.3 12.5l-0.4 0.5M57.5 43.3l0.3 0.4M25.9 24.7l-0.2 0.4M22.9 34.9l0.0 0.1M48.2 41.9l-0.1 0.1M16.6 14.4l-0.1 0.1M17.4 11.2l0.4 0.4M22.8 20.6l0.2 0.4M30.2 18.1l0.4 0.3M22.8 20.9l-0.1 0.0M29.2 38.9l0.1 0.0M26.1 25.2l0.4 0.1M21.4 20.3l0.1 0.2M12.9 39.2l-0.1 0.1M32.8 14.9l0.1 0.6M20.1 4.4l0.1 0.0M1.2 13.0l0.0 0.0M40.0 3.0l-0.0 0.5M24.0 7.9l0.4 0.1M2.9 13.4l0.1 0.1M8.0 7.4l0.1 0.0M7.6 6.8l0.2 0.1M25.7 34.5l0.3 0.1M16.7 11.0l0.0 0.0M50.7 36.0l0.0 0.0M44.2 43.2l0.4 0.4M15.6 19.5l0.5 0.2M32.7 35.4l0.2 0.4M42.7 18.3l0.3 0.1M24.7 1.9l-0.2 0.1M1.7 11.3l0.4 0.2M49.2 43.3l-0.2 0.3M16.4 12.9l-0.2 0.6M29.2 8.7l0.0 0.5M29.3 8.2l-0.4 0.4M49.2 30.6l-0.4 0.1M45.9 11.9l-0.4 0.4M40.3 1.4l0.3 0.3M46.7 12.2l-0.5 0.1M29.5 32.5l0.1 0.2M8.3 0.0l-0.0 0.2M16.7 20.0l-0.6 0.1M8.2 3.0l0.2 0.5M9.6 8.8l-0.2 0.0M46.9 17.8l0.1 0.5M29.7 21.1l-0.0 0.0M42.1 7.0l0.0 0.0M42.0 3.3l-0.0 0.1M35.5 30.2l-0.3 0.2M20.5 20.0l0.4 0.4M15.0 27.7l0.2 0.1M49.5 41.8l0.1 0.4M24.6 37.7l0.3 0.0M22.2 40.1l0.1 0.1M4.4 0.2l0.0 0.0M28.8 20.8l0.6 0.1M8.9 18.1l0.0 0.1M29.4 4.4l0.1 0.1M49.5 37.3l-0.2 0.2M21.6 28.1l-0.1 0.0M13.1 24.3l-0.6 0.2M44.8 6.8l0.3 0.2M46.5 40.7l-0.3 0.1M57.8 16.5l0.6 0.1M13.9 7.9l-0.4 0.1M41.1 27.0l-0.0 0.1M58.4 30.7l-0.1 0.0M18.8 7.1l-0.1 0.1M46.1 43.3l0.2 0.4M45.2 9.9l-0.3 0.1M23.9 19.3l0.0 0.2M50.0 37.7l-0.1 0.1M36.8 28.9l-0.3 0.5M37.9 15.5l0.1 0.1M19.0 8.0l-0.6 0.0M43.0 14.0l-0.0 0.6M23.9 2.3l-0.5 0.2M8.1 18.1l0.0 0.4M35.9 1.2l-0.1 0.6" stroke="#8e5eb2" stroke-width="1.5"/>
<path d="M23.0 2.6l0.1 0.6M45.6 26.2l-0.3 0.1M43.7 31.3l-0.3 0.2M18.5 17.4l0.5 0.1M25.1 12.3l0.3 0.6M29.5 22.5l-0.1 0.6M23.8 24.2l0.0 0.0M31.7 17.9l0.0 0.0M12.9 11.5l-0.1 0.5M11.9 4.4l0.5 0.0M27.9 18.7l-0.1 0.2" stroke="#5e3490" stroke-width="1.0"/>
<path d="M45.3 38.0l-0.0 0.1M23.2 16.3l0.2 0.1M22.1 13.8l0.2 0.2M46.7 29.7l0.1 0.1M19.6 18.8l-0.3 0.3M14.4 22.5l-0.1 0.0M24.9 8.3l-0.0 0.0M21.2 27.2l-0.6 0.1M22.8 22.7l0.4 0.5M3.9 12.3l-0.1 0.1M12.0 16.5l0.4 0.6M42.2 28.7l-0.1 0.2M43.4 26.6l0.1 0.0M39.3 33.7l-0.1 0.4" stroke="#4e2a80" stroke-width="1.5"/>
<path d="M46.0 41.0l-0.1 0.7M12.0 14.7l0.3 0.2M24.6 13.5l0.6 0.2M18.8 6.0l-0.2 0.1M49.8 1.2l0.1 0.2M36.9 26.7l-0.0 0.1M15.0 0.4l0.2 0.5M0.7 35.5l0.3 0.6M56.2 16.3l-0.1 0.1M42.0 28.6l-0.3 0.5M9.6 13.4l0.0 0.0M6.9 14.0l-0.1 0.2M11.9 6.7l-0.2 0.2M41.7 42.2l0.0 0.0M1.6 2.4l0.1 0.4M36.2 14.7l-0.1 0.2M35.0 31.7l0.0 0.0M42.3 29.8l-0.4 0.2M17.2 25.8l-0.2 0.4M42.1 23.0l-0.3 0.4M1.2 9.5l-0.4 0.5M33.6 20.7l-0.1 0.0" stroke="#3e2068" stroke-width="1.5"/>
<path d="M15.7 18.1l0.5 0.1M10.7 35.7l0.0 0.1M10.4 30.8l-0.3 0.2M43.5 15.5l0.2 0.5M53.3 3.1l-0.0 0.2M19.8 1.1l0.1 0.0M17.9 42.8l0.6 0.3M18.8 15.7l-0.4 0.5M56.2 40.1l-0.2 0.0M46.3 24.4l-0.2 0.1M5.9 6.8l0.0 0.2M49.4 6.5l0.3 0.1M33.4 22.8l-0.2 0.1M32.6 16.8l0.4 0.2M8.3 12.4l0.4 0.1" stroke="#5e3490" stroke-width="1.5"/>
<path d="M6.0 21.0l0.3 0.0M37.8 15.6l0.4 0.1M20.2 26.8l0.2 0.1M7.2 9.8l-0.6 0.3M42.5 23.5l0.0 0.1M26.6 7.0l0.2 0.1M53.2 33.1l-0.3 0.4M25.3 5.7l0.0 0.1M36.7 15.1l-0.0 0.1M13.4 30.4l0.2 0.0M55.9 11.4l-0.0 0.0M4.3 19.9l-0.2 0.4M32.1 15.6l0.5 0.0M43.9 1.4l-0.1 0.2M10.5 13.1l0.1 0.4" stroke="#4e2a80" stroke-width="1.0"/>
<path d="M32.3 22.8l0.2 0.0M46.2 15.8l0.3 0.5M21.8 13.2l-0.4 0.5M7.9 32.0l0.5 0.4M31.4 17.9l-0.0 0.1M56.0 17.7l-0.2 0.5M12.2 17.6l-0.3 0.3M56.2 19.0l-0.0 0.0" stroke="#3e2068" stroke-width="1.0"/>
</g></g>
<g clip-path="url(#c15)"><g filter="url(#soft)" transform="translate(241.20 802.60)" fill="none" stroke-linecap="round">
<rect x="-2" y="-2" width="62.3" height="47.6" fill="#e7ddc8"/>
<path d="M57.1 19.9h0M41.9 32.0h0M12.5 3.4h0M35.1 5.3h0M22.3 38.8h0M50.8 5.2h0M4.8 9.7h0M48.3 1.1h0M13.1 4.7h0M7.4 22.8h0M10.7 17.9h0M42.7 31.5h0M24.2 34.3h0M33.4 36.1h0M14.5 16.1h0M33.8 41.2h0M36.0 20.7h0M14.6 12.3h0M12.6 43.0h0M51.7 39.0h0M30.8 30.9h0M17.3 21.0h0M8.5 18.3h0M14.7 4.4h0M53.6 4.2h0M47.4 30.5h0M5.3 21.2h0M58.1 43.0h0M32.8 33.7h0M41.3 12.7h0M32.1 26.0h0M23.0 35.7h0M25.9 32.7h0M3.8 19.4h0M2.6 28.2h0M50.9 23.7h0M33.0 27.1h0M13.4 16.8h0M33.7 28.2h0M22.2 20.8h0M19.3 24.2h0M39.4 14.3h0M39.9 37.0h0M31.3 42.7h0M18.0 40.1h0M10.6 15.8h0M47.6 1.4h0M35.8 38.0h0M55.0 29.7h0M20.1 14.5h0M36.8 2.9h0M1.6 38.4h0M36.5 7.1h0M25.0 12.6h0M50.7 12.5h0M42.2 32.4h0M18.6 11.0h0M30.4 17.4h0M34.6 14.3h0M46.3 18.3h0M7.9 33.8h0M52.2 29.7h0M31.9 38.0h0M54.4 0.4h0M28.4 0.8h0M19.4 10.5h0M26.9 29.5h0M50.2 11.4h0M0.7 43.6h0M45.6 24.0h0M6.6 2.3h0M54.5 23.1h0M50.1 34.2h0M43.8 35.1h0M14.8 10.7h0M25.3 33.5h0M46.3 33.0h0M33.8 20.8h0M11.3 29.1h0M38.1 22.4h0M42.4 42.7h0M55.0 4.7h0M16.8 26.7h0M40.2 12.4h0M54.3 20.1h0M44.6 2.3h0M16.3 1.0h0M46.1 22.8h0M55.5 26.5h0M18.9 15.5h0M21.9 8.6h0M6.3 28.3h0M18.3 19.8h0M41.3 12.0h0M25.6 14.1h0M18.9 29.1h0M5.7 17.4h0M6.4 29.2h0M17.4 42.1h0M28.1 28.9h0M30.5 35.7h0M40.9 28.0h0M1.9 6.2h0M43.8 18.0h0M56.9 27.7h0M48.0 32.5h0M56.1 28.7h0M54.7 18.6h0M15.6 4.8h0M14.7 39.0h0M38.4 1.9h0M1.6 20.1h0M31.7 15.7h0M1.2 11.4h0M51.1 31.6h0M47.7 11.8h0M38.9 8.6h0M17.6 41.7h0M12.4 12.8h0M12.7 37.9h0M40.1 25.8h0M49.6 20.2h0M53.4 33.9h0M17.5 10.3h0M31.3 19.5h0M46.0 28.4h0M43.3 26.3h0M15.4 32.4h0M57.2 27.8h0M41.4 10.2h0M6.9 19.5h0M34.6 31.7h0M27.6 23.7h0M5.2 2.1h0M7.1 13.9h0M14.2 6.2h0M19.7 14.7h0M48.0 40.8h0M57.9 32.1h0M0.7 10.4h0M58.2 30.3h0M50.0 8.7h0M14.0 4.3h0M30.6 15.9h0M27.4 6.0h0M1.5 16.8h0M54.0 28.5h0M33.3 2.8h0M25.3 16.1h0M36.8 17.6h0M46.7 12.0h0M42.5 0.2h0M8.5 34.7h0M49.8 13.2h0M11.6 41.9h0M34.5 3.9h0M57.7 24.7h0M17.5 22.1h0M21.5 25.2h0M24.1 16.4h0M42.7 13.3h0M48.4 32.6h0M55.0 6.7h0M50.2 31.1h0M10.6 39.7h0M29.3 7.8h0M12.2 43.6h0M46.8 10.2h0M52.0 1.7h0M40.6 27.6h0M50.7 39.6h0M42.7 36.8h0M27.0 40.7h0M25.1 31.7h0M43.8 17.6h0M47.8 31.3h0M9.3 25.6h0M28.3 26.0h0M1.7 30.6h0M23.1 32.1h0M14.1 0.9h0M27.1 27.9h0M45.4 23.6h0M51.3 7.1h0M7.2 17.6h0M38.3 33.4h0M3.8 26.1h0M20.4 23.0h0M5.7 7.0h0M37.1 14.9h0M56.9 22.1h0M20.4 8.2h0M30.7 22.3h0M14.9 42.3h0M29.7 33.7h0M39.9 36.3h0M6.0 42.0h0M34.9 7.2h0M34.7 2.5h0M24.6 4.3h0M2.8 19.6h0M48.9 33.1h0M54.5 34.0h0M36.0 26.2h0M55.9 5.6h0M30.3 23.8h0M0.8 38.2h0M39.6 14.8h0M46.3 20.8h0M42.4 24.0h0M50.1 22.0h0M5.2 33.3h0M13.4 24.9h0M54.4 31.6h0M4.0 36.6h0M56.3 20.3h0M14.8 20.2h0M31.0 2.0h0M49.4 28.0h0M23.3 35.5h0M10.1 38.8h0M50.1 20.7h0M6.6 19.5h0M6.2 23.9h0M8.3 22.7h0M23.9 14.1h0M34.0 23.3h0M51.4 19.5h0M33.5 31.7h0M9.6 23.4h0M10.5 21.6h0M29.7 39.5h0M56.1 13.3h0M49.8 16.2h0M14.6 26.0h0M17.6 41.2h0M52.5 1.4h0M57.4 38.7h0M8.0 28.8h0M32.5 6.9h0M41.1 0.4h0M20.1 22.1h0M46.8 17.7h0M16.8 20.5h0M31.4 17.4h0M5.6 36.6h0M12.0 8.1h0M12.7 42.0h0M4.5 27.2h0M33.3 9.9h0M45.7 7.8h0M6.6 1.2h0M38.5 2.3h0M35.9 28.6h0M6.0 42.2h0M8.0 14.3h0M46.7 11.7h0M45.4 30.4h0M44.2 16.4h0M16.0 20.5h0" stroke="#a4947c" stroke-width="0.75" opacity="0.55"/>
<path d="M36.4 1.0l0.3 0.4M27.7 29.7l0.1 0.0M57.3 7.7l-0.0 0.0M51.8 15.6l-0.0 0.0M55.1 19.6l0.0 0.4M33.2 32.0l0.2 0.3" stroke="#cfa9cf" stroke-width="4.0" opacity="0.45"/>
<path d="M21.4 4.4l0.5 0.4M2.6 6.1l-0.1 0.4M26.7 39.8l0.2 0.0M6.8 0.1l-0.2 0.3M7.7 39.6l-0.0 0.0M35.9 27.5l-0.3 0.6M15.8 28.8l0.7 0.1M37.0 17.4l0.4 0.1M0.2 21.1l0.1 0.3M27.8 17.3l-0.2 0.4M3.5 13.6l-0.0 0.3M29.2 34.7l0.5 0.4M37.1 35.1l-0.5 0.3" stroke="#cfa9cf" stroke-width="6.0" opacity="0.45"/>
<path d="M39.8 16.2l-0.1 0.3M4.5 29.3l0.2 0.6M16.5 5.9l-0.1 0.0M31.4 11.9l0.2 0.1M35.5 15.3l0.3 0.4M55.6 1.6l-0.1 0.0M18.9 39.0l0.3 0.6M34.5 17.2l-0.6 0.2M41.4 28.4l-0.6 0.2M30.1 2.8l0.2 0.1M24.5 27.9l-0.0 0.1M39.4 11.9l0.2 0.2" stroke="#cfa9cf" stroke-width="5.0" opacity="0.45"/>
<path d="M15.5 1.3l0.3 0.1M10.1 24.7l-0.4 0.5M48.6 27.2l-0.0 0.6M44.5 11.3l-0.5 0.4M14.1 7.6l-0.0 0.1M48.1 4.9l0.2 0.1M38.0 28.9l0.1 0.1M45.8 11.6l0.4 0.2M5.6 20.0l0.1 0.0M28.5 6.7l0.1 0.0M3.6 8.3l-0.1 0.4M51.4 6.6l0.0 0.1M45.8 15.6l-0.0 0.0" stroke="#cfa9cf" stroke-width="4.5" opacity="0.45"/>
<path d="M6.8 26.5l-0.0 0.0M6.7 31.9l-0.4 0.2M33.2 30.7l-0.4 0.2M21.3 19.7l0.4 0.1M50.4 30.5l0.3 0.6" stroke="#cfa9cf" stroke-width="6.5" opacity="0.45"/>
<path d="M28.3 1.7l0.6 0.2" stroke="#cfa9cf" stroke-width="7.0" opacity="0.45"/>
<path d="M53.6 36.9l0.6 0.1M31.7 21.0l-0.5 0.3M54.2 0.9l-0.0 0.3M10.3 29.5l0.1 0.0M16.2 37.3l0.1 0.4" stroke="#cfa9cf" stroke-width="5.5" opacity="0.45"/>
<path d="M50.5 8.3l0.5 0.4M3.5 35.9l0.3 0.4M4.3 0.7l0.0 0.2M29.7 14.3l0.2 0.1M29.6 3.6l-0.5 0.0M20.5 0.5l0.0 0.1M13.7 4.2l-0.5 0.1M39.5 2.8l-0.1 0.5M35.3 42.2l-0.1 0.1M11.5 0.4l-0.5 0.5M55.3 10.8l-0.2 0.5M26.6 15.3l0.1 0.1M32.7 40.5l0.1 0.2M12.1 33.3l0.7 0.0M41.7 27.9l0.4 0.1M26.8 6.5l-0.6 0.2M46.9 5.6l0.3 0.6M35.4 36.0l-0.2 0.0M22.2 36.4l-0.1 0.0M22.5 18.5l-0.0 0.1M53.0 33.5l0.1 0.0M49.5 5.1l0.0 0.2M31.4 39.7l-0.2 0.0M50.0 33.7l-0.2 0.4M31.9 23.9l0.4 0.6M0.1 22.7l-0.3 0.5M21.9 19.1l-0.1 0.1M23.1 24.1l-0.3 0.1M21.8 23.6l0.1 0.0M57.8 8.4l-0.1 0.1M14.6 30.8l0.2 0.3M14.9 20.6l-0.7 0.2M1.3 11.1l-0.1 0.4M17.2 13.0l0.0 0.2M10.2 4.3l0.3 0.4M27.2 33.0l0.1 0.0M18.7 8.0l-0.0 0.1M19.1 35.4l-0.0 0.0M10.3 40.9l0.4 0.3M34.8 17.5l0.4 0.0M3.6 39.7l-0.1 0.5M34.2 25.0l0.3 0.1M17.3 7.4l0.0 0.0M47.2 3.2l-0.2 0.1M54.8 27.0l-0.2 0.4M44.0 38.6l0.0 0.2M14.3 27.8l-0.4 0.3M36.4 25.5l-0.0 0.1M22.1 28.6l-0.2 0.4M11.5 3.3l-0.3 0.4M12.4 38.4l0.1 0.1M8.5 18.3l0.0 0.0M36.9 22.5l0.3 0.2M7.3 10.8l0.2 0.4M26.7 8.9l0.3 0.4M8.6 34.5l0.3 0.0M10.0 7.8l0.1 0.6M37.0 4.9l0.0 0.0M32.4 8.4l0.3 0.5M4.0 36.4l0.2 0.2M17.0 34.6l-0.1 0.4M9.0 34.2l-0.2 0.0M30.6 12.1l-0.0 0.2M16.0 25.4l0.0 0.2M33.7 35.1l-0.0 0.0M36.9 1.4l-0.2 0.1M52.7 28.4l0.5 0.3M24.4 29.6l0.5 0.1M32.6 22.1l0.2 0.5M51.0 8.0l-0.1 0.1M18.4 20.9l0.2 0.2M14.7 31.4l0.3 0.0M44.1 12.7l-0.3 0.2M37.2 41.5l0.0 0.0M14.9 11.6l0.0 0.1M9.3 20.2l0.5 0.5M33.3 38.4l-0.2 0.1M37.1 2.2l-0.2 0.2M27.4 5.0l-0.3 0.2M58.0 24.3l0.3 0.2M20.4 10.7l-0.5 0.3M57.5 17.9l-0.0 0.1M16.9 35.3l0.0 0.3M2.5 3.5l0.3 0.3M46.6 6.6l-0.3 0.1" stroke="#8e5eb2" stroke-width="2.0"/>
<path d="M23.5 14.5l-0.1 0.6M17.3 27.7l0.0 0.4M21.0 22.1l0.4 0.2M20.2 11.4l0.5 0.1M42.7 4.4l-0.2 0.0M38.5 5.3l0.6 0.0M35.3 42.7l0.0 0.4M15.3 28.4l-0.4 0.2M29.8 14.6l0.3 0.0M19.0 40.3l0.2 0.2M23.1 24.0l0.0 0.7M14.2 12.1l0.1 0.6M12.4 19.9l0.3 0.2M9.1 22.0l-0.3 0.6M8.3 27.3l-0.2 0.1M19.7 1.3l0.0 0.0M2.6 42.4l-0.4 0.5M38.9 7.6l0.0 0.0M36.9 30.1l-0.1 0.1M36.3 16.4l0.1 0.1M24.6 29.3l0.1 0.1M17.5 24.6l-0.1 0.0M18.1 31.2l0.6 0.2M30.9 19.1l-0.0 0.0M0.7 13.1l-0.2 0.1M43.3 10.9l0.1 0.2M6.2 31.1l-0.5 0.4M43.8 14.6l0.2 0.6M28.9 26.7l0.5 0.2M56.6 9.2l-0.2 0.1M53.9 31.2l0.4 0.3M43.4 1.1l0.5 0.2M37.1 37.6l-0.5 0.4M33.0 6.4l-0.2 0.1M52.1 0.4l-0.2 0.6M6.1 15.3l0.2 0.1M48.2 0.6l-0.0 0.3M41.6 11.8l-0.5 0.1M23.8 7.7l0.3 0.2M39.0 28.1l0.4 0.3M16.0 23.9l-0.0 0.2M2.5 24.6l0.1 0.1M4.4 8.4l0.3 0.3M15.3 10.5l0.1 0.1M3.2 27.4l-0.3 0.3M20.2 26.5l-0.0 0.7M1.6 20.0l-0.2 0.1M41.7 26.9l0.6 0.2M43.2 16.1l-0.0 0.0M55.6 2.0l-0.1 0.1M21.9 42.9l-0.2 0.3M58.2 8.1l0.2 0.1M27.3 20.2l-0.2 0.4M33.6 23.7l0.3 0.1M38.4 36.1l-0.5 0.5M24.6 40.2l-0.2 0.6M21.6 2.8l-0.1 0.0M51.9 20.0l0.1 0.0M15.2 39.5l-0.1 0.2M33.8 11.6l0.1 0.4M45.7 26.2l0.0 0.0M4.4 0.1l0.1 0.4M24.4 3.9l0.3 0.1M49.3 9.5l-0.2 0.1M33.8 4.1l-0.0 0.2M31.3 6.3l-0.1 0.2M0.1 3.4l-0.3 0.2M12.0 0.5l0.0 0.2M42.4 24.1l-0.6 0.2M36.0 3.3l0.3 0.5M40.7 34.6l0.4 0.2M30.4 23.3l-0.3 0.1M2.5 19.3l-0.0 0.2M17.0 27.9l0.2 0.1M12.3 28.5l0.2 0.3M0.3 12.8l-0.1 0.7M55.0 10.0l0.5 0.4M31.9 38.5l0.2 0.2M43.2 19.4l-0.2 0.3M57.0 16.2l0.4 0.1M50.2 0.3l0.0 0.7" stroke="#9c6ebc" stroke-width="2.0"/>
<path d="M4.4 12.5l0.0 0.0M22.1 6.4l0.0 0.2M27.7 30.8l-0.1 0.3M20.9 23.8l-0.1 0.6M33.6 23.6l0.7 0.1M37.0 20.1l0.0 0.0M4.8 31.4l0.2 0.1M4.8 34.2l-0.6 0.1M9.0 13.1l-0.6 0.3M13.6 33.0l0.0 0.0M55.7 27.1l-0.2 0.3M27.3 40.0l-0.1 0.0M44.7 39.2l0.1 0.2M41.8 38.4l-0.2 0.1M15.5 32.6l0.0 0.0M18.8 42.6l-0.3 0.1M3.3 26.2l0.0 0.0M7.6 20.2l0.3 0.6M24.0 22.6l0.3 0.1M20.5 32.8l-0.1 0.1M57.9 19.2l-0.2 0.1M38.3 18.1l-0.1 0.2M30.9 36.2l-0.2 0.1M48.6 20.0l0.1 0.1M35.6 18.3l-0.4 0.5M52.3 7.5l-0.2 0.1M53.3 15.8l0.3 0.4M6.4 41.6l0.0 0.1M21.5 8.8l-0.1 0.1M57.8 9.4l0.1 0.5M21.8 30.8l0.1 0.2M3.1 3.2l0.4 0.0M49.3 29.2l0.2 0.0M32.4 0.3l-0.3 0.0M53.2 13.3l0.1 0.3M15.0 18.8l-0.0 0.1M37.3 13.7l0.0 0.0M43.5 9.0l-0.1 0.5M46.5 8.4l0.2 0.3M36.0 7.1l-0.3 0.5M29.3 23.6l0.1 0.0M33.2 36.8l0.4 0.5M43.5 41.3l0.3 0.0M28.2 34.9l-0.2 0.0M10.2 10.9l-0.5 0.1M45.2 43.0l0.1 0.5M18.5 18.0l-0.3 0.1M31.5 18.9l-0.3 0.4M18.8 13.9l0.0 0.1M1.9 7.9l-0.3 0.0M33.4 37.5l-0.3 0.1M52.5 5.5l0.1 0.7M48.3 38.0l-0.1 0.3M24.8 34.9l-0.1 0.1M51.2 27.1l0.3 0.2M38.2 38.0l0.1 0.1M39.9 27.2l0.2 0.4M29.5 9.7l-0.1 0.7M48.2 30.4l-0.0 0.2M35.3 8.5l-0.1 0.1M3.3 8.6l-0.4 0.3M20.5 20.8l0.0 0.0M49.3 17.6l0.2 0.0M54.0 6.0l0.4 0.0M57.3 0.5l-0.4 0.0M24.3 16.5l0.4 0.3M48.7 3.8l0.1 0.1M37.1 8.0l0.4 0.2M47.9 0.5l0.6 0.3M16.1 10.6l0.6 0.2M23.1 29.3l0.0 0.1M49.8 21.0l-0.0 0.0M11.7 22.1l-0.1 0.1M0.9 6.4l-0.3 0.4M9.4 21.0l-0.2 0.7M30.7 23.4l-0.2 0.6M14.0 17.4l-0.2 0.2M57.0 42.9l-0.2 0.0M53.0 16.5l-0.3 0.5M22.0 36.1l0.2 0.2M36.4 32.7l-0.5 0.1M58.2 23.0l0.1 0.3M45.1 2.8l0.3 0.3M56.0 12.7l0.1 0.3M5.1 22.0l-0.0 0.2M21.0 23.2l0.1 0.0M6.5 38.7l0.1 0.1M33.9 18.5l0.1 0.0" stroke="#8152a8" stroke-width="1.5"/>
<path d="M3.9 41.7l-0.4 0.4M50.1 15.1l-0.5 0.3M25.3 14.1l-0.2 0.4M20.2 20.7l0.5 0.4M29.4 8.4l-0.0 0.1M41.1 24.9l-0.4 0.3M47.7 7.9l0.5 0.2M27.6 13.4l0.3 0.1M11.8 20.6l0.1 0.4M52.3 21.8l-0.1 0.5M1.3 29.9l0.3 0.4M33.6 41.0l0.4 0.1M20.4 15.7l-0.5 0.4M36.1 26.7l-0.5 0.1M13.7 25.8l0.0 0.0M7.2 21.6l-0.3 0.2M52.3 13.2l0.2 0.0M49.2 10.0l-0.1 0.1M10.3 4.4l-0.0 0.1M19.9 34.9l0.6 0.0M6.2 38.8l-0.3 0.5M31.3 20.7l0.1 0.1M41.4 16.1l0.2 0.4M39.3 35.6l0.3 0.2M47.8 2.6l-0.1 0.1M48.5 35.6l0.2 0.0M10.0 14.0l0.1 0.1M21.5 33.6l0.6 0.2M29.0 7.5l0.1 0.3M41.7 6.1l-0.2 0.4M23.6 38.2l0.2 0.3M18.2 36.6l-0.1 0.4M38.7 31.9l-0.1 0.3M51.3 8.8l-0.2 0.4M54.6 41.4l0.0 0.0M52.0 21.7l-0.3 0.3M1.3 15.0l0.2 0.0M9.8 5.3l0.1 0.2M42.2 32.5l-0.1 0.1M50.4 18.7l0.3 0.0M6.6 24.3l-0.3 0.6M25.3 9.2l0.3 0.0M51.6 20.5l-0.1 0.2M37.5 17.0l-0.6 0.0M40.2 38.2l-0.2 0.0M31.1 16.8l0.4 0.2M13.2 8.4l-0.2 0.3M21.0 14.0l-0.3 0.2M40.9 10.2l-0.1 0.4M43.8 15.3l-0.1 0.1M0.4 38.8l-0.0 0.0M4.9 23.9l-0.2 0.1M51.1 21.0l-0.3 0.6M5.3 30.7l0.2 0.0M36.5 10.1l-0.4 0.5M32.7 18.1l-0.5 0.1M51.9 20.9l-0.1 0.4M54.8 9.0l0.2 0.1M10.9 28.4l-0.3 0.6M38.7 11.5l0.4 0.2M46.2 5.4l0.1 0.1M24.7 21.1l0.6 0.2M2.6 17.3l-0.0 0.1M7.8 12.2l-0.0 0.1M41.1 36.2l0.1 0.1M31.2 10.2l0.2 0.5M35.3 8.3l-0.3 0.3M24.8 1.5l-0.2 0.1" stroke="#8152a8" stroke-width="2.0"/>
<path d="M52.1 36.6l-0.1 0.3M46.0 1.9l0.4 0.1M7.2 29.9l-0.0 0.0M27.8 2.5l-0.6 0.2M5.1 12.6l0.5 0.4M29.6 22.6l0.2 0.3M48.1 11.8l-0.3 0.3M12.7 8.9l-0.1 0.3M21.5 6.9l0.4 0.1M19.6 23.9l0.5 0.5M35.3 15.8l-0.7 0.1M53.2 23.9l-0.5 0.1M32.7 33.7l0.7 0.0M44.2 43.5l0.0 0.1M50.3 17.9l0.1 0.1M5.0 33.6l0.1 0.1M37.8 1.7l-0.0 0.1M37.9 8.9l-0.0 0.0M8.9 0.1l-0.1 0.2M32.7 10.9l0.1 0.1M29.6 32.4l-0.6 0.2M39.4 16.6l0.1 0.0M54.3 15.4l-0.0 0.1M32.3 0.4l0.2 0.4M32.8 28.8l0.4 0.5M6.3 1.1l0.3 0.4M2.0 1.7l0.3 0.2M0.7 34.7l0.1 0.1M54.2 22.4l-0.3 0.4M26.1 34.8l-0.1 0.6M37.0 13.5l-0.0 0.0M12.2 29.2l0.4 0.1M0.0 38.8l-0.2 0.5M17.1 12.2l0.3 0.5M29.4 21.5l-0.1 0.1M53.2 18.8l-0.3 0.4M4.2 5.1l0.1 0.2M39.8 12.9l-0.2 0.0M14.1 33.7l-0.0 0.1M0.3 34.7l0.2 0.0M1.6 2.0l0.5 0.3M1.9 14.6l-0.2 0.4M57.9 15.5l0.5 0.5M39.9 13.6l0.0 0.4M14.6 16.7l-0.4 0.3M50.8 36.1l0.0 0.1M49.1 10.0l0.1 0.4M54.9 9.2l0.1 0.4M13.4 32.2l-0.2 0.4M19.1 2.2l0.2 0.5M35.3 5.4l0.5 0.3M31.4 39.9l-0.3 0.4M56.4 19.9l0.4 0.4M15.8 8.5l-0.5 0.2M42.4 6.9l0.5 0.3M50.2 34.9l-0.0 0.0M31.7 27.3l0.0 0.0M2.7 35.3l0.0 0.0M14.9 18.3l0.0 0.6M38.1 32.0l0.5 0.1M22.6 24.5l-0.4 0.2M57.5 12.7l-0.0 0.1M12.1 1.2l0.1 0.4M49.2 6.3l-0.0 0.2M35.7 11.6l-0.4 0.3M18.1 39.7l-0.4 0.2M43.4 32.4l0.1 0.2M1.9 21.1l-0.2 0.5M19.4 8.1l-0.4 0.3M16.5 23.7l-0.1 0.0M48.6 2.3l-0.1 0.2M17.2 32.5l0.2 0.6M42.5 20.3l-0.0 0.0M51.7 9.5l-0.3 0.5M18.3 31.1l-0.5 0.3" stroke="#9c6ebc" stroke-width="1.5"/>
<path d="M15.5 32.4l0.0 0.4M7.2 9.5l-0.0 0.0M13.7 9.6l0.4 0.5M13.9 7.4l-0.2 0.1M55.5 37.0l0.0 0.0M42.3 3.1l0.1 0.1M47.0 23.6l0.0 0.2M16.9 4.5l0.1 0.0M18.5 17.7l0.5 0.3M31.3 15.8l0.2 0.1M21.6 16.6l0.0 0.6M8.3 31.2l-0.0 0.4M7.8 17.5l-0.2 0.4M31.4 7.5l0.2 0.6M15.3 27.7l-0.0 0.2M37.2 27.9l-0.0 0.6M58.2 2.8l0.5 0.4M8.0 41.6l-0.2 0.4M47.0 13.6l0.1 0.2M32.9 10.4l-0.4 0.5M12.1 26.2l0.1 0.2M0.2 27.4l0.0 0.0M55.5 19.7l-0.5 0.1M23.6 7.1l0.0 0.0M30.7 10.2l0.4 0.5M51.2 29.0l0.0 0.1M44.2 34.2l-0.0 0.1M30.1 34.8l-0.1 0.1M34.8 5.3l0.0 0.0M51.7 5.2l-0.0 0.1M11.2 35.6l0.3 0.5M28.7 41.5l-0.1 0.0M22.9 31.6l0.6 0.2M34.1 33.8l0.5 0.3M52.7 31.1l-0.5 0.1M56.8 23.4l-0.3 0.3M12.1 13.5l0.4 0.5M34.6 36.6l-0.2 0.6M17.3 3.3l-0.2 0.3M19.1 11.6l0.0 0.5M42.3 15.6l0.1 0.3M26.0 19.7l0.5 0.4M37.3 29.1l0.1 0.6M15.4 35.5l0.3 0.1M22.2 26.0l-0.1 0.7M30.1 18.9l-0.1 0.3M8.9 7.1l0.1 0.0M14.6 1.0l-0.1 0.1M39.7 22.5l0.2 0.2M9.5 12.3l0.1 0.2M43.2 8.1l0.2 0.1M5.7 35.5l0.0 0.1M3.5 11.4l0.2 0.1M23.5 14.9l0.2 0.2M41.3 13.6l-0.6 0.4M0.4 38.4l0.6 0.3M28.8 24.6l0.1 0.2M9.2 30.3l0.1 0.4M24.3 35.6l-0.2 0.3M9.0 13.6l0.3 0.5M13.4 21.7l-0.1 0.0M19.0 2.0l-0.0 0.1M43.3 41.5l-0.1 0.3M6.2 35.8l0.0 0.4M32.2 33.1l0.0 0.0M7.8 16.8l-0.1 0.0M4.2 11.5l0.7 0.0M47.2 43.4l0.5 0.0M26.7 37.3l0.5 0.1M43.9 5.6l0.1 0.1M0.8 11.7l-0.3 0.3M43.0 24.3l0.6 0.4M17.7 36.2l-0.2 0.2" stroke="#8e5eb2" stroke-width="1.5"/>
<path d="M9.6 37.7l0.0 0.0M43.7 41.1l-0.6 0.3M9.2 8.9l-0.1 0.2M34.9 8.1l-0.1 0.0M8.5 11.4l-0.4 0.2M41.2 16.1l0.2 0.1M27.0 5.8l0.1 0.1M5.5 31.6l0.1 0.1M30.6 35.3l-0.0 0.3M4.3 24.3l-0.2 0.1M2.3 6.3l0.1 0.2M0.8 35.9l0.3 0.1M39.8 7.6l-0.0 0.0M28.7 34.7l0.4 0.3M9.4 33.5l0.0 0.0M43.1 40.9l0.4 0.1M8.3 25.2l0.0 0.2M6.1 17.2l0.5 0.4M29.8 32.3l-0.3 0.3M14.1 2.8l-0.0 0.1M5.6 31.9l0.1 0.2M51.5 11.4l0.1 0.6" stroke="#5e3490" stroke-width="1.5"/>
<path d="M28.1 39.5l-0.6 0.0M27.5 6.3l0.2 0.6M10.6 9.7l-0.0 0.4M11.8 29.8l0.3 0.2M19.2 20.1l0.2 0.4M32.3 11.1l-0.2 0.1M50.2 25.1l-0.1 0.2M56.1 23.6l-0.2 0.2M25.3 12.7l-0.4 0.1M36.0 26.0l-0.2 0.0M39.6 20.5l0.2 0.0M35.7 14.5l-0.2 0.2" stroke="#4e2a80" stroke-width="1.0"/>
<path d="M9.7 2.3l0.3 0.2M24.6 3.1l-0.3 0.6M40.2 7.6l0.2 0.1M10.6 7.2l-0.0 0.0M29.4 6.9l-0.1 0.6M5.0 18.2l0.4 0.1M0.6 3.2l-0.1 0.3M57.7 4.9l-0.2 0.5M50.6 7.3l0.6 0.1M23.0 23.6l0.3 0.3M15.0 27.0l0.0 0.0M46.8 2.4l0.1 0.2M38.5 19.9l-0.6 0.4M30.1 36.2l-0.2 0.5M41.5 39.3l-0.2 0.1M41.9 12.3l0.4 0.5M8.5 36.1l0.1 0.0M27.7 25.4l-0.6 0.0M18.3 33.3l0.4 0.4M14.0 42.9l-0.5 0.1M50.9 15.8l0.7 0.1M9.4 6.6l-0.0 0.0M11.5 14.8l0.1 0.1M22.7 29.6l-0.4 0.1M18.3 3.0l0.1 0.1" stroke="#3e2068" stroke-width="1.5"/>
<path d="M13.5 31.7l-0.5 0.3M21.5 36.1l0.2 0.4M16.9 18.8l0.0 0.6M9.1 12.0l0.4 0.1M19.8 33.2l-0.0 0.0M32.0 39.7l0.2 0.4M50.4 29.7l-0.4 0.0M40.8 5.5l0.1 0.1M45.0 8.7l-0.2 0.3M16.9 30.4l0.5 0.1M3.5 0.6l0.1 0.0M39.1 27.5l0.2 0.2M15.8 1.7l-0.3 0.0M31.8 28.6l-0.1 0.6M36.6 9.1l-0.0 0.2" stroke="#4e2a80" stroke-width="1.5"/>
<path d="M8.2 24.9l0.0 0.1M21.7 22.8l0.1 0.0M46.9 17.0l-0.2 0.2M8.1 21.4l-0.1 0.6M33.6 27.5l-0.0 0.2M34.0 6.8l-0.1 0.2M12.1 3.0l-0.2 0.6M4.2 16.1l0.1 0.1M4.8 24.2l0.1 0.1M36.7 28.1l-0.2 0.3" stroke="#5e3490" stroke-width="1.0"/>
<path d="M12.2 9.4l0.4 0.1M1.7 40.8l0.2 0.2M29.0 42.3l0.1 0.2M26.5 22.5l-0.1 0.5M37.1 23.7l0.1 0.1M33.2 2.7l-0.4 0.4" stroke="#3e2068" stroke-width="1.0"/>
</g></g>
<g clip-path="url(#c16)"><g filter="url(#soft)" transform="translate(61.00 848.00)" fill="none" stroke-linecap="round">
<rect x="-2" y="-2" width="62.4" height="47.9" fill="#eae1cf"/>
<path d="M56.1 38.3h0M42.7 10.0h0M19.3 31.3h0M47.1 0.7h0M9.7 39.3h0M6.9 28.8h0M19.3 28.3h0M50.4 25.5h0M22.8 14.2h0M36.3 27.6h0M23.9 20.5h0M31.3 11.3h0M10.5 25.0h0M5.9 26.2h0M46.8 36.4h0M14.7 18.2h0M53.9 15.4h0M57.9 8.8h0M49.1 1.8h0M39.0 35.4h0M32.0 27.8h0M53.4 43.7h0M10.5 22.9h0M2.3 16.6h0M8.5 7.0h0M36.5 3.7h0M9.0 0.4h0M47.5 10.7h0M4.2 27.3h0M41.9 27.7h0M32.0 23.5h0M42.0 13.6h0M49.2 30.5h0M50.1 39.1h0M49.0 22.8h0M30.5 32.2h0M33.8 1.2h0M53.5 8.7h0M28.3 19.9h0M5.4 25.4h0M34.5 35.7h0M35.8 13.5h0M33.0 42.1h0M37.2 37.0h0M0.7 30.3h0M12.3 7.1h0M19.3 7.8h0M5.0 9.3h0M13.5 11.0h0M46.7 3.7h0M11.7 2.4h0M29.6 10.1h0M31.0 10.4h0M11.5 21.4h0M4.2 38.8h0M32.9 17.4h0M32.1 41.6h0M28.9 17.3h0M12.7 16.7h0M45.2 26.9h0M16.1 39.4h0M7.8 15.6h0M45.3 40.2h0M26.8 0.5h0M32.8 18.7h0M1.7 15.3h0M51.5 1.6h0M10.4 7.3h0M46.6 13.5h0M40.0 29.6h0M0.7 19.2h0M7.0 35.1h0M28.6 16.2h0M47.4 36.1h0M4.0 4.2h0M18.9 13.7h0M25.7 18.8h0M56.8 29.5h0M56.1 27.1h0M13.6 24.9h0M9.3 25.6h0M8.3 40.9h0M17.7 39.3h0M12.9 9.1h0M14.4 36.2h0M48.4 32.7h0M33.6 6.4h0M13.9 1.4h0M54.3 5.6h0M41.8 0.0h0M16.6 26.5h0M10.7 3.1h0M52.3 12.6h0M0.4 30.9h0M57.8 23.9h0M2.1 18.3h0M35.6 10.7h0M24.4 32.6h0M38.4 36.5h0M55.5 22.8h0M57.3 5.2h0M30.2 29.7h0M54.2 20.6h0M25.5 39.1h0M27.5 2.5h0M26.4 11.9h0M38.3 35.8h0M2.7 13.9h0M52.5 35.5h0M45.7 17.1h0M55.7 37.2h0M47.8 23.9h0M37.4 5.8h0M2.1 0.7h0M3.2 22.4h0M55.2 25.3h0M46.0 33.1h0M55.2 12.1h0M29.0 40.6h0M19.3 30.6h0M24.1 6.7h0M11.9 15.8h0M1.7 38.7h0M20.7 10.6h0M46.7 0.2h0M44.5 19.8h0M5.3 17.5h0M57.6 1.7h0M16.6 7.8h0M34.6 8.7h0M49.5 16.0h0M55.5 5.3h0M13.4 1.2h0M2.6 8.1h0M34.3 24.2h0M42.4 10.3h0M35.0 43.2h0M18.8 10.3h0M10.8 42.4h0M37.2 21.7h0M28.9 3.5h0M13.2 30.7h0M14.7 22.6h0M52.8 8.0h0M27.6 33.5h0M43.5 36.3h0M53.2 25.4h0M13.2 22.4h0M54.1 8.7h0M17.2 8.7h0M51.3 4.3h0M8.8 26.7h0M42.6 18.5h0M43.7 31.0h0M22.8 3.2h0M40.4 27.2h0M56.0 30.8h0M3.7 8.6h0M18.0 31.9h0M18.0 10.3h0M10.9 11.9h0M29.0 31.1h0M49.5 4.4h0M32.2 42.7h0M23.1 5.5h0M38.2 36.2h0M2.3 3.7h0M17.9 16.0h0M6.7 3.7h0M24.6 42.0h0M33.1 12.2h0M56.0 12.4h0M8.2 5.4h0M1.4 40.2h0M31.1 43.1h0M31.6 3.1h0M21.6 15.1h0M9.2 3.5h0M40.3 38.3h0M54.6 10.4h0M36.0 11.2h0M49.3 40.1h0M0.7 8.3h0M50.7 43.1h0M49.5 2.8h0M35.0 33.8h0M33.3 23.9h0M45.2 2.6h0M33.2 42.7h0M32.1 15.8h0M7.9 39.1h0M39.1 41.9h0M56.3 30.4h0M49.9 35.9h0M43.4 18.3h0M39.5 34.4h0M15.5 34.5h0M35.2 16.7h0M25.3 40.3h0M3.9 1.9h0M29.1 4.7h0M50.0 40.4h0M20.9 15.4h0M38.6 38.8h0M37.3 39.3h0M20.0 20.5h0M40.1 32.6h0M22.4 15.5h0M49.4 29.3h0M31.1 11.0h0M21.3 3.8h0M14.3 4.0h0M13.1 27.4h0M32.6 37.3h0M33.0 15.0h0M20.3 36.5h0M1.1 7.2h0M26.0 6.4h0M23.2 7.0h0M36.1 38.1h0M22.9 33.9h0M0.1 4.7h0M8.6 34.4h0M16.1 25.1h0M50.5 24.8h0M23.7 24.1h0M38.4 26.1h0M31.7 6.0h0M56.7 31.9h0M51.4 34.6h0M12.9 19.5h0M34.9 7.7h0M47.8 21.5h0M34.1 40.3h0M18.6 14.9h0M34.7 4.5h0M14.9 9.2h0M56.7 28.0h0M46.6 28.0h0M18.7 16.2h0M55.5 27.0h0M35.4 18.8h0M52.8 10.0h0M51.2 30.7h0M42.7 43.6h0M28.6 23.4h0M24.4 29.5h0M49.7 33.6h0M13.5 35.6h0M1.9 28.3h0M10.2 14.0h0M33.2 6.2h0M42.0 29.1h0M45.4 21.1h0M49.1 32.7h0M31.9 28.8h0M14.9 26.1h0M16.5 6.2h0M35.3 40.6h0M27.4 7.3h0" stroke="#a4947c" stroke-width="0.75" opacity="0.55"/>
<path d="M43.1 9.2l-0.0 0.2M24.3 12.4l-0.1 0.2M43.0 20.3l-0.5 0.0M26.0 12.5l0.2 0.5M18.7 23.2l-0.1 0.0M31.4 22.3l0.2 0.7M39.7 26.8l-0.1 0.4M36.0 27.0l-0.1 0.3M23.1 24.3l0.4 0.1M29.8 20.6l0.1 0.5M22.2 14.3l-0.1 0.7M36.7 22.3l-0.3 0.6" stroke="#7a6aca" stroke-width="1.5"/>
<path d="M39.2 33.6l0.4 0.1M35.6 25.5l0.1 0.2M23.6 33.5l0.4 0.5M24.4 30.2l-0.0 0.0M35.5 10.8l0.1 0.5M21.7 9.3l-0.0 0.1M54.6 4.3l0.1 0.1M6.5 18.3l0.1 0.1M31.3 30.4l0.2 0.3M48.7 36.1l-0.3 0.1M41.8 6.9l-0.0 0.1M50.3 34.0l0.0 0.1" stroke="#7a6aca" stroke-width="2.0"/>
<path d="M31.4 13.6l0.3 0.1M12.4 22.1l-0.3 0.2M28.4 15.1l0.6 0.2M32.1 24.9l0.6 0.2M33.6 15.4l0.2 0.3M24.1 34.8l0.0 0.0M6.0 39.1l-0.1 0.1M9.8 35.2l0.0 0.1M35.7 22.5l-0.2 0.0M10.4 35.1l0.3 0.3M17.6 33.7l-0.5 0.4M20.9 18.1l0.5 0.5M25.7 13.3l-0.1 0.5M26.3 26.5l-0.0 0.6M20.7 29.6l0.1 0.6M30.3 11.8l-0.1 0.5M51.7 28.1l0.5 0.2" stroke="#6052ba" stroke-width="1.5"/>
<path d="M20.9 23.4l0.1 0.1M43.5 15.2l-0.6 0.3" stroke="#6052ba" stroke-width="1.0"/>
<path d="M28.2 32.4l0.2 0.1M34.5 15.5l0.2 0.3M27.0 9.6l-0.3 0.1M32.0 3.4l0.1 0.1M23.9 21.2l0.3 0.1M40.1 25.0l-0.5 0.2M44.0 31.6l0.6 0.2M36.9 15.5l0.0 0.0M28.2 29.7l-0.0 0.6M10.7 35.5l-0.2 0.2" stroke="#6e5ec2" stroke-width="1.5"/>
<path d="M18.7 26.3l-0.0 0.0M29.7 21.5l-0.3 0.6M27.2 15.1l-0.1 0.0M27.5 21.9l0.3 0.3M37.9 9.0l0.3 0.0M45.4 41.4l-0.0 0.3M33.9 26.5l-0.0 0.1M32.4 1.9l-0.4 0.0" stroke="#6052ba" stroke-width="2.0"/>
<path d="M22.2 26.9l0.7 0.1M33.4 35.8l-0.1 0.1M56.3 27.2l-0.6 0.0M29.1 3.8l-0.2 0.0" stroke="#6e5ec2" stroke-width="2.0"/>
<path d="M12.0 32.8l-0.2 0.4" stroke="#6e5ec2" stroke-width="1.0"/>
<path d="M34.8 19.8l-0.1 0.0" stroke="#3a2c98" stroke-width="3.0"/>
<path d="M38.5 18.5l0.3 0.6" stroke="#3a2c98" stroke-width="2.0"/>
<path d="M26.6 10.8l-0.0 0.1M30.1 12.5l0.4 0.2" stroke="#4434a8" stroke-width="2.5"/>
<path d="M35.3 15.2l0.6 0.3M33.2 10.2l-0.2 0.5M44.9 17.8l-0.1 0.3M32.9 14.6l-0.6 0.3" stroke="#3a2c98" stroke-width="2.5"/>
</g></g>
<g clip-path="url(#c17)"><g filter="url(#soft)" transform="translate(120.90 848.00)" fill="none" stroke-linecap="round">
<rect x="-2" y="-2" width="62.3" height="47.9" fill="#e4dcd4"/>
<path d="M51.2 15.3h0M46.1 41.8h0M18.2 33.7h0M19.5 7.2h0M20.3 33.0h0M8.6 28.9h0M20.5 7.4h0M25.1 17.0h0M26.8 38.7h0M53.7 10.0h0M57.6 26.9h0M56.0 35.9h0M30.7 11.0h0M54.2 43.9h0M36.4 5.1h0M48.0 33.6h0M51.3 42.9h0M56.9 32.3h0M22.9 23.4h0M29.4 33.4h0M36.5 36.3h0M30.1 25.9h0M56.2 34.8h0M54.3 30.7h0M7.2 18.4h0M16.9 11.5h0M7.4 4.8h0M28.0 34.4h0M50.6 42.5h0M33.9 0.6h0M11.2 2.5h0M50.6 14.0h0M42.2 19.8h0M34.0 37.4h0M38.3 3.3h0M37.0 15.6h0M56.9 11.8h0M14.1 40.5h0M24.1 3.6h0M46.4 40.3h0M28.7 7.3h0M50.5 14.9h0M14.3 1.9h0M51.4 10.3h0M7.0 16.0h0M40.8 43.8h0M12.3 27.1h0M15.7 37.8h0M28.4 30.0h0M48.8 23.5h0M27.5 0.4h0M9.7 30.4h0M44.4 25.4h0M2.9 32.8h0M49.5 37.6h0M43.8 29.1h0M20.4 15.9h0M11.1 28.2h0M19.8 35.5h0M13.5 11.6h0M5.0 12.3h0M45.3 36.2h0M53.5 1.5h0M39.9 24.7h0M20.4 41.3h0M39.8 13.8h0M48.4 19.4h0M27.4 20.9h0M27.7 1.1h0M47.8 13.3h0M26.2 7.7h0M33.1 3.1h0M1.7 9.2h0M51.2 30.0h0M42.1 4.0h0M26.3 32.3h0M43.4 19.7h0M4.5 16.7h0M55.3 39.1h0M35.8 15.5h0M35.1 25.3h0M26.9 37.4h0M32.9 4.2h0M42.7 30.7h0M5.9 23.0h0M57.0 28.4h0M39.3 21.0h0M24.8 43.3h0M16.4 20.4h0M5.5 22.6h0M38.6 30.3h0M57.0 11.5h0M12.1 15.7h0M19.5 40.1h0M12.2 20.7h0M58.3 17.9h0M26.7 18.4h0M18.8 14.1h0M48.8 0.6h0M3.9 35.4h0M42.2 18.6h0M28.0 20.8h0M15.0 19.0h0M20.8 26.0h0M19.6 25.8h0M2.4 43.4h0M0.8 20.7h0M21.9 5.7h0M56.7 19.7h0M10.8 14.4h0M11.0 23.9h0M58.2 42.3h0M13.4 31.2h0M32.8 33.6h0M9.1 2.0h0M7.1 39.8h0M3.1 1.8h0M27.0 2.7h0M10.2 41.9h0M10.5 33.4h0M49.2 20.0h0M25.8 9.3h0M19.1 23.4h0M33.3 23.4h0M21.2 38.9h0M26.7 16.7h0M27.8 37.0h0M35.2 32.6h0M48.2 15.6h0M42.1 4.2h0M28.2 20.3h0M22.7 7.3h0M46.8 15.0h0M22.9 5.2h0M50.5 38.0h0M10.6 17.1h0M16.6 8.3h0M48.4 27.0h0M53.0 30.2h0M19.4 34.3h0M6.2 25.8h0M30.0 3.4h0M16.8 22.8h0M7.2 3.6h0M35.9 42.8h0M34.2 43.8h0M28.3 4.5h0M9.6 20.0h0M50.9 35.7h0M56.8 25.9h0M44.0 24.1h0M9.6 23.7h0M16.2 35.7h0M47.7 9.7h0M7.7 12.7h0M1.2 8.5h0M55.8 40.5h0M25.3 38.8h0M11.1 43.9h0M33.3 26.9h0M16.2 0.3h0M31.6 27.6h0M41.0 34.1h0M53.9 1.1h0M39.7 3.9h0M49.4 23.3h0M0.5 17.5h0M49.0 38.8h0M53.8 22.6h0M40.0 29.9h0M28.7 33.8h0M9.5 10.1h0M36.0 32.7h0M57.0 2.9h0M58.2 13.5h0M21.4 30.8h0M57.8 9.0h0M22.9 39.5h0M49.4 18.2h0M15.6 35.2h0M11.7 16.2h0M0.8 9.6h0M26.2 22.1h0M44.8 27.1h0M13.3 17.4h0M14.2 5.9h0M9.4 42.1h0M46.5 37.2h0M41.9 11.6h0M43.4 23.7h0M46.0 25.5h0M37.3 5.5h0M50.3 31.0h0M33.1 11.3h0M38.7 18.2h0M12.9 33.7h0M40.8 35.3h0M57.9 17.5h0M34.9 3.4h0M38.5 36.1h0M24.4 0.9h0M41.6 17.2h0M11.0 33.0h0M23.8 22.2h0M35.0 19.9h0M39.5 12.7h0M13.4 20.4h0M47.1 14.3h0M11.0 11.5h0M20.5 6.3h0M27.4 25.4h0M58.0 4.0h0M15.4 6.9h0M21.9 37.6h0M9.5 22.5h0M24.8 37.0h0M32.4 43.9h0M50.1 40.3h0M45.5 4.8h0M6.4 42.7h0M10.9 2.9h0M35.8 25.9h0M9.9 18.9h0M23.9 20.2h0M21.0 5.8h0M38.1 14.6h0M50.2 43.2h0M2.1 33.8h0M43.1 13.0h0M33.7 12.9h0M50.2 14.8h0M37.6 11.3h0M50.2 9.7h0M55.3 7.3h0M23.9 30.7h0M23.2 34.5h0M10.2 43.5h0M30.1 39.1h0M10.1 18.0h0M29.3 41.4h0M57.9 17.5h0M23.1 15.3h0M4.5 6.1h0M44.4 4.7h0M48.2 18.6h0M11.0 13.6h0M7.3 27.9h0M15.2 26.8h0M26.3 27.4h0M5.2 32.3h0M11.3 18.6h0M55.3 43.3h0M31.7 20.4h0M30.7 28.6h0M56.3 12.6h0M0.4 24.6h0M19.9 22.0h0M28.6 5.4h0M20.3 39.0h0M32.9 30.4h0" stroke="#a4947c" stroke-width="0.75" opacity="0.55"/>
<path d="M34.9 12.4l0.1 0.1M43.4 35.0l0.1 0.1M11.2 30.9l0.1 0.1M16.5 35.8l-0.2 0.2M17.5 22.3l0.5 0.4M4.6 36.6l0.3 0.1M3.1 10.9l0.3 0.2M31.9 25.1l-0.2 0.6M16.6 23.7l-0.1 0.2M30.3 21.9l0.0 0.2M30.0 29.3l0.4 0.1M8.3 28.5l-0.3 0.2" stroke="#b9b0de" stroke-width="5.0" opacity="0.3"/>
<path d="M44.3 3.1l0.3 0.1M9.2 39.4l-0.2 0.2M31.9 9.5l0.0 0.5M44.8 16.8l0.3 0.1" stroke="#b9b0de" stroke-width="4.0" opacity="0.3"/>
<path d="M24.1 14.6l0.2 0.3M42.2 16.1l0.4 0.6M41.6 29.6l0.2 0.5M5.8 25.1l-0.4 0.3M26.7 13.5l0.1 0.6M4.2 28.7l0.1 0.3M38.0 21.2l-0.3 0.2M5.3 19.4l-0.4 0.2" stroke="#b9b0de" stroke-width="6.0" opacity="0.3"/>
<path d="M29.8 18.9l-0.5 0.3M48.2 1.3l-0.4 0.1M22.3 1.6l-0.0 0.3" stroke="#b9b0de" stroke-width="6.5" opacity="0.3"/>
<path d="M19.5 31.8l-0.0 0.2M16.1 9.7l0.1 0.3M11.1 41.4l0.1 0.1M13.5 14.0l0.1 0.6M36.3 0.8l-0.3 0.1M17.0 2.5l0.4 0.3" stroke="#b9b0de" stroke-width="4.5" opacity="0.3"/>
<path d="M6.6 16.2l0.0 0.1M45.0 8.0l0.3 0.4M13.3 11.4l0.0 0.3M47.3 26.5l0.3 0.4M53.5 7.2l0.1 0.4M34.7 23.9l0.1 0.3M53.3 28.1l-0.4 0.0M36.8 9.6l-0.1 0.3" stroke="#b9b0de" stroke-width="5.5" opacity="0.3"/>
<path d="M49.1 21.1l0.1 0.2M26.0 36.9l0.1 0.1M48.1 13.4l-0.1 0.4M18.2 41.7l0.1 0.1" stroke="#b9b0de" stroke-width="7.0" opacity="0.3"/>
<path d="M3.3 2.3l0.3 0.1M41.7 2.2l-0.2 0.1M8.6 26.7l0.3 0.3M1.9 2.5l-0.0 0.1M30.3 7.5l-0.3 0.6M18.0 32.1l0.3 0.6" stroke="#6e5ec2" stroke-width="2.5"/>
<path d="M14.0 18.6l-0.1 0.1M57.4 40.4l0.0 0.0M26.4 23.4l0.0 0.6M26.2 27.0l0.3 0.0M10.5 36.4l-0.4 0.1M22.7 35.1l0.4 0.2M10.3 28.3l-0.1 0.2M34.0 31.9l0.1 0.2M35.9 31.6l-0.1 0.1M1.0 15.4l-0.2 0.5M42.6 20.3l0.2 0.2M45.3 24.9l0.3 0.1M28.2 18.2l-0.1 0.1M6.1 37.3l0.1 0.0M0.6 17.3l-0.5 0.2M22.4 24.8l-0.0 0.0M51.1 28.9l-0.2 0.1M53.7 38.0l-0.6 0.1M43.1 31.4l-0.0 0.0M30.2 30.5l0.1 0.3M8.7 7.9l0.0 0.0M8.6 42.0l-0.2 0.1M3.1 13.4l0.5 0.2M2.1 42.7l0.4 0.5M17.5 15.4l-0.0 0.3M35.3 41.7l-0.4 0.5M18.5 17.7l-0.1 0.1M18.8 10.3l-0.1 0.2M43.9 20.8l0.3 0.4M30.4 7.4l0.0 0.2M37.9 10.7l-0.4 0.3M17.3 14.6l-0.2 0.4M43.0 7.5l-0.3 0.2M17.7 33.5l0.4 0.1M8.5 37.4l0.0 0.6M24.3 4.3l-0.2 0.2M52.1 31.8l0.2 0.1M24.3 15.1l0.3 0.2M38.5 19.9l0.0 0.0M38.8 24.0l-0.1 0.2M12.8 23.3l-0.2 0.2M31.2 18.4l0.2 0.5M19.4 10.2l-0.3 0.1M35.8 27.8l-0.4 0.0M20.5 26.0l0.1 0.6M3.5 27.5l-0.3 0.4M3.8 10.1l-0.4 0.2M29.0 0.2l0.2 0.4M39.5 29.6l-0.5 0.4" stroke="#6052ba" stroke-width="1.5"/>
<path d="M43.9 6.7l-0.4 0.1M41.4 9.7l-0.1 0.3M22.4 16.2l0.1 0.0M12.9 12.8l-0.1 0.2M50.1 35.8l0.1 0.2M48.3 20.1l0.1 0.1M2.8 32.2l-0.1 0.3M41.3 3.8l-0.1 0.4M31.8 7.1l-0.2 0.2M3.1 35.2l-0.0 0.1M3.2 12.0l0.5 0.3M27.1 15.0l0.3 0.1M30.1 10.7l-0.3 0.1M25.3 39.2l0.2 0.3M8.4 9.1l0.3 0.2M42.4 28.6l0.3 0.1M38.0 2.3l-0.1 0.1M17.1 4.3l-0.4 0.2M11.1 43.4l0.2 0.0M7.6 34.3l-0.1 0.3M32.3 36.9l-0.4 0.4M38.0 19.1l-0.1 0.1M56.6 41.8l0.4 0.0M37.4 17.3l-0.3 0.5M36.6 1.3l0.2 0.1M24.3 14.4l-0.5 0.1M12.8 30.4l-0.2 0.3M27.4 24.2l-0.5 0.2M53.5 36.8l-0.4 0.0M30.9 38.2l0.2 0.2M9.5 37.6l0.5 0.3M31.7 33.9l-0.4 0.1M51.2 11.1l0.6 0.0M50.2 6.1l0.6 0.2M2.2 2.0l-0.3 0.2M9.8 4.7l-0.4 0.2M9.7 3.8l0.3 0.2M39.1 22.0l0.0 0.0M39.8 0.4l-0.5 0.0M29.9 5.7l-0.3 0.6M7.2 10.2l-0.4 0.2M0.7 4.9l-0.2 0.1M2.6 16.9l-0.0 0.2M55.0 43.5l0.3 0.1M35.9 19.3l-0.2 0.4M58.1 42.0l-0.2 0.4M42.2 1.7l0.6 0.1M55.9 17.7l0.5 0.4M38.7 24.2l-0.3 0.0M53.3 17.8l0.3 0.5M32.7 25.7l-0.1 0.2M11.8 22.4l0.4 0.6M36.7 25.1l-0.6 0.2M8.7 28.4l0.2 0.2M7.2 17.5l-0.1 0.1M36.3 15.3l-0.1 0.3M46.3 30.8l-0.2 0.1M44.3 36.1l-0.0 0.6M37.5 13.7l-0.1 0.6M22.8 31.4l0.1 0.1" stroke="#6052ba" stroke-width="2.0"/>
<path d="M20.9 0.8l0.1 0.0M10.6 8.6l-0.0 0.0M26.3 15.5l0.3 0.2M53.7 17.8l-0.3 0.2M36.5 30.7l-0.6 0.1M57.9 29.8l0.5 0.2M26.3 2.0l-0.4 0.1M40.4 9.6l0.5 0.2M26.2 7.4l-0.0 0.1M46.6 19.7l0.4 0.1M27.2 7.0l-0.4 0.1M33.7 20.6l0.2 0.7M56.5 33.3l0.6 0.3M37.3 16.8l-0.0 0.3M1.5 15.2l-0.1 0.4M10.0 21.1l-0.6 0.1M34.2 16.3l-0.0 0.1M1.4 37.7l0.6 0.1M22.0 39.9l-0.0 0.7M49.9 8.6l0.5 0.1M15.1 2.4l-0.2 0.4M7.1 22.2l-0.3 0.2M14.5 5.0l0.5 0.0M11.9 24.8l0.2 0.3M3.7 22.1l0.1 0.1M30.6 41.0l0.2 0.1M45.3 14.9l-0.3 0.3M31.2 42.4l0.0 0.0M33.0 7.2l0.4 0.3M47.5 25.4l0.0 0.0M1.2 15.5l0.1 0.1M31.2 39.1l-0.1 0.1M22.0 43.4l-0.4 0.2M26.4 30.5l-0.4 0.4M32.5 18.9l0.4 0.5M41.9 35.0l0.2 0.2M21.9 37.0l-0.0 0.2M0.8 33.6l0.2 0.4M38.2 17.5l0.4 0.2M12.9 30.8l-0.2 0.4M54.2 3.9l-0.2 0.3M19.0 29.1l0.2 0.2M8.9 10.5l0.4 0.2M23.0 38.9l-0.1 0.1M26.9 30.8l0.0 0.0M27.6 6.5l-0.1 0.2M2.0 43.2l0.3 0.5M30.2 36.9l-0.0 0.0M18.1 28.3l0.1 0.1M47.7 28.2l0.0 0.6M48.8 2.5l-0.1 0.0M47.7 16.2l-0.4 0.1M49.0 9.1l-0.2 0.4M56.6 22.8l0.2 0.1M54.5 34.7l-0.1 0.0M56.8 28.4l-0.5 0.5M13.8 26.5l0.2 0.0M52.6 40.0l-0.2 0.1M21.3 17.2l-0.4 0.5M15.7 6.4l-0.1 0.0M14.7 25.5l0.5 0.4M44.5 38.0l-0.3 0.0M13.9 28.6l0.3 0.6" stroke="#7a6aca" stroke-width="1.5"/>
<path d="M33.3 14.9l-0.1 0.1M29.6 24.7l0.5 0.3M11.3 14.3l0.4 0.2M5.5 29.2l-0.0 0.4M20.8 23.9l-0.2 0.0M8.3 39.9l0.6 0.1M39.0 39.7l0.1 0.4M52.0 2.5l-0.0 0.3M23.2 3.6l-0.0 0.5M2.9 42.8l-0.4 0.3M52.6 8.1l-0.1 0.2M56.0 27.8l0.0 0.0M30.2 29.4l0.7 0.0M53.3 37.4l-0.2 0.3M32.2 31.4l-0.6 0.2M38.5 39.1l0.1 0.5M23.2 39.2l-0.2 0.4M38.5 35.1l-0.3 0.0M25.6 27.9l0.4 0.0M27.5 19.0l0.4 0.4M48.8 3.9l-0.5 0.2M0.7 22.1l-0.3 0.2M20.6 27.2l0.1 0.6M19.3 19.1l0.5 0.1M10.9 24.9l-0.1 0.1M39.5 5.4l0.1 0.0M26.2 11.9l0.2 0.5M3.0 39.4l0.6 0.1M6.1 36.2l0.0 0.0M1.3 21.5l0.7 0.0M12.4 34.6l-0.1 0.3M23.0 23.2l-0.0 0.0M39.9 3.8l-0.0 0.0M49.0 23.2l-0.4 0.1M27.2 41.3l0.3 0.5M3.7 10.1l0.0 0.1M52.2 30.2l-0.2 0.2M1.0 40.3l0.6 0.3M51.0 14.3l0.2 0.2M38.9 34.9l0.2 0.1M1.1 18.4l0.3 0.3M2.4 8.9l0.1 0.1M8.8 12.8l0.4 0.2M27.6 8.2l-0.1 0.4M29.2 9.6l-0.1 0.3M51.1 9.6l-0.3 0.1" stroke="#6e5ec2" stroke-width="1.5"/>
<path d="M10.3 28.2l0.1 0.1M54.9 15.3l-0.0 0.0M36.8 7.4l-0.0 0.0M31.6 24.1l0.4 0.3M56.8 21.6l-0.0 0.3M50.9 36.4l-0.1 0.3M44.6 21.9l-0.2 0.1M2.7 25.8l0.2 0.6M34.6 29.9l0.1 0.2M4.1 30.9l0.1 0.0M34.7 41.7l0.0 0.0M18.8 25.0l-0.0 0.1M19.1 34.2l0.0 0.1M5.3 43.4l-0.3 0.5M32.8 6.4l0.1 0.1M4.6 33.4l-0.1 0.1M15.4 18.3l-0.0 0.3M0.8 30.9l-0.0 0.1M15.1 5.2l0.1 0.0M46.3 5.7l0.5 0.5M42.5 19.8l0.5 0.3M33.7 3.9l0.4 0.0M30.5 30.6l0.1 0.1M50.9 39.0l0.1 0.0M15.4 38.9l0.3 0.4M55.0 21.7l0.2 0.1M1.0 8.8l-0.3 0.6M10.3 22.0l0.6 0.1M44.4 36.1l-0.5 0.2M37.5 5.9l0.4 0.2M16.4 31.1l0.2 0.4M38.8 36.8l0.5 0.2M7.5 36.2l0.5 0.2M1.1 24.8l-0.1 0.2M11.6 30.0l-0.0 0.0M21.2 12.4l0.2 0.7M9.8 5.4l0.1 0.2M26.2 4.2l-0.4 0.3M45.6 17.7l-0.0 0.0M26.6 21.4l-0.2 0.2M22.9 9.1l-0.1 0.5M6.0 33.4l-0.0 0.6M56.9 8.9l-0.4 0.0M32.9 6.8l-0.4 0.1M27.7 19.2l-0.1 0.2M38.1 10.3l-0.2 0.1M18.6 30.6l0.5 0.1M55.2 18.7l-0.1 0.6M49.4 28.6l-0.2 0.1M28.4 5.1l-0.1 0.3M22.7 36.9l0.4 0.3M14.5 33.7l0.6 0.2" stroke="#6e5ec2" stroke-width="2.0"/>
<path d="M3.4 41.5l-0.1 0.2M34.8 5.9l0.1 0.1M35.4 11.5l-0.6 0.0M56.3 35.1l-0.1 0.1M24.1 40.5l0.1 0.0M23.7 14.4l0.6 0.1M39.3 24.1l-0.4 0.0M10.8 13.4l0.0 0.1M43.7 26.4l-0.4 0.1M28.2 7.1l0.0 0.3M28.6 11.5l0.2 0.6M32.2 14.9l-0.2 0.6M41.2 6.4l0.1 0.0M19.9 4.1l-0.5 0.2M21.9 8.7l-0.0 0.2M57.0 4.3l0.3 0.5M50.0 16.1l0.0 0.1M38.6 36.6l-0.2 0.2M48.3 14.0l0.3 0.4M24.9 32.4l-0.0 0.0M13.2 7.9l-0.1 0.2M22.6 16.4l-0.1 0.5M0.3 5.3l0.6 0.0M3.1 24.8l-0.2 0.1M10.9 35.4l0.0 0.0M18.6 12.3l-0.1 0.3M57.9 22.1l0.2 0.1M33.9 40.0l0.0 0.2M32.0 18.7l-0.5 0.3M8.2 13.6l-0.4 0.5M15.9 15.1l0.2 0.2M24.6 37.3l0.6 0.3M7.2 29.9l-0.4 0.2M25.5 31.5l0.4 0.2M15.6 6.4l0.2 0.6M5.8 2.1l-0.0 0.1M49.5 27.3l-0.2 0.1M39.6 17.5l0.0 0.0M35.2 25.4l0.2 0.1M42.6 36.2l-0.2 0.0M6.7 42.5l0.0 0.1M49.2 26.1l0.1 0.1M21.6 39.5l0.1 0.0M6.0 35.4l0.3 0.0M26.8 26.3l-0.3 0.2M28.5 41.1l0.1 0.6M9.4 5.4l-0.1 0.2M44.0 12.4l0.6 0.2M50.5 38.4l0.3 0.2M11.1 36.8l0.5 0.0M43.6 23.0l0.2 0.0M17.4 22.0l-0.6 0.0M6.2 1.9l0.6 0.3M54.5 17.5l-0.6 0.3M14.8 1.8l0.0 0.4M36.7 33.8l0.5 0.1M9.8 23.8l0.0 0.1M8.6 13.0l-0.2 0.3M32.5 19.9l-0.1 0.1M13.4 28.9l-0.6 0.1M13.4 2.1l0.6 0.1M22.7 33.8l0.1 0.2M50.8 8.3l-0.2 0.3M49.7 27.7l0.1 0.1M27.1 21.3l0.1 0.1" stroke="#7a6aca" stroke-width="2.0"/>
<path d="M28.7 28.9l0.0 0.0M34.0 36.5l0.3 0.1M23.3 40.8l-0.6 0.3M19.1 5.5l0.2 0.5M41.7 18.0l0.2 0.0" stroke="#7a6aca" stroke-width="2.5"/>
<path d="M37.1 5.9l0.0 0.2M37.6 14.9l-0.0 0.0M32.6 11.8l0.5 0.4M35.5 43.5l-0.2 0.1" stroke="#6052ba" stroke-width="2.5"/>
<path d="M29.1 12.9l-0.2 0.1M20.8 21.4l0.0 0.0M14.3 4.5l-0.4 0.2M22.1 8.1l0.0 0.0M4.4 33.9l-0.1 0.1M10.2 31.5l-0.4 0.4M4.6 32.7l0.3 0.2M36.6 38.2l-0.4 0.4M25.2 22.9l-0.6 0.3M7.6 24.3l-0.0 0.0M56.3 11.0l-0.2 0.5M10.7 37.6l0.1 0.4M17.2 16.0l-0.0 0.3M36.5 21.0l0.2 0.2M35.1 40.3l-0.1 0.0M2.2 37.2l-0.4 0.1M26.8 20.6l0.1 0.4M52.6 32.8l0.2 0.1M27.6 39.9l0.5 0.4M39.8 39.2l0.4 0.1" stroke="#3a2c98" stroke-width="2.0"/>
<path d="M32.6 36.1l0.4 0.2M32.2 26.8l0.6 0.3M49.3 31.2l0.5 0.1M12.4 3.7l0.2 0.5M26.3 21.3l-0.1 0.0M31.6 36.2l-0.6 0.1M31.4 20.3l-0.1 0.6M25.8 8.2l0.3 0.3M39.8 40.8l0.1 0.2M14.5 26.3l-0.0 0.1M5.2 38.2l0.3 0.6M23.8 33.9l-0.5 0.0M15.1 27.4l0.4 0.3M27.7 3.5l-0.1 0.2M37.2 20.2l-0.0 0.0M7.5 24.3l-0.1 0.0" stroke="#4434a8" stroke-width="1.5"/>
<path d="M25.8 8.2l-0.5 0.1M33.7 20.5l0.1 0.1M10.2 18.7l-0.2 0.5M23.2 5.0l-0.3 0.4M43.8 16.1l-0.5 0.2M20.8 43.0l0.4 0.1M38.9 29.2l0.2 0.5M29.8 17.9l-0.2 0.2M32.5 34.9l-0.0 0.0M32.5 29.6l-0.0 0.2M51.4 8.9l-0.0 0.2M14.7 31.4l-0.4 0.0M27.9 19.0l0.1 0.4M46.2 17.8l0.1 0.1M32.3 17.2l0.1 0.0M28.1 32.2l-0.0 0.0M4.0 10.7l0.0 0.0M10.5 26.9l0.2 0.2M26.2 31.8l0.1 0.1M25.9 26.2l-0.1 0.0M40.1 36.0l-0.3 0.4M38.6 43.2l0.3 0.2" stroke="#4434a8" stroke-width="2.0"/>
<path d="M38.8 25.6l0.2 0.1M28.0 35.1l-0.3 0.4M40.9 29.3l0.2 0.1M4.3 40.4l0.6 0.1M21.6 34.6l-0.1 0.7M2.2 27.8l-0.2 0.0M36.7 4.9l-0.1 0.3M28.4 28.8l-0.2 0.1M34.2 5.7l0.2 0.0M27.8 30.2l0.2 0.6M33.5 31.8l-0.1 0.1M35.1 1.4l-0.2 0.5M45.4 4.3l-0.3 0.0M35.9 33.7l0.0 0.0M3.4 19.4l-0.3 0.2M3.1 14.5l0.3 0.4M37.8 29.7l0.5 0.2M37.1 20.9l-0.3 0.5M28.4 29.9l-0.3 0.1M37.7 17.3l0.0 0.1M11.8 20.6l-0.2 0.0M47.1 19.1l0.0 0.2" stroke="#3a2c98" stroke-width="1.5"/>
</g></g>
<g clip-path="url(#c18)"><g filter="url(#soft)" transform="translate(180.80 848.00)" fill="none" stroke-linecap="round">
<rect x="-2" y="-2" width="62.5" height="47.9" fill="#e9e0d0"/>
<path d="M41.6 39.6h0M1.0 41.4h0M48.0 2.5h0M47.2 35.3h0M11.0 42.6h0M21.3 19.8h0M38.2 30.3h0M43.7 12.2h0M28.3 6.0h0M16.1 21.5h0M4.4 15.3h0M47.7 7.8h0M25.4 1.6h0M43.1 4.4h0M10.6 32.7h0M25.9 24.3h0M35.6 21.8h0M24.8 6.7h0M8.3 8.9h0M14.3 14.1h0M52.2 9.4h0M7.7 11.8h0M7.7 36.4h0M55.8 33.6h0M55.8 24.1h0M26.5 16.9h0M38.2 10.5h0M30.6 17.1h0M39.1 38.3h0M38.5 6.1h0M34.7 32.1h0M31.5 2.9h0M5.5 23.7h0M42.0 21.7h0M42.6 24.1h0M48.2 9.5h0M48.6 32.9h0M6.7 9.9h0M17.2 34.5h0M37.3 3.0h0M43.0 13.5h0M50.5 12.2h0M6.0 14.5h0M27.0 18.8h0M31.4 4.7h0M16.0 1.8h0M57.7 21.4h0M16.8 7.4h0M35.4 0.2h0M9.2 29.3h0M30.9 31.1h0M49.6 14.2h0M44.6 35.3h0M48.4 23.5h0M44.7 1.5h0M11.2 25.3h0M32.5 26.8h0M24.3 2.2h0M18.7 8.8h0M39.0 10.4h0M44.5 23.5h0M22.8 27.0h0M52.0 14.6h0M3.3 37.8h0M16.9 39.2h0M27.9 17.9h0M49.3 5.0h0M50.6 12.2h0M45.4 42.0h0M49.0 14.8h0M56.6 23.2h0M17.4 16.0h0M5.0 27.7h0M26.0 24.7h0M51.8 19.7h0M1.6 26.3h0M5.1 26.2h0M31.7 19.7h0M38.6 3.9h0M21.0 9.1h0M12.6 5.2h0M12.9 37.5h0M57.2 27.0h0M45.4 0.6h0M19.8 31.6h0M53.1 2.3h0M58.0 42.6h0M5.2 17.7h0M53.4 15.1h0M9.6 25.6h0M36.5 33.9h0M13.0 22.1h0M11.4 41.2h0M53.1 41.8h0M8.0 7.8h0M47.7 20.7h0M49.7 28.3h0M2.0 5.0h0M42.5 12.0h0M23.5 27.2h0M3.1 4.4h0M28.6 0.8h0M20.2 17.0h0M5.8 3.7h0M44.6 30.1h0M28.7 19.9h0M53.5 20.6h0M10.3 22.2h0M28.7 24.3h0M20.3 22.1h0M2.4 29.5h0M52.0 32.3h0M49.1 43.0h0M28.8 18.6h0M43.4 9.7h0M17.9 26.2h0M2.0 42.9h0M54.5 22.5h0M36.3 15.1h0M26.9 4.2h0M20.5 8.3h0M23.6 28.9h0M50.2 3.6h0M7.9 27.3h0M54.9 24.6h0M30.4 37.8h0M12.0 0.1h0M29.5 25.8h0M7.2 30.2h0M35.9 36.5h0M19.4 2.9h0M13.3 10.3h0M19.3 28.5h0M15.9 43.2h0M9.8 38.4h0M14.2 40.6h0M13.3 24.3h0M14.4 31.5h0M35.8 32.1h0M23.6 7.1h0M18.8 37.5h0M29.3 7.7h0M4.6 22.9h0M48.7 29.7h0M45.8 2.8h0M25.8 13.2h0M13.6 41.4h0M50.0 15.4h0M57.9 9.2h0M48.6 20.2h0M25.2 43.4h0M46.4 30.5h0M38.5 28.3h0M48.0 30.7h0M20.6 26.2h0M24.7 8.9h0M5.1 40.1h0M24.5 22.7h0M9.3 23.9h0M52.3 30.8h0M38.5 25.0h0M0.7 0.3h0M6.0 26.6h0M49.0 41.8h0M42.8 31.9h0M11.0 2.9h0M45.0 11.5h0M37.9 39.4h0M3.8 34.5h0M19.1 24.4h0M24.4 35.8h0M40.2 39.9h0M41.6 35.5h0M46.3 21.8h0M31.1 23.9h0M6.4 1.5h0M17.8 18.1h0M3.7 30.8h0M17.4 21.5h0M53.3 37.2h0M25.9 21.1h0M2.2 1.5h0M32.0 2.1h0M40.4 5.7h0M13.1 33.0h0M8.6 32.8h0M0.9 21.4h0M25.5 10.9h0M19.1 37.0h0M12.7 9.1h0M25.6 17.6h0M25.1 23.1h0M33.6 10.8h0M30.2 24.4h0M47.8 11.6h0M7.9 14.7h0M46.9 19.8h0M20.8 24.1h0M4.5 12.1h0M54.6 21.4h0M38.6 4.9h0M5.1 42.8h0M4.7 33.0h0M7.0 26.2h0M27.7 9.0h0M24.4 43.8h0M34.7 31.5h0M0.1 40.7h0M27.9 25.5h0M24.6 9.2h0M14.5 33.5h0M58.3 33.2h0M58.2 24.8h0M16.8 23.9h0M4.6 1.6h0M4.0 23.7h0M52.6 23.1h0M29.7 25.6h0M3.6 29.8h0M49.6 1.1h0M53.5 25.6h0M29.6 2.2h0M36.4 30.2h0M51.6 9.4h0M15.7 41.8h0M58.4 19.4h0M39.2 8.7h0M45.9 42.7h0M11.3 15.2h0M54.8 8.6h0M46.3 25.6h0M45.4 19.6h0M56.5 35.7h0M37.9 10.7h0M54.1 43.6h0M30.8 3.2h0M22.2 27.4h0M51.4 41.5h0M30.2 18.6h0M39.1 37.6h0M38.6 28.2h0M22.8 35.1h0M17.3 12.9h0M7.6 27.9h0M2.1 38.1h0M19.4 35.6h0M32.5 3.1h0M54.3 26.4h0M35.8 38.3h0M53.8 19.7h0M28.9 27.9h0M9.2 4.7h0M20.0 39.5h0M53.1 40.0h0M56.3 29.5h0M8.9 21.0h0M36.5 19.3h0M28.4 23.4h0M36.4 4.3h0M22.1 1.7h0" stroke="#a4947c" stroke-width="0.75" opacity="0.55"/>
<path d="M9.9 17.2l0.4 0.3M36.1 9.6l-0.4 0.1M19.6 19.5l-0.2 0.6M29.1 42.3l-0.1 0.1M53.8 4.9l0.4 0.5M8.0 28.7l-0.0 0.0M15.8 33.7l-0.1 0.2M21.4 28.7l-0.5 0.4M28.8 2.9l0.1 0.4M58.3 26.1l0.1 0.0M32.0 8.0l-0.1 0.2M26.6 30.2l0.0 0.5M36.1 20.9l-0.1 0.3M29.7 11.9l0.1 0.5M22.4 25.0l0.0 0.0M25.8 32.4l-0.3 0.1M43.1 3.6l0.4 0.3M53.4 43.5l-0.1 0.2M52.0 0.1l0.2 0.3M16.7 29.8l-0.1 0.0M54.0 43.7l-0.3 0.1M38.3 9.2l0.4 0.5M18.2 19.5l-0.6 0.2M43.6 9.5l0.1 0.3M32.3 19.6l-0.4 0.3M17.9 18.6l-0.1 0.5M26.5 24.6l-0.3 0.1M36.9 6.4l0.3 0.3" stroke="#6052ba" stroke-width="1.5"/>
<path d="M17.9 39.5l0.3 0.4M21.6 41.6l0.0 0.0M52.4 14.2l0.3 0.2M39.6 21.3l-0.4 0.1M32.2 14.7l-0.5 0.3M44.8 32.0l-0.5 0.3M18.5 30.7l0.0 0.1M19.8 42.7l-0.4 0.3M25.7 15.0l0.6 0.3M50.5 0.4l0.0 0.4M31.4 13.3l-0.2 0.2M25.7 6.0l-0.1 0.2M30.5 40.2l0.4 0.4M30.0 7.3l0.3 0.2M1.4 2.2l0.3 0.4M14.8 37.2l0.0 0.0M20.3 26.2l0.1 0.5M22.0 38.3l0.4 0.5M11.8 2.0l-0.1 0.4M12.0 36.6l-0.0 0.6" stroke="#7a6aca" stroke-width="1.5"/>
<path d="M38.0 27.8l0.2 0.1M43.5 23.1l-0.6 0.2M15.5 4.6l-0.1 0.4M7.2 34.6l-0.0 0.1M26.7 40.4l-0.1 0.0M38.7 22.9l0.1 0.2M44.3 24.6l0.5 0.1M42.3 7.6l0.0 0.0M26.4 11.8l-0.0 0.0M36.8 25.6l-0.1 0.2M35.4 18.0l0.5 0.2M51.3 37.5l0.1 0.5M30.3 36.6l-0.5 0.2M16.9 39.7l0.5 0.2M57.7 27.2l0.2 0.2M51.2 42.0l0.6 0.4M11.0 14.9l0.2 0.3M57.9 1.2l0.4 0.1M30.6 39.5l0.2 0.1M49.2 43.1l0.1 0.4M28.4 4.9l-0.0 0.0M39.4 11.1l0.0 0.2M1.1 38.7l0.4 0.2" stroke="#6e5ec2" stroke-width="1.5"/>
<path d="M36.3 15.9l0.4 0.4M30.0 13.3l-0.1 0.1M45.2 37.3l0.0 0.0M45.2 0.8l-0.6 0.2M26.0 23.8l0.0 0.2M16.7 22.8l-0.6 0.2M20.6 27.2l0.0 0.1M4.5 16.0l0.3 0.3M13.8 40.9l0.1 0.0M18.3 33.1l-0.3 0.3M31.5 12.6l0.3 0.5M32.2 19.8l-0.5 0.4M40.4 21.4l0.3 0.2M40.6 29.1l-0.3 0.4M33.1 30.9l0.1 0.1M48.1 29.2l-0.5 0.2M44.1 15.1l0.1 0.1M55.2 35.1l0.2 0.0M5.8 40.5l0.0 0.0M22.8 43.4l-0.1 0.3M28.2 10.2l-0.1 0.1" stroke="#6e5ec2" stroke-width="2.0"/>
<path d="M52.5 21.0l-0.2 0.1M46.8 3.5l-0.3 0.1M30.2 23.4l0.0 0.0M20.1 11.3l-0.0 0.2M18.4 7.7l0.2 0.3M21.8 16.8l0.7 0.0M40.9 23.6l0.1 0.1M40.7 10.8l-0.1 0.1M29.6 21.9l0.4 0.1M10.6 41.6l0.1 0.4M57.6 21.6l-0.5 0.1M57.6 7.1l-0.0 0.0M11.0 25.5l0.1 0.5M52.5 1.2l-0.1 0.1M36.8 11.5l-0.5 0.1M28.9 33.3l0.3 0.2M24.6 26.9l0.1 0.0M13.9 13.2l0.0 0.1" stroke="#7a6aca" stroke-width="2.0"/>
<path d="M7.6 36.8l-0.0 0.3M24.9 17.1l-0.6 0.1M36.3 20.1l0.1 0.2M20.1 34.8l0.7 0.2M35.9 7.8l0.0 0.2M32.5 5.2l-0.5 0.5M39.0 4.3l0.0 0.5M52.8 30.6l0.4 0.4M36.8 31.3l-0.4 0.2M15.7 8.1l0.3 0.4M28.3 35.6l0.1 0.0M49.2 30.2l-0.2 0.2M34.7 30.2l-0.0 0.1M15.2 25.5l-0.0 0.1M16.8 15.6l0.1 0.7M35.1 4.8l0.1 0.6M21.0 4.0l-0.5 0.0" stroke="#6052ba" stroke-width="2.0"/>
<path d="M6.1 21.5l-0.1 0.1M33.8 27.7l0.1 0.0M31.7 18.6l-0.0 0.2" stroke="#6e5ec2" stroke-width="1.0"/>
<path d="M17.3 43.5l0.4 0.5M28.1 11.6l0.0 0.1M57.2 0.5l-0.2 0.4" stroke="#7a6aca" stroke-width="1.0"/>
<path d="M14.5 15.9l0.6 0.2M27.6 6.3l-0.2 0.2" stroke="#6052ba" stroke-width="1.0"/>
</g></g>
<g clip-path="url(#c19)"><g filter="url(#soft)" transform="translate(241.20 848.00)" fill="none" stroke-linecap="round">
<rect x="-2" y="-2" width="62.3" height="47.9" fill="#e9e0d1"/>
<path d="M14.4 25.5h0M56.7 28.9h0M28.1 13.6h0M8.0 43.8h0M44.0 11.0h0M34.7 31.1h0M52.9 12.3h0M18.3 8.2h0M34.4 40.5h0M42.8 6.1h0M21.7 3.4h0M9.4 21.6h0M8.9 11.9h0M14.2 18.5h0M49.9 10.3h0M35.7 17.6h0M17.0 13.1h0M45.4 37.0h0M42.7 39.0h0M42.5 13.1h0M13.6 24.9h0M35.5 34.5h0M52.8 35.0h0M56.9 29.6h0M39.8 35.1h0M29.0 35.0h0M51.0 22.5h0M20.0 16.7h0M35.7 24.9h0M28.9 17.1h0M43.0 30.1h0M54.6 42.2h0M0.8 17.6h0M43.3 23.5h0M36.0 11.3h0M22.5 37.8h0M39.1 38.6h0M53.5 40.4h0M50.4 40.2h0M52.3 40.8h0M24.1 17.9h0M26.0 33.7h0M57.0 29.5h0M25.0 3.6h0M7.7 2.9h0M8.7 0.0h0M23.2 13.4h0M55.3 6.8h0M5.4 39.4h0M53.7 22.5h0M31.4 14.8h0M23.1 12.4h0M5.9 42.9h0M50.6 37.9h0M8.6 28.0h0M3.5 31.4h0M4.1 26.7h0M9.3 43.0h0M53.2 18.7h0M53.6 34.3h0M10.4 37.7h0M51.2 11.2h0M39.0 13.4h0M1.5 20.1h0M7.9 35.8h0M40.8 10.5h0M23.5 2.9h0M20.8 26.4h0M48.4 42.6h0M36.3 19.5h0M51.1 25.6h0M47.3 15.6h0M51.8 8.5h0M23.0 10.0h0M21.9 27.1h0M54.5 1.7h0M33.9 9.6h0M47.8 32.6h0M56.5 42.4h0M37.8 11.4h0M41.9 20.0h0M15.5 4.7h0M52.1 19.1h0M8.2 9.7h0M7.9 2.5h0M43.6 20.6h0M17.6 14.3h0M16.0 22.4h0M33.1 3.1h0M24.3 38.6h0M41.6 22.5h0M23.3 14.2h0M8.6 13.3h0M6.9 1.5h0M7.0 43.5h0M55.8 1.9h0M20.6 5.0h0M20.4 26.7h0M14.0 19.6h0M10.3 22.6h0M8.7 14.0h0M24.1 12.1h0M28.6 34.2h0M25.3 37.2h0M9.8 31.2h0M48.3 41.8h0M40.2 13.8h0M40.3 27.6h0M23.3 26.4h0M2.7 0.4h0M10.7 40.3h0M1.2 11.3h0M44.6 38.7h0M24.3 22.3h0M52.9 12.6h0M6.1 12.1h0M42.2 14.4h0M33.5 3.2h0M48.2 42.2h0M52.5 6.8h0M56.1 39.0h0M13.1 18.4h0M9.3 16.2h0M44.7 4.1h0M38.4 34.8h0M3.1 7.1h0M45.6 35.9h0M16.7 38.9h0M37.5 0.6h0M42.7 7.9h0M19.6 35.9h0M0.9 36.5h0M20.8 26.6h0M17.1 25.3h0M13.2 25.7h0M25.8 26.9h0M0.1 32.2h0M13.1 36.1h0M27.7 29.4h0M25.3 5.5h0M57.0 31.6h0M56.7 29.5h0M24.2 17.4h0M46.1 36.7h0M45.3 9.3h0M15.1 17.0h0M2.3 8.6h0M21.4 6.8h0M13.3 24.3h0M40.4 14.4h0M49.4 0.9h0M3.0 8.2h0M45.5 9.8h0M43.3 13.5h0M46.7 21.3h0M11.4 40.1h0M58.3 40.2h0M25.9 25.6h0M15.8 36.8h0M22.4 24.6h0M34.3 41.0h0M25.9 18.1h0M54.0 5.6h0M3.0 13.8h0M2.2 40.5h0M28.9 36.6h0M3.2 20.0h0M46.8 0.2h0M45.0 41.8h0M49.2 6.4h0M28.6 22.2h0M28.1 36.7h0M18.3 8.3h0M54.6 24.6h0M38.7 23.9h0M35.5 5.1h0M6.6 6.4h0M26.2 2.7h0M49.9 6.2h0M49.0 30.1h0M10.6 12.1h0M36.9 43.4h0M21.7 10.5h0M11.1 35.0h0M8.2 2.8h0M38.9 32.6h0M11.2 22.2h0M0.1 17.3h0M1.8 25.5h0M24.0 23.9h0M52.9 18.3h0M13.4 2.9h0M31.7 27.2h0M45.3 18.7h0M22.7 24.8h0M42.5 13.1h0M16.8 37.6h0M9.9 7.9h0M26.0 23.3h0M17.1 35.5h0M9.6 21.5h0M57.6 8.7h0M2.3 34.8h0M43.7 5.8h0M5.4 4.2h0M30.1 6.0h0M46.1 11.3h0M36.5 33.8h0M14.2 0.8h0M5.8 17.0h0M49.4 22.6h0M20.0 22.5h0M38.1 10.6h0M49.1 38.1h0M33.6 8.1h0M47.3 9.9h0M34.3 31.3h0M16.3 4.4h0M23.4 4.3h0M53.8 34.4h0M31.6 10.7h0M20.2 38.4h0M49.4 38.7h0M7.3 14.4h0M40.9 35.2h0M9.5 29.1h0M53.1 22.1h0M52.7 4.0h0M40.4 40.3h0M43.4 42.6h0M35.5 21.5h0M42.9 19.3h0M6.8 21.2h0M22.5 27.2h0M50.8 33.7h0M39.6 14.4h0M53.8 4.6h0M17.9 3.3h0M21.9 21.0h0M58.1 32.4h0M16.1 15.1h0M24.5 39.5h0M26.6 11.0h0M22.5 28.3h0M54.8 14.5h0M49.8 12.2h0M42.2 16.4h0M33.9 35.4h0M3.6 1.9h0M9.8 27.8h0M39.0 40.2h0M31.7 32.2h0M53.9 2.5h0M28.0 23.4h0M42.0 15.2h0M49.7 17.6h0M4.4 1.9h0M23.1 3.5h0M42.1 38.8h0M0.3 27.3h0" stroke="#a4947c" stroke-width="0.75" opacity="0.55"/>
<path d="M57.4 15.8l0.2 0.3M23.5 28.6l-0.5 0.0M10.9 23.2l-0.5 0.0M7.7 36.8l-0.1 0.1M1.7 26.2l0.6 0.2M44.9 32.4l0.3 0.1M29.2 29.2l-0.1 0.3M39.6 40.9l0.6 0.1M44.5 8.2l0.4 0.4M11.0 34.0l-0.0 0.4M21.2 31.7l-0.7 0.0M35.6 8.5l0.6 0.1M13.5 13.3l-0.1 0.0M3.2 23.0l0.1 0.2M15.8 24.0l-0.0 0.0M9.4 42.1l-0.2 0.0M16.8 16.5l-0.0 0.2M51.1 17.4l0.2 0.2M33.4 37.2l0.0 0.1M55.1 17.2l-0.2 0.1" stroke="#7a6aca" stroke-width="1.5"/>
<path d="M26.6 38.9l-0.1 0.2M42.3 18.2l0.0 0.0M24.3 10.6l-0.1 0.5M3.5 2.5l0.4 0.1M45.1 24.4l-0.2 0.5M29.0 28.7l0.5 0.1M17.8 25.2l-0.3 0.3M24.0 36.7l0.1 0.5M53.0 41.1l-0.2 0.1M3.8 29.9l-0.2 0.0M25.5 31.0l-0.1 0.5M52.5 28.0l-0.1 0.0M3.1 41.5l-0.1 0.4M29.1 0.1l0.1 0.3M34.2 32.9l-0.2 0.4M37.3 37.8l-0.2 0.3M3.7 41.1l-0.1 0.1M32.5 39.9l0.4 0.0M31.0 38.8l-0.0 0.0M16.3 0.1l0.3 0.2M6.7 3.7l0.2 0.0" stroke="#6052ba" stroke-width="1.5"/>
<path d="M47.1 12.2l0.1 0.2M37.2 36.9l-0.0 0.0M0.7 30.4l0.0 0.6M25.7 28.8l-0.1 0.1M21.7 32.6l-0.1 0.5M29.6 33.3l-0.6 0.0M12.1 7.4l-0.4 0.1M44.1 4.0l0.0 0.0M37.4 28.8l0.1 0.6M8.1 30.8l-0.0 0.0M27.3 23.9l-0.5 0.3M53.2 27.0l0.2 0.6M30.3 43.5l-0.3 0.1M3.2 7.6l-0.3 0.3M51.0 33.8l0.2 0.4M38.9 38.1l-0.6 0.0M20.3 26.3l-0.3 0.2M37.7 23.1l0.0 0.0M44.9 42.4l0.1 0.1M12.2 42.7l0.0 0.0M26.8 38.2l-0.0 0.1M54.2 15.3l-0.2 0.3M13.4 35.6l-0.1 0.1" stroke="#6e5ec2" stroke-width="1.5"/>
<path d="M17.7 32.2l0.2 0.6M12.8 37.3l0.0 0.3M49.6 27.5l0.1 0.2M46.3 39.6l0.5 0.2M22.3 15.7l0.1 0.0M17.7 39.6l0.4 0.2M38.1 35.7l-0.0 0.6M10.4 43.3l-0.1 0.0" stroke="#6052ba" stroke-width="2.0"/>
<path d="M58.0 28.8l-0.2 0.0M50.4 23.1l0.1 0.1M8.8 9.1l-0.1 0.0M21.3 43.5l-0.2 0.4M2.9 5.1l0.0 0.1M55.6 13.7l-0.1 0.3M50.0 41.9l-0.2 0.1M8.8 38.0l-0.3 0.6M17.6 34.3l-0.2 0.3" stroke="#6e5ec2" stroke-width="2.0"/>
<path d="M50.6 34.6l-0.1 0.3M50.8 7.8l0.4 0.5M46.1 36.6l0.4 0.1M37.8 25.0l0.0 0.4M8.1 22.3l-0.3 0.4M29.8 36.8l-0.2 0.3M4.0 40.3l-0.5 0.5M20.6 38.7l0.1 0.3M1.5 33.5l-0.3 0.1M44.5 30.5l-0.2 0.7M5.9 2.7l0.6 0.2M55.8 29.4l-0.1 0.1" stroke="#7a6aca" stroke-width="2.0"/>
<path d="M55.2 10.1l-0.1 0.1M57.8 3.7l0.2 0.1M28.4 32.3l0.2 0.4M32.9 39.9l0.0 0.0M52.8 6.4l0.2 0.2M3.9 32.7l-0.6 0.3" stroke="#7a6aca" stroke-width="1.0"/>
<path d="M43.3 37.9l0.1 0.1" stroke="#6e5ec2" stroke-width="1.0"/>
</g></g>
<text x="466.20" y="790.20" font-size="11.45" text-anchor="middle">DMEM/F12</text>
<text x="525.70" y="790.20" font-size="11.45" text-anchor="middle">siCon</text>
<text x="522.80" y="800.70" font-size="11.45" text-anchor="middle">CAF-CM</text>
<text x="585.50" y="790.20" font-size="11.45" text-anchor="middle">siATG5</text>
<text x="583.30" y="800.70" font-size="11.45" text-anchor="middle">CAF-CM</text>
<text x="405.30" y="828.80" font-size="11.45" text-anchor="start">A549</text>
<text x="405.30" y="873.50" font-size="11.45" text-anchor="start">H661</text>
<g clip-path="url(#c20)"><g filter="url(#soft)" transform="translate(435.20 803.40)" fill="none" stroke-linecap="round">
<rect x="-2" y="-2" width="62.4" height="47.8" fill="#ddd4ca"/>
<rect x="-2" y="-2" width="62.4" height="47.8" fill="url(#iglow)"/>
<path d="M2.7 8.9h0M41.4 6.3h0M50.2 11.7h0M0.7 19.3h0M9.8 0.7h0M16.2 20.1h0M11.3 37.4h0M17.5 30.7h0M20.5 4.4h0M25.4 30.0h0M28.4 28.1h0M7.1 6.1h0M7.6 21.5h0M50.3 16.8h0M47.9 4.9h0M13.2 29.5h0M45.9 34.8h0M8.5 23.7h0M13.9 32.8h0M33.9 30.2h0M45.8 43.2h0M27.2 43.6h0M16.9 38.6h0M6.2 31.4h0M52.4 24.3h0M21.1 36.2h0M47.6 31.3h0M20.2 22.6h0M0.1 23.2h0M18.0 29.6h0M1.1 19.6h0M6.9 15.1h0M57.2 33.3h0M37.7 15.9h0M5.8 1.4h0M31.9 43.1h0M43.0 9.3h0M56.8 9.9h0M2.7 22.3h0M26.2 3.0h0M53.7 12.8h0M22.9 1.7h0M0.8 41.6h0M56.4 27.3h0M2.9 6.3h0M8.0 0.5h0M46.5 19.9h0M1.7 11.6h0M26.8 22.7h0M30.3 5.9h0M46.7 4.3h0M25.8 31.9h0M6.2 0.9h0M57.7 30.4h0M11.2 28.9h0M5.9 36.2h0M2.3 4.8h0M13.0 27.4h0M50.8 10.7h0M45.2 18.1h0M26.8 29.6h0M14.0 31.0h0M20.1 6.9h0M37.5 22.5h0M2.4 41.4h0M44.9 19.6h0M46.4 33.5h0M1.9 2.6h0M28.6 18.5h0M39.5 7.1h0M8.1 16.6h0M57.7 0.8h0M55.7 26.0h0M20.7 4.3h0M25.7 19.0h0M3.2 17.6h0M54.0 41.8h0M41.1 17.1h0M50.4 1.8h0M41.9 30.9h0M8.6 16.0h0M24.3 34.7h0M34.5 10.5h0M47.8 21.3h0M45.6 15.6h0M19.8 14.6h0M9.5 33.6h0M38.3 17.2h0M35.2 30.1h0M56.1 5.9h0M5.6 38.8h0M55.1 31.7h0M31.5 42.0h0M51.7 4.1h0M40.5 35.3h0M16.1 35.5h0M53.2 21.7h0M24.5 25.6h0M47.2 28.5h0M57.7 21.4h0M18.9 6.5h0M41.9 24.3h0M35.4 43.6h0M50.1 33.0h0M36.4 11.7h0M29.7 14.2h0M27.9 43.3h0M33.0 35.4h0M35.3 19.1h0M51.1 28.2h0M20.6 18.8h0M39.2 38.7h0M4.1 3.6h0M37.3 12.5h0M8.9 38.9h0M35.1 7.3h0M54.1 19.2h0M1.4 1.4h0M9.4 38.3h0M38.4 33.1h0M38.6 32.1h0M19.1 17.7h0M26.0 31.8h0M21.2 32.7h0M13.0 20.1h0M31.5 3.9h0M5.4 27.9h0M9.8 20.0h0M52.8 27.3h0M38.3 26.7h0M15.2 7.6h0M15.2 7.5h0M11.3 22.4h0M32.7 32.2h0M32.0 5.1h0M23.2 16.0h0M8.6 42.2h0M12.2 31.5h0M10.7 21.2h0M12.5 40.4h0M40.8 36.3h0M58.2 13.4h0M25.4 23.5h0M41.6 37.9h0M31.1 17.6h0M50.6 9.4h0M30.2 6.2h0M35.1 18.8h0M1.5 33.9h0M55.6 20.7h0M1.8 41.6h0M19.5 27.9h0M2.4 26.2h0M46.9 12.7h0M22.1 41.9h0M4.7 21.9h0M1.1 16.7h0M46.9 4.1h0M34.6 26.4h0M48.3 35.0h0M42.2 29.7h0M52.9 31.9h0M15.1 1.3h0M39.6 22.0h0M54.8 6.3h0M17.8 29.6h0M22.4 16.9h0M26.3 15.6h0M50.4 42.4h0M16.6 12.3h0M3.1 20.2h0M58.3 17.8h0M11.2 6.8h0M20.3 37.1h0M40.9 36.1h0M50.7 12.3h0M41.1 41.2h0M48.2 34.2h0M11.8 13.4h0M29.8 6.9h0M40.8 35.9h0M27.2 1.3h0M29.8 38.5h0M5.7 30.0h0M22.9 4.8h0M53.0 20.0h0M50.1 3.4h0M11.3 15.0h0M40.9 1.4h0M41.6 4.4h0M2.4 2.9h0M31.4 37.7h0M58.3 5.8h0M22.5 25.4h0M38.9 20.4h0M11.9 5.2h0M10.8 40.9h0M46.8 36.9h0M4.3 17.4h0M39.3 36.9h0M25.6 26.6h0M35.0 30.9h0M57.9 29.7h0M51.1 20.9h0M37.7 32.9h0M6.7 6.3h0M38.9 16.1h0M5.1 15.6h0M24.1 15.5h0M17.2 18.5h0M21.9 9.7h0M24.0 20.0h0M47.1 22.2h0M23.2 20.4h0M15.3 18.9h0M15.8 24.3h0M25.7 37.5h0M5.6 42.1h0M52.6 32.4h0M1.8 31.1h0M17.0 34.6h0M16.1 24.3h0M46.3 16.8h0M15.6 2.5h0M35.6 11.3h0M17.1 28.7h0M49.0 13.8h0M29.0 20.4h0M54.9 0.4h0M23.9 21.4h0M12.5 33.3h0M45.1 22.6h0M21.4 17.5h0M10.1 34.5h0M15.1 41.8h0M8.7 30.4h0M13.4 21.7h0M42.4 43.5h0M5.2 13.0h0M7.0 16.3h0M33.8 33.8h0M51.4 36.2h0M26.3 36.8h0M56.5 42.5h0M26.4 5.2h0M41.2 7.7h0M7.6 10.7h0M28.3 36.2h0M5.5 22.7h0M43.8 32.2h0M21.6 17.3h0M7.6 6.8h0M27.7 16.7h0M53.5 33.6h0M24.0 16.2h0M21.0 35.1h0M39.3 8.1h0M20.1 14.3h0M27.0 34.1h0M28.9 15.0h0M18.6 15.1h0M35.2 26.5h0M38.7 7.6h0M44.2 37.7h0M23.3 2.4h0M52.7 28.8h0M15.6 31.6h0M21.3 2.9h0M41.1 24.7h0M3.6 0.8h0M22.1 12.4h0M26.8 41.6h0M3.1 10.8h0M4.9 3.0h0M35.1 38.5h0M30.4 26.5h0M36.1 4.1h0M19.1 17.6h0M38.9 3.6h0M17.0 35.4h0M45.6 14.1h0M20.7 29.5h0M44.8 26.2h0M13.3 32.4h0M42.3 17.4h0M44.5 32.1h0M6.0 39.5h0M27.4 10.0h0M33.7 4.1h0M27.5 9.3h0M51.8 0.7h0M48.4 41.1h0M31.7 33.8h0M37.3 30.8h0M12.4 25.3h0M31.1 28.3h0M20.4 14.5h0M54.8 23.1h0M47.9 42.3h0M54.0 35.1h0M26.4 9.0h0M12.9 11.6h0M17.8 21.6h0M11.3 30.8h0M15.6 7.4h0M10.6 0.6h0M51.2 22.6h0M54.2 40.4h0M16.4 30.1h0M42.9 24.4h0M6.3 40.9h0M4.3 32.4h0M23.3 16.4h0M2.9 33.2h0M13.8 43.3h0M52.3 31.5h0M26.0 35.9h0M39.4 31.1h0M51.6 30.1h0M37.5 13.0h0M13.2 28.7h0M47.1 30.8h0M52.3 29.3h0M46.0 1.3h0M8.7 10.7h0M11.7 3.2h0M11.8 8.6h0M4.1 12.6h0M37.5 32.8h0M8.3 24.6h0M21.4 25.9h0M12.2 39.0h0M25.4 13.8h0M30.4 14.1h0M50.5 17.9h0M11.2 21.7h0M8.8 43.3h0M2.7 33.6h0M14.7 18.3h0M40.7 7.0h0M35.0 20.2h0M52.1 27.7h0M3.3 17.0h0M6.2 30.5h0M35.5 38.1h0M35.4 13.1h0M7.5 13.6h0M19.7 18.2h0M15.5 11.3h0M3.9 18.3h0M35.3 40.3h0M51.9 9.7h0M17.5 7.7h0M57.4 26.7h0M13.8 1.6h0M51.0 28.5h0M6.8 4.3h0M30.9 2.4h0M44.0 20.7h0M34.8 12.5h0M32.9 1.5h0M35.3 18.0h0M45.8 23.1h0M57.5 25.3h0M46.3 33.9h0M54.2 2.3h0M22.9 40.6h0M14.0 5.1h0M29.3 30.3h0M7.0 4.2h0M12.4 31.6h0M9.2 12.4h0M14.2 7.2h0M45.2 30.7h0M48.7 36.3h0M55.9 22.5h0M1.4 37.0h0M3.8 30.6h0M14.9 31.2h0M33.4 11.6h0M1.2 38.4h0M49.4 39.5h0M49.7 38.5h0M41.7 22.2h0M23.5 20.1h0M4.9 0.2h0M17.2 0.4h0M22.2 18.8h0M10.0 31.9h0M16.1 38.8h0M28.1 27.4h0M10.0 9.2h0M30.8 34.1h0M52.0 6.8h0M57.5 17.4h0M32.9 18.7h0M33.6 31.7h0M2.8 15.7h0M34.8 4.3h0M29.2 23.4h0M24.5 24.9h0M25.4 41.7h0M57.3 6.6h0M13.8 27.5h0M38.8 11.9h0M58.2 1.4h0M47.2 7.5h0M6.1 36.5h0M15.9 14.6h0M16.6 42.3h0M55.3 25.7h0M46.1 36.7h0M50.8 26.5h0M35.3 3.2h0M24.5 26.5h0M14.7 17.7h0M39.8 21.7h0M37.5 16.5h0M43.9 34.7h0M2.1 13.7h0" stroke="#8f8478" stroke-width="0.7" opacity="0.6"/>
<path d="M21.8 24.5l0.4 0.5M0.0 40.3l0.4 0.0M23.8 15.0l-0.0 0.3M20.3 21.7l-0.0 0.5M1.2 9.5l0.3 0.1M17.2 19.9l0.1 0.1M17.0 9.7l-0.2 0.2M14.2 4.6l-0.0 0.3M51.8 16.0l-0.1 0.6M57.4 5.6l0.1 0.2M23.0 11.3l0.5 0.1M39.6 16.4l0.3 0.1M4.4 20.2l-0.0 0.5M7.7 23.3l-0.1 0.1M36.6 18.6l-0.1 0.1M22.4 13.1l-0.6 0.0M21.5 18.9l0.4 0.0M11.0 30.3l0.1 0.0M56.4 37.4l0.2 0.0M15.6 24.5l-0.1 0.4M21.9 28.3l0.1 0.2M23.5 22.5l-0.0 0.0" stroke="#463cb8" stroke-width="1.5"/>
<path d="M28.9 3.1l-0.4 0.0M4.7 7.4l-0.1 0.1M31.1 7.8l0.6 0.3M9.9 11.4l0.7 0.1M13.8 15.2l-0.1 0.0M18.5 15.3l0.1 0.5M11.4 22.3l-0.0 0.4M29.8 9.8l0.3 0.6M24.5 16.4l0.0 0.0M16.1 23.5l0.3 0.3M47.6 20.9l-0.1 0.4M6.1 15.7l-0.6 0.1M56.1 9.8l0.5 0.2M13.2 6.7l-0.1 0.7M21.1 13.5l0.6 0.1M50.3 21.6l-0.1 0.1M35.1 18.0l-0.0 0.0M6.6 27.3l-0.1 0.1" stroke="#463cb8" stroke-width="1.0"/>
<path d="M22.7 0.2l-0.3 0.5M26.8 25.9l0.7 0.1M23.4 8.1l0.6 0.1M27.7 39.3l0.3 0.1M19.5 20.5l-0.3 0.1M27.0 23.9l-0.1 0.2M35.8 0.9l-0.4 0.3M25.6 18.5l0.0 0.0M26.7 37.2l0.0 0.2M12.7 20.8l0.0 0.1M50.4 38.2l0.2 0.1M17.5 10.3l-0.3 0.3M35.4 19.3l0.0 0.0M18.9 15.7l-0.2 0.5M39.0 7.7l0.2 0.2M11.3 26.7l0.4 0.5M17.1 14.5l0.1 0.2M10.1 1.5l-0.4 0.1M29.8 14.9l-0.3 0.1M31.8 5.6l-0.1 0.1M23.6 21.2l0.4 0.1M6.2 24.9l0.6 0.3" stroke="#5048c0" stroke-width="1.0"/>
<path d="M36.8 5.9l0.3 0.0M30.1 39.5l0.1 0.1M24.2 16.3l-0.3 0.2M5.6 41.9l-0.2 0.1M20.8 22.7l0.2 0.0M44.1 10.7l-0.4 0.3M41.4 30.5l0.4 0.1M13.4 22.2l0.5 0.0M7.7 20.3l0.6 0.1M9.7 28.5l0.1 0.2M37.9 4.2l-0.1 0.3M49.2 36.4l-0.2 0.4M52.9 24.1l-0.4 0.5M17.5 26.7l-0.3 0.5M13.4 2.7l-0.1 0.5M44.3 35.0l-0.2 0.4M17.7 24.1l0.3 0.2M23.4 25.3l0.6 0.1M21.0 13.5l-0.1 0.2M6.0 41.9l-0.2 0.5" stroke="#5048c0" stroke-width="1.5"/>
<path d="M24.8 41.5l0.1 0.5M52.6 30.3l0.1 0.6M14.2 28.3l-0.2 0.5M19.6 6.9l-0.5 0.0M55.0 6.9l0.4 0.0M13.6 18.9l-0.0 0.3M34.3 16.3l-0.1 0.4M11.0 16.1l0.1 0.2M8.6 18.7l0.1 0.1M16.7 15.8l0.3 0.1M54.2 36.9l0.3 0.5M1.4 19.2l-0.0 0.0M12.7 27.7l-0.7 0.1M36.3 40.2l-0.3 0.4M52.1 29.4l0.1 0.5M23.7 22.1l0.2 0.0M22.4 13.3l0.0 0.0M51.1 3.5l-0.0 0.0M13.9 15.2l0.0 0.5M17.7 19.5l0.0 0.0M21.4 16.7l-0.2 0.6M20.5 21.7l0.1 0.4M10.3 36.6l-0.5 0.0M17.2 25.2l-0.0 0.0" stroke="#3a32ae" stroke-width="1.0"/>
<path d="M49.7 5.3l-0.0 0.0M19.1 6.0l0.3 0.1M8.5 29.9l-0.0 0.4M44.1 17.8l0.3 0.0M30.6 35.7l-0.1 0.1M54.3 2.0l-0.0 0.1M9.2 2.5l-0.1 0.0M15.7 28.0l0.3 0.2M16.6 34.3l0.0 0.0M12.4 38.4l0.4 0.2M42.6 32.0l-0.4 0.2M30.5 18.7l-0.2 0.2M19.0 20.6l0.1 0.3M50.0 27.3l0.0 0.0M12.9 19.6l0.3 0.1M33.6 3.9l0.0 0.3M11.2 21.4l0.0 0.0M11.7 30.3l-0.3 0.5M15.7 17.7l-0.3 0.2" stroke="#3a32ae" stroke-width="1.5"/>
</g></g>
<g clip-path="url(#c21)"><g filter="url(#soft)" transform="translate(495.50 803.40)" fill="none" stroke-linecap="round">
<rect x="-2" y="-2" width="62.3" height="47.8" fill="#d9d5e2"/>
<rect x="-2" y="-2" width="62.3" height="47.8" fill="url(#iglow)"/>
<path d="M3.9 14.3h0M0.2 12.4h0M43.9 30.4h0M27.4 33.0h0M26.3 37.9h0M35.6 6.1h0M33.0 20.9h0M31.2 9.4h0M40.5 8.3h0M17.5 10.5h0M15.6 7.9h0M43.9 29.2h0M1.8 25.2h0M4.6 28.2h0M23.7 23.6h0M44.4 34.1h0M39.8 12.9h0M5.5 25.6h0M31.2 39.1h0M51.4 8.2h0M24.0 31.1h0M24.4 42.3h0M0.8 18.1h0M49.1 41.5h0M29.5 11.0h0M34.5 14.0h0M40.6 15.0h0M11.2 25.7h0M45.0 21.5h0M34.6 25.0h0M30.6 0.3h0M21.7 38.3h0M29.8 34.3h0M55.7 1.6h0M42.4 21.4h0M0.1 9.6h0M28.8 20.2h0M50.8 15.6h0M45.9 18.0h0M55.0 42.8h0M9.4 35.8h0M6.6 14.7h0M51.6 19.0h0M1.2 0.2h0M57.5 37.6h0M56.2 14.9h0M17.8 30.0h0M2.9 26.2h0M9.0 8.2h0M44.1 10.4h0M57.7 29.3h0M35.0 28.2h0M13.9 42.0h0M2.3 39.8h0M31.1 26.4h0M31.7 17.0h0M9.7 15.4h0M37.3 13.6h0M46.4 30.4h0M1.7 4.1h0M49.4 23.4h0M7.8 23.2h0M32.0 31.0h0M27.8 40.8h0M0.9 38.9h0M41.2 16.5h0M6.0 6.3h0M41.0 29.2h0M30.9 3.6h0M5.9 21.3h0M6.3 12.9h0M1.5 9.9h0M32.2 35.2h0M0.8 13.1h0M19.3 9.6h0M23.8 0.0h0M11.0 11.6h0M49.9 13.1h0M40.2 33.5h0M40.4 19.0h0M18.3 23.0h0M21.0 13.4h0M21.7 2.5h0M35.2 17.5h0M3.5 14.8h0M3.7 21.9h0M32.1 42.5h0M8.8 25.1h0M46.1 10.6h0M26.4 25.5h0M6.5 19.6h0M52.7 39.9h0M53.0 0.6h0M39.0 32.3h0M18.3 10.4h0M39.5 15.2h0M53.3 13.9h0M50.5 30.6h0M22.5 31.3h0M52.5 31.6h0M16.4 5.1h0M34.6 33.3h0M35.7 10.3h0M38.1 31.0h0M22.8 30.4h0M39.2 42.1h0M1.1 41.7h0M42.3 5.9h0M9.6 16.3h0M35.8 25.5h0M24.3 37.5h0M30.6 26.1h0M40.9 36.7h0M9.3 3.6h0M27.4 36.4h0M52.0 23.6h0M8.7 28.0h0M49.5 32.9h0M10.3 2.1h0M27.0 10.4h0M18.8 32.8h0M44.8 25.0h0M53.4 31.0h0M9.2 17.5h0M17.5 43.2h0M24.7 11.9h0M49.7 41.8h0M21.2 12.7h0M18.7 1.9h0M37.7 1.0h0M58.0 35.8h0M22.5 25.7h0M48.6 5.1h0M39.6 37.5h0M30.0 38.3h0M14.4 0.1h0M13.5 43.6h0M19.8 14.3h0M4.1 17.2h0M14.4 21.7h0M1.9 4.8h0M1.0 40.8h0M45.2 9.4h0M17.3 10.1h0M28.9 22.4h0M42.2 27.1h0M2.3 25.7h0M1.8 18.8h0M3.3 15.9h0M8.8 30.7h0M23.8 33.8h0M4.6 10.8h0M28.8 20.7h0M6.4 27.5h0M32.3 36.9h0M56.8 33.6h0M15.8 28.2h0M27.4 1.5h0M35.4 11.6h0M13.4 27.7h0M13.2 40.8h0M52.6 7.8h0M57.0 7.9h0M36.8 39.2h0M19.2 34.4h0M28.4 9.5h0M47.3 21.9h0M45.1 39.5h0M24.2 43.4h0M43.3 31.3h0M32.4 34.4h0M7.3 6.2h0M47.3 39.0h0M39.8 38.1h0M53.0 39.8h0M53.1 17.4h0M2.6 16.2h0M49.6 28.3h0M8.3 10.4h0M23.4 2.1h0M41.4 21.7h0M54.7 33.3h0M25.6 7.6h0M34.0 43.5h0M44.4 7.8h0M7.7 6.8h0M30.2 3.2h0M53.0 21.7h0M31.4 28.7h0M24.0 26.1h0M2.9 41.1h0M57.7 41.6h0M26.6 3.4h0M6.3 24.2h0M24.1 23.3h0M46.6 41.4h0M39.4 33.1h0M35.0 24.2h0M21.5 13.1h0M56.4 33.4h0M38.4 2.1h0M46.5 14.2h0M21.0 18.1h0M44.2 9.1h0M32.7 3.3h0M43.7 9.8h0M46.3 11.6h0M29.4 0.2h0M14.8 2.1h0M11.8 18.2h0M1.4 20.1h0M7.1 15.1h0M3.1 19.7h0M22.8 18.6h0M33.5 5.2h0M52.7 9.4h0M0.5 31.8h0M48.1 19.1h0M57.4 25.5h0M13.9 1.8h0M41.7 31.1h0M53.8 11.7h0M58.3 38.2h0M28.1 15.5h0M11.5 27.9h0M29.8 37.0h0M10.3 24.0h0M30.7 2.3h0M1.4 29.6h0M52.2 21.2h0M7.2 41.7h0M20.0 15.1h0M15.2 13.4h0M38.2 20.9h0M38.4 27.9h0M40.5 12.5h0M48.0 0.9h0M18.7 24.5h0M53.4 35.1h0M56.8 1.2h0M20.6 34.4h0M32.6 26.9h0M58.0 33.8h0M11.6 2.6h0M31.2 36.8h0M19.6 37.8h0M11.9 2.1h0M14.4 3.4h0M40.7 30.4h0M25.6 37.4h0M41.1 1.0h0M23.8 7.6h0M14.2 11.3h0M17.0 30.5h0M57.8 11.4h0M32.4 24.0h0M27.7 20.4h0M21.3 24.1h0M48.8 5.6h0M1.0 11.4h0M38.2 4.7h0M30.9 18.4h0M9.0 31.5h0M46.3 40.3h0M32.0 28.1h0M30.4 43.3h0M19.5 14.6h0M31.3 25.0h0M3.2 12.9h0M41.9 35.4h0M24.7 8.4h0M23.5 38.1h0M37.4 14.6h0M19.0 24.4h0M25.8 1.4h0M52.2 3.8h0M42.1 14.0h0M20.2 15.9h0M1.6 5.9h0M20.2 6.2h0M5.0 0.6h0M18.1 31.2h0M2.8 35.2h0M44.9 7.1h0M30.7 10.0h0M56.2 0.2h0M27.5 5.4h0M46.3 8.6h0M3.2 5.6h0M56.8 0.1h0M37.9 26.4h0M16.8 40.2h0M33.9 24.2h0M1.8 22.5h0M11.4 20.1h0M3.8 42.9h0M46.7 13.3h0M22.0 9.2h0M7.1 18.7h0M22.1 10.2h0M45.9 32.7h0M56.2 30.6h0M35.8 11.8h0M45.6 23.5h0M37.6 39.2h0M22.0 25.5h0M18.0 15.7h0M42.1 11.8h0M37.6 37.7h0M15.5 35.8h0M40.5 38.7h0M33.7 43.5h0M43.7 39.4h0M54.3 3.7h0M11.3 41.8h0M40.3 39.2h0M12.7 34.4h0M5.7 39.6h0M3.3 30.4h0M2.8 34.1h0M38.0 3.8h0M2.4 19.9h0M37.5 17.8h0M52.5 34.2h0M21.8 30.1h0M39.2 13.6h0M58.3 32.8h0M5.9 37.7h0M15.0 42.4h0M3.6 19.2h0M6.2 3.7h0M15.4 23.1h0M18.4 37.6h0M30.5 18.4h0M5.3 5.2h0M30.0 18.3h0M2.2 39.7h0M38.5 3.9h0M44.2 21.9h0M30.0 14.9h0M4.4 35.1h0M36.6 6.2h0M48.3 29.7h0M37.3 13.9h0M22.6 41.2h0M10.4 43.4h0M30.5 15.0h0M36.4 30.5h0M33.0 37.7h0M49.2 13.2h0M13.3 21.1h0M2.7 23.7h0M8.9 32.5h0M41.7 19.3h0M27.1 42.0h0M39.3 27.4h0M26.5 39.3h0M3.4 22.7h0M41.3 33.4h0M34.1 36.2h0M11.1 24.9h0M44.7 6.2h0M51.6 2.7h0M13.8 28.4h0M46.9 11.4h0M31.0 21.1h0M14.8 34.5h0M55.4 14.5h0M58.2 20.5h0M26.8 20.7h0M44.9 18.3h0M42.5 16.2h0M19.5 38.6h0M0.1 32.8h0M23.9 40.8h0M4.3 32.9h0M25.4 10.0h0M11.3 42.1h0M55.0 3.1h0M15.7 5.2h0M26.1 29.3h0M32.2 18.1h0M12.3 40.1h0M14.4 40.9h0M16.0 40.0h0M46.8 0.6h0M5.9 25.2h0M22.8 4.4h0M21.2 5.3h0M33.4 42.7h0M26.1 1.0h0M22.2 33.1h0M14.4 21.7h0M54.5 9.9h0M26.1 28.9h0M10.9 32.6h0M28.0 10.8h0M35.4 31.2h0M35.2 29.0h0M42.0 25.5h0M21.5 24.0h0M9.6 18.8h0M25.2 28.5h0M52.5 24.3h0M0.0 43.8h0M25.5 31.8h0M26.7 11.2h0M45.4 26.2h0M3.9 36.0h0M42.5 13.4h0M28.7 12.6h0M3.1 18.2h0M27.7 9.5h0M9.7 9.1h0M28.8 0.0h0M12.4 36.7h0M15.8 33.3h0M52.0 21.3h0M17.6 26.4h0M13.7 3.6h0" stroke="#8f8478" stroke-width="0.7" opacity="0.6"/>
<path d="M15.4 34.5l0.1 0.1M14.0 26.7l-0.1 0.3M26.7 5.2l-0.2 0.2M31.1 25.4l-0.4 0.0M12.9 13.2l0.1 0.2M9.1 43.7l-0.1 0.4M3.2 1.9l0.3 0.2M13.9 26.3l0.1 0.2M23.1 3.5l-0.3 0.1M29.8 32.5l0.2 0.3M18.8 35.5l-0.0 0.1M20.7 27.3l-0.1 0.2M19.6 8.6l0.1 0.0M33.5 22.4l0.1 0.3M12.2 36.4l0.4 0.0M7.4 29.6l-0.3 0.2M25.0 15.4l0.3 0.0M44.7 15.3l0.3 0.2M8.9 13.2l0.1 0.2M5.0 1.4l-0.3 0.3M15.5 38.2l0.1 0.1M1.9 7.9l0.1 0.1M36.6 38.8l-0.1 0.1M3.6 43.3l-0.0 0.0M2.0 23.2l0.0 0.3M36.7 12.5l0.2 0.1M32.8 12.9l0.1 0.0M52.4 4.1l-0.0 0.2M27.4 0.1l0.2 0.0M39.1 18.6l-0.3 0.1M12.1 16.9l0.3 0.2M34.4 27.6l0.0 0.1M25.9 35.5l0.3 0.1M8.9 6.2l-0.1 0.0M22.0 16.1l-0.1 0.3M37.2 10.2l-0.1 0.0M39.2 9.9l-0.4 0.1M55.4 19.9l0.2 0.1M2.0 2.7l0.0 0.0M20.7 36.4l0.2 0.3M41.9 43.7l-0.1 0.2M47.8 26.4l0.1 0.1M5.0 27.3l0.1 0.0M9.3 4.0l-0.1 0.3M0.2 33.7l-0.1 0.1M20.1 22.7l0.1 0.3M31.0 2.6l0.0 0.0M26.8 35.3l-0.0 0.0M14.4 34.9l-0.0 0.0M31.4 6.3l0.0 0.0M21.0 40.2l-0.0 0.3M0.1 4.8l-0.1 0.0M38.4 42.1l-0.1 0.2M1.6 28.3l0.2 0.2M27.7 25.5l-0.3 0.2M35.1 30.3l-0.2 0.1M7.8 29.4l-0.3 0.1M50.0 19.5l-0.0 0.1M7.7 21.3l0.0 0.0M17.0 10.2l-0.3 0.2M12.4 14.7l-0.1 0.2M29.4 19.4l0.0 0.0M10.4 20.6l-0.0 0.2M15.2 41.1l0.1 0.1M28.3 42.7l0.3 0.0M21.1 41.6l0.0 0.1M12.2 0.2l-0.0 0.2M28.5 12.0l-0.0 0.0M34.4 0.3l-0.1 0.2M35.0 6.7l0.1 0.1M32.0 5.7l-0.4 0.1M53.8 19.7l-0.0 0.4M31.6 10.2l0.0 0.2M0.4 24.9l-0.0 0.0M9.2 5.2l-0.1 0.0M8.2 4.0l-0.1 0.2M0.4 13.1l-0.2 0.3M7.4 15.7l0.1 0.2M8.7 22.5l-0.2 0.1M13.0 11.5l-0.0 0.3M25.2 12.0l-0.2 0.1M27.8 35.0l0.2 0.2M23.6 17.9l-0.3 0.1M18.1 18.2l0.1 0.2M45.4 23.6l-0.3 0.1M45.5 5.8l0.3 0.3M51.6 12.8l0.3 0.2M18.9 20.1l-0.0 0.1M32.5 43.3l-0.0 0.1M43.1 17.6l0.1 0.1M17.2 6.3l-0.2 0.3M35.8 6.7l0.1 0.2M33.2 26.6l-0.1 0.2M5.7 31.7l-0.0 0.1M10.9 10.9l-0.1 0.2M28.4 10.8l0.3 0.1M22.5 5.2l0.0 0.0M5.4 38.4l-0.1 0.1M11.4 19.8l-0.3 0.0M17.0 22.0l-0.1 0.4M26.2 3.0l0.2 0.1M9.7 14.9l-0.1 0.2M0.6 27.0l-0.2 0.3M3.5 33.1l0.1 0.2M14.8 10.0l-0.2 0.0M25.4 18.8l-0.3 0.1M43.9 34.0l-0.1 0.0M33.3 14.3l0.1 0.1M45.3 10.8l-0.0 0.0M8.7 0.9l-0.2 0.1M24.5 38.4l0.1 0.3M46.2 7.2l-0.1 0.1M38.3 22.3l0.0 0.1M33.7 26.7l-0.0 0.0M0.6 14.5l-0.1 0.2M12.7 21.8l-0.0 0.0M52.7 4.4l0.0 0.3M50.6 37.1l-0.1 0.2M51.3 43.6l-0.3 0.2M2.0 9.1l-0.3 0.1M12.1 21.2l-0.0 0.0M48.3 12.9l0.0 0.0M9.7 35.6l-0.2 0.0M41.2 11.1l0.0 0.3M38.7 37.6l0.2 0.1M16.6 22.7l-0.1 0.1M57.8 19.5l-0.1 0.0M2.4 36.5l-0.0 0.0M28.9 40.8l-0.2 0.0M31.1 25.1l-0.4 0.1M8.3 26.8l0.2 0.3M19.6 29.9l-0.1 0.0M27.0 36.3l-0.2 0.1M25.7 33.3l-0.0 0.0M50.1 14.0l0.1 0.0M24.6 39.8l-0.0 0.0M4.1 11.8l-0.3 0.1M57.7 0.3l0.0 0.3M42.2 28.8l0.1 0.1M9.4 35.7l0.0 0.2M19.7 7.3l0.0 0.1M35.5 37.3l-0.0 0.4M12.2 22.3l0.2 0.2M42.4 41.6l0.1 0.0" stroke="#463cb8" stroke-width="1.5"/>
<path d="M31.6 35.7l-0.2 0.3M40.1 21.4l-0.2 0.1M32.6 5.1l0.1 0.2M22.1 35.2l-0.0 0.1M39.4 37.0l-0.0 0.0M18.0 0.9l-0.2 0.0M15.6 32.8l0.0 0.1M27.8 7.5l0.1 0.3M50.2 33.9l0.1 0.2M51.0 38.2l-0.2 0.2M13.5 7.8l0.1 0.2M38.3 32.7l0.2 0.3M38.5 28.9l-0.3 0.1M6.9 12.5l0.4 0.0M2.3 20.4l-0.3 0.0M58.2 37.7l0.1 0.3M46.5 33.9l-0.1 0.0M10.2 20.5l0.1 0.1M53.6 14.6l0.0 0.3M44.3 23.3l-0.2 0.2M43.0 17.2l-0.1 0.0M9.8 1.4l0.2 0.1M8.5 14.4l-0.2 0.3M4.3 36.2l-0.3 0.3M29.7 41.4l0.1 0.0M8.7 19.9l0.1 0.1M1.1 20.5l-0.2 0.3M56.5 13.3l0.1 0.1M33.0 9.5l-0.1 0.2M24.6 12.3l-0.1 0.1M33.3 29.5l-0.0 0.0M17.0 7.5l0.3 0.3M44.7 38.9l-0.1 0.1M47.0 13.1l-0.1 0.1M49.1 2.0l0.2 0.3M50.3 9.0l-0.0 0.0M22.8 8.5l0.3 0.2M11.3 7.0l0.2 0.3M57.4 4.5l-0.3 0.2M12.9 32.5l0.2 0.0M6.9 28.5l0.0 0.1M45.4 26.8l-0.1 0.3M24.8 7.9l-0.0 0.2M30.7 12.5l-0.0 0.2M44.1 20.0l-0.2 0.2M53.8 3.0l0.0 0.2M33.7 19.0l-0.3 0.1M31.4 1.4l-0.2 0.0M45.9 18.4l0.4 0.0M1.4 1.0l0.2 0.1M16.3 34.5l0.3 0.1M4.8 19.8l-0.2 0.2M13.2 34.3l-0.3 0.1M22.7 1.6l0.1 0.2M0.9 40.2l-0.3 0.1M35.4 14.9l-0.0 0.1M29.0 24.4l0.2 0.2M3.4 4.2l0.1 0.1M52.9 2.4l-0.0 0.0M48.8 20.8l0.3 0.0M50.0 0.5l0.4 0.0M17.4 21.0l-0.2 0.1M9.0 14.9l0.2 0.1M11.5 34.9l0.0 0.0M5.2 19.7l-0.0 0.1M35.3 8.5l-0.0 0.2M32.2 5.3l0.0 0.1M56.6 21.9l-0.2 0.1M8.3 8.0l-0.3 0.1M27.0 0.3l0.1 0.3M9.1 3.2l-0.0 0.1M49.5 31.1l0.2 0.3M48.3 5.9l0.1 0.2M27.0 14.7l-0.3 0.0M30.5 18.7l0.1 0.3M42.2 23.4l0.3 0.1M53.4 17.4l-0.2 0.2M15.7 8.8l0.3 0.1M20.1 32.3l0.3 0.1M30.9 25.3l0.3 0.2M25.1 38.3l0.0 0.1M54.2 25.8l-0.0 0.1M46.0 23.8l-0.2 0.1M34.8 43.8l0.0 0.2M13.9 14.7l0.3 0.0M1.4 9.3l-0.2 0.3M55.4 4.9l0.1 0.1M17.9 18.7l0.2 0.1M35.8 43.5l-0.3 0.1M9.3 6.7l0.1 0.2M34.5 9.3l0.3 0.3M1.1 42.9l0.1 0.0M37.5 4.1l0.1 0.0M35.3 0.3l0.0 0.0M13.4 5.0l0.2 0.0M52.0 37.5l-0.0 0.0M13.1 42.5l-0.1 0.2M17.0 4.2l-0.4 0.1M24.6 43.4l0.1 0.0M7.3 19.1l0.4 0.0M54.3 31.4l0.0 0.0M53.1 9.0l-0.2 0.2M10.9 1.0l-0.0 0.0M55.5 6.9l0.2 0.3M3.6 16.3l0.2 0.2M15.1 21.2l0.2 0.1M18.4 26.5l0.3 0.0M22.1 33.0l-0.0 0.3M39.4 35.8l-0.0 0.0M39.5 12.5l-0.2 0.2M4.4 23.7l0.1 0.0M54.1 11.1l-0.1 0.0M26.2 22.7l-0.1 0.1M9.0 5.7l-0.0 0.0M0.1 37.4l0.1 0.1M7.1 8.3l0.2 0.1M21.2 0.4l-0.2 0.1M46.4 32.8l-0.2 0.3M0.4 41.9l0.1 0.2M3.7 8.1l0.3 0.1M26.6 39.6l-0.3 0.1M43.8 27.4l-0.0 0.1M12.5 0.4l0.2 0.2M22.5 28.7l0.3 0.1M20.3 34.4l-0.1 0.3M39.9 3.9l0.0 0.1M53.3 5.2l0.0 0.0M51.6 34.9l0.0 0.3M4.1 42.2l-0.1 0.2M39.6 15.0l0.3 0.1M5.6 4.2l-0.0 0.0M9.9 33.3l0.0 0.0M26.3 6.6l0.2 0.1" stroke="#3a32ae" stroke-width="1.5"/>
<path d="M6.1 3.0l-0.0 0.0M31.0 12.5l-0.1 0.3M42.8 24.8l0.0 0.1M21.6 33.4l0.1 0.1M10.3 15.9l0.1 0.1M55.5 22.2l0.1 0.1M27.7 15.3l0.0 0.0M5.7 21.3l-0.1 0.0M6.6 32.2l-0.0 0.0M57.9 13.0l0.0 0.3M10.9 38.3l-0.0 0.2M8.0 14.0l-0.2 0.2M40.2 34.5l-0.3 0.1M42.6 8.0l0.0 0.1M37.4 4.0l-0.0 0.1M25.2 11.5l-0.2 0.2M28.5 38.0l0.0 0.0M51.8 34.4l-0.0 0.0M33.3 41.2l-0.1 0.1M32.4 28.1l0.1 0.0M18.8 36.6l0.2 0.3M19.8 10.2l-0.0 0.0M52.7 43.1l-0.1 0.2M42.5 33.1l0.2 0.1M17.0 7.9l-0.0 0.4M37.5 3.3l0.2 0.2M25.3 2.0l-0.1 0.0M56.7 6.7l-0.0 0.2M22.6 34.9l-0.3 0.2M21.0 25.2l-0.0 0.0M17.2 27.2l0.3 0.1M23.7 32.5l-0.0 0.1M47.4 38.6l-0.1 0.1M0.1 8.0l0.2 0.1M30.8 22.6l-0.0 0.1M10.1 10.1l0.0 0.0M34.9 14.8l0.1 0.3M36.2 18.2l0.2 0.1M55.4 18.4l0.1 0.0M12.8 37.3l-0.2 0.1M7.5 43.7l0.0 0.3M18.3 28.1l-0.0 0.0M19.3 25.9l0.1 0.1M18.2 30.8l0.2 0.2M37.1 7.3l0.1 0.0M28.1 36.8l0.0 0.0M29.0 15.3l-0.0 0.0M52.7 39.0l0.2 0.0M13.7 31.5l-0.2 0.1M49.7 23.6l0.3 0.2M57.4 14.1l0.2 0.1M10.1 31.6l-0.1 0.2M3.7 39.1l0.2 0.1M55.0 38.7l0.0 0.3M38.4 10.7l-0.3 0.2M31.1 20.6l0.3 0.2M19.8 40.8l-0.1 0.0M0.0 16.3l0.1 0.2M14.2 0.0l-0.2 0.1M33.5 5.9l-0.1 0.1M21.7 8.9l-0.2 0.1M3.0 20.3l0.2 0.2M52.0 16.7l-0.1 0.1M33.8 29.6l0.1 0.1M51.1 9.9l0.3 0.0M8.3 21.4l-0.3 0.1M1.4 11.0l-0.2 0.3M7.8 9.9l-0.0 0.0M25.2 37.1l-0.2 0.3M29.2 5.7l-0.2 0.1M1.0 41.6l0.1 0.1M1.6 1.5l-0.2 0.1M35.4 41.0l0.3 0.1M25.9 19.0l-0.1 0.2M5.7 11.0l0.1 0.1M31.0 16.4l-0.2 0.0M19.8 37.8l-0.1 0.1M36.9 31.7l0.1 0.0M6.6 15.7l-0.1 0.2M56.4 16.6l-0.0 0.2M6.4 12.5l0.1 0.0M57.9 37.7l0.2 0.3M23.5 11.7l-0.2 0.3M21.3 5.9l-0.1 0.1M10.2 24.0l-0.4 0.1M18.0 0.4l-0.0 0.1M13.5 25.8l-0.1 0.2M11.0 15.3l0.2 0.0M23.8 33.7l0.2 0.0M12.1 13.9l-0.1 0.1M9.8 40.5l-0.0 0.1M49.9 32.9l-0.4 0.0M16.4 14.8l-0.0 0.0M40.8 15.3l0.4 0.1M15.6 11.5l0.1 0.3M31.8 9.5l-0.0 0.0M49.7 31.0l-0.1 0.1M8.7 28.1l-0.0 0.0M4.5 11.8l0.1 0.0M34.6 16.4l0.1 0.2M1.9 4.1l-0.3 0.1M28.3 28.9l-0.1 0.2M50.5 33.5l0.1 0.0M4.0 4.4l0.1 0.2M27.5 7.8l-0.1 0.1M51.0 37.6l0.1 0.1M14.3 35.4l0.1 0.3M32.5 14.6l-0.3 0.2M16.8 12.8l-0.1 0.2M8.8 36.1l-0.0 0.0M44.8 1.8l-0.1 0.1M28.5 0.4l0.0 0.1M26.7 20.1l-0.1 0.0M15.9 5.7l-0.3 0.2M22.1 22.0l0.0 0.3M1.9 7.1l-0.1 0.0M54.6 23.5l-0.1 0.1M3.4 24.4l0.3 0.3M46.8 17.7l-0.1 0.1M27.9 22.8l-0.3 0.3M4.9 11.5l0.0 0.2M16.0 37.3l0.1 0.1M18.0 9.1l-0.2 0.2M30.3 3.9l-0.2 0.0M12.1 5.7l0.1 0.1M39.1 18.0l-0.2 0.2M39.6 24.1l0.3 0.0M24.9 37.0l0.2 0.3M28.1 21.5l0.2 0.1M31.6 2.0l0.0 0.4M43.6 22.7l0.0 0.0M1.7 27.1l0.1 0.0M34.0 6.9l0.3 0.1M15.6 0.4l0.3 0.0M46.6 4.7l0.4 0.1M45.4 8.1l0.1 0.0M7.9 13.9l0.1 0.3M32.0 41.8l0.1 0.0M25.3 16.6l-0.0 0.0M17.3 22.6l0.0 0.0M33.8 43.5l0.3 0.0M44.8 23.6l0.2 0.1M42.4 17.2l0.3 0.2M51.5 34.1l0.0 0.3M38.0 8.6l-0.1 0.2M1.3 6.5l-0.1 0.0M43.2 39.7l0.0 0.2M5.3 28.9l0.1 0.0M24.2 6.1l-0.2 0.0M12.9 17.0l0.0 0.0M19.3 25.2l-0.1 0.2M56.9 36.5l-0.1 0.3M6.5 31.8l-0.1 0.1M34.7 11.2l-0.0 0.3M41.4 14.0l0.0 0.3M10.4 27.1l0.1 0.4M12.3 42.6l0.0 0.0M7.9 13.3l0.4 0.1M25.5 37.8l0.2 0.1M22.2 34.6l-0.3 0.1M22.1 7.1l0.1 0.1M11.0 43.6l-0.1 0.2M42.8 8.1l0.0 0.0M23.9 24.4l-0.1 0.0M15.7 4.7l0.2 0.3M20.2 6.7l-0.3 0.3M33.3 14.1l-0.2 0.2M17.4 11.9l0.0 0.0M32.1 14.1l0.1 0.3M15.2 24.8l0.1 0.1M13.6 32.2l-0.0 0.0M42.2 42.2l-0.0 0.0M5.2 18.9l0.1 0.1M24.1 14.9l-0.2 0.2M0.8 29.6l-0.3 0.2M9.4 34.2l0.0 0.2M20.0 28.4l-0.0 0.1M28.4 15.8l-0.0 0.0M7.5 37.7l0.1 0.2M57.8 29.4l-0.0 0.0M14.8 26.4l0.4 0.0M48.5 39.8l0.3 0.0M40.9 1.1l0.1 0.2M10.3 30.9l-0.3 0.1M1.5 1.0l0.2 0.0M41.8 20.2l0.1 0.1M38.1 2.0l-0.1 0.2M20.7 7.0l-0.1 0.0M20.5 39.8l-0.2 0.3M33.7 19.6l0.0 0.0M45.0 14.0l-0.1 0.0M33.8 43.6l-0.0 0.3M33.3 33.0l-0.1 0.1M8.3 12.6l0.0 0.0M6.6 26.1l-0.1 0.3M17.2 20.9l0.0 0.0M46.8 2.5l-0.2 0.2M58.3 25.1l0.1 0.0M7.8 39.1l-0.0 0.3M21.5 17.5l-0.1 0.0M44.7 17.4l0.1 0.3M17.4 13.1l-0.3 0.3M26.9 40.9l-0.0 0.0M29.2 23.6l0.1 0.0M26.3 14.6l-0.0 0.2M40.7 8.4l-0.2 0.3M42.9 24.2l0.2 0.1M17.4 19.0l-0.3 0.0M32.1 30.6l0.1 0.2M20.0 30.4l-0.1 0.2M15.3 11.7l-0.4 0.0M42.2 4.9l-0.1 0.1M40.4 29.8l-0.1 0.1M25.5 20.6l-0.1 0.2M16.5 15.4l0.0 0.3M2.6 11.2l0.2 0.0M31.7 9.1l-0.0 0.0M6.0 31.1l0.3 0.1M10.2 35.5l-0.1 0.2M3.3 10.7l-0.1 0.4M46.5 14.1l0.0 0.2" stroke="#3a32ae" stroke-width="1.0"/>
<path d="M56.9 0.2l0.1 0.0M48.3 2.7l0.1 0.0M53.7 42.0l-0.1 0.0M55.4 43.7l0.2 0.1M16.5 31.5l0.1 0.2M18.6 20.3l0.2 0.1M12.5 20.4l0.1 0.1M12.3 9.0l0.0 0.3M22.7 16.8l-0.0 0.2M3.3 22.2l0.2 0.1M49.1 30.4l0.0 0.0M27.5 19.7l0.2 0.2M22.4 9.7l-0.1 0.1M27.9 17.7l-0.1 0.1M21.2 12.8l-0.0 0.0M56.1 21.1l0.0 0.0M41.6 24.6l0.4 0.0M24.3 16.5l0.1 0.1M12.7 11.7l-0.1 0.0M15.0 36.7l-0.0 0.2M11.1 12.5l0.1 0.2M4.9 19.4l-0.0 0.1M9.3 22.6l0.0 0.0M29.8 19.5l-0.2 0.2M43.8 12.2l-0.1 0.0M48.4 28.6l0.3 0.1M46.1 13.1l0.1 0.1M35.8 6.4l0.1 0.3M7.6 28.4l0.0 0.0M26.3 39.6l0.1 0.3M48.4 1.3l0.1 0.2M45.0 24.8l0.0 0.4M52.3 38.4l0.4 0.0M11.7 8.6l0.2 0.3M10.8 36.6l-0.0 0.0M21.1 35.3l0.0 0.0M12.8 5.4l-0.3 0.0M26.8 39.3l-0.4 0.1M9.7 37.9l0.1 0.3M32.5 31.0l0.0 0.0M18.8 14.2l-0.1 0.3M40.8 0.7l-0.1 0.1M37.4 33.7l-0.3 0.3M56.1 9.8l0.1 0.1M38.5 25.2l0.3 0.2M19.0 21.3l0.1 0.1M10.8 25.7l0.2 0.2M21.7 31.0l-0.0 0.0M50.1 5.8l0.3 0.3M0.5 33.3l0.2 0.1M30.8 28.0l0.1 0.2M54.4 17.0l0.2 0.1M20.4 26.1l-0.1 0.4M42.8 20.1l-0.3 0.1M5.2 12.2l0.2 0.0M28.3 15.6l0.0 0.0M6.1 28.1l0.1 0.1M49.9 40.7l-0.4 0.1M42.4 40.7l-0.0 0.2M58.1 25.6l0.1 0.3M51.5 0.9l0.1 0.2M15.4 29.6l0.2 0.0M27.3 27.5l-0.2 0.0M58.1 27.1l0.2 0.2M18.3 35.2l-0.0 0.4M41.7 14.5l0.2 0.2M22.9 43.3l0.2 0.3M35.6 40.1l-0.4 0.1M11.9 5.0l0.1 0.1M4.7 29.8l0.0 0.3M16.6 8.6l0.0 0.1M6.0 19.1l-0.1 0.3M11.4 5.8l0.1 0.3M43.8 41.5l0.0 0.0M18.1 28.0l0.2 0.0M47.2 31.1l0.1 0.0M29.1 1.5l-0.0 0.1M52.3 7.1l0.2 0.0M35.0 38.9l-0.1 0.2M27.7 24.1l-0.2 0.3M56.2 16.1l-0.0 0.0M1.0 10.6l-0.0 0.1M48.1 33.8l-0.3 0.2M21.0 8.1l0.0 0.0M36.8 29.0l0.1 0.1M56.0 22.0l-0.0 0.2M50.3 39.7l-0.1 0.0M55.9 18.3l0.2 0.2M34.8 28.2l0.2 0.2M7.0 24.5l0.0 0.3M15.7 15.1l-0.1 0.1M7.0 9.1l0.0 0.3M30.9 7.4l0.2 0.1M17.6 1.0l-0.2 0.1M25.9 6.9l-0.1 0.2M2.3 8.7l0.0 0.1M56.5 7.1l0.1 0.1M14.3 25.3l0.0 0.0M18.4 22.2l-0.2 0.1M15.9 5.4l0.1 0.1M44.8 21.9l-0.0 0.1M24.0 42.1l-0.2 0.0M41.1 24.1l-0.0 0.0M12.0 27.2l-0.3 0.1M8.5 18.0l0.1 0.2M10.5 26.3l-0.2 0.1M4.0 18.9l-0.1 0.0M21.8 29.6l-0.2 0.1M16.5 10.4l-0.1 0.2M13.8 40.6l0.0 0.1M54.3 23.7l0.2 0.0M38.3 4.2l-0.2 0.2M17.8 13.7l0.1 0.0M24.5 11.3l-0.3 0.1M7.0 5.7l-0.0 0.0M55.8 39.8l0.0 0.4M11.3 11.9l-0.1 0.3M23.2 9.0l0.1 0.2M30.9 14.8l0.2 0.1M16.2 11.5l-0.2 0.1M45.8 20.3l-0.0 0.0M9.6 7.6l0.1 0.1M32.3 13.3l-0.2 0.1M12.2 31.2l0.3 0.2M16.1 15.9l-0.0 0.2M25.3 34.8l0.1 0.1M18.1 16.8l0.1 0.1M3.6 24.3l0.3 0.2M27.5 14.8l-0.1 0.1M46.4 42.1l-0.0 0.0M16.7 6.0l-0.3 0.1M5.9 11.3l0.2 0.1M7.2 5.7l0.3 0.1M36.8 28.7l0.0 0.2M54.0 35.5l0.0 0.0M27.9 31.2l-0.0 0.1M29.7 14.9l0.1 0.1M33.0 11.3l-0.0 0.2M33.1 36.9l-0.2 0.3M26.5 1.6l-0.0 0.0M34.4 18.3l-0.3 0.2M27.5 5.6l0.1 0.4M32.5 4.9l0.1 0.3M29.2 36.8l-0.0 0.1M16.2 29.9l-0.1 0.1M6.6 42.7l-0.0 0.1M40.0 24.5l0.1 0.2M54.3 6.7l0.1 0.1M34.1 23.3l-0.0 0.2M45.8 35.7l-0.4 0.1M9.5 38.3l0.2 0.1M3.7 8.0l0.0 0.1M0.7 28.5l-0.3 0.0M25.0 30.8l0.0 0.0M45.3 11.0l0.1 0.2M28.9 31.0l0.1 0.1M51.4 12.5l0.1 0.3M0.0 15.3l0.3 0.0M9.2 33.9l-0.3 0.2M48.6 2.0l-0.1 0.1M23.0 42.2l-0.2 0.2M35.3 26.7l0.1 0.2M8.9 27.8l0.1 0.1M47.9 40.1l-0.0 0.2" stroke="#5048c0" stroke-width="1.5"/>
<path d="M18.2 19.0l-0.0 0.0M15.9 3.1l-0.3 0.1M4.4 33.6l-0.2 0.3M16.6 4.9l-0.0 0.3M31.5 21.4l-0.2 0.3M23.0 25.2l0.1 0.0M40.8 17.4l0.1 0.2M41.5 5.3l-0.1 0.1M12.1 26.7l-0.0 0.3M1.8 26.9l-0.2 0.0M22.7 7.1l0.1 0.1M23.5 3.1l-0.3 0.1M23.2 28.5l0.1 0.0M38.1 32.1l-0.0 0.2M10.8 37.3l0.0 0.3M48.4 39.1l-0.0 0.0M10.1 6.7l0.1 0.1M6.0 27.3l-0.0 0.0M37.2 30.6l-0.0 0.0M44.1 22.2l0.1 0.2M44.8 1.3l-0.3 0.2M13.8 3.4l0.0 0.0M35.5 27.6l-0.3 0.2M26.3 41.0l-0.2 0.2M33.0 7.3l-0.1 0.0M57.2 7.7l0.0 0.0M53.1 29.8l0.0 0.0M37.9 37.3l0.0 0.0M15.1 7.1l0.1 0.1M39.1 14.5l-0.1 0.0M8.2 2.9l-0.3 0.0M48.6 36.7l-0.2 0.3M8.2 42.7l0.2 0.1M13.4 0.4l0.3 0.2M43.5 20.8l0.0 0.2M56.2 7.8l0.3 0.0M41.7 30.9l-0.1 0.0M36.7 14.3l0.3 0.2M6.6 30.0l-0.2 0.1M50.3 34.9l-0.0 0.0M29.6 4.8l-0.1 0.2M13.2 20.5l0.0 0.0M48.7 37.8l0.0 0.0M39.8 7.4l0.1 0.1M48.0 33.8l-0.2 0.2M23.4 28.7l-0.1 0.1M17.9 10.7l0.1 0.1M19.0 19.7l-0.3 0.0M21.5 18.7l0.0 0.0M9.3 37.0l-0.2 0.2M18.6 34.6l-0.4 0.0M51.4 0.9l0.3 0.3M9.5 17.6l-0.0 0.0M31.1 32.4l0.3 0.1M10.7 42.7l0.1 0.1M12.0 33.5l0.0 0.1M57.3 33.9l-0.0 0.0M25.2 7.0l0.0 0.3M0.5 18.9l-0.1 0.0M42.3 11.5l0.0 0.1M12.0 36.7l-0.1 0.1M21.7 10.2l0.1 0.1M37.3 41.4l0.0 0.0M22.8 15.5l0.1 0.1M47.8 29.5l-0.0 0.0M11.3 13.5l-0.1 0.1M38.6 2.3l0.1 0.0M53.8 42.3l-0.1 0.3M3.8 34.8l-0.0 0.1M39.2 21.9l-0.0 0.1M47.2 3.5l-0.1 0.3M18.8 3.4l0.0 0.0M41.5 17.7l-0.2 0.2M22.0 21.0l0.0 0.0M32.9 35.1l0.0 0.2M43.9 33.5l-0.1 0.0M29.5 1.4l-0.3 0.1M17.8 28.4l0.3 0.3M3.5 3.2l-0.2 0.3M8.1 36.7l0.0 0.1M46.0 29.9l0.3 0.2M35.6 18.1l0.3 0.1M30.5 29.9l0.1 0.1M6.5 41.4l0.1 0.1M8.4 10.2l-0.0 0.0M37.9 23.3l-0.0 0.0M1.3 0.5l-0.1 0.1M6.4 2.8l0.1 0.2M0.5 31.7l-0.1 0.2M40.7 4.9l0.2 0.1M3.7 35.0l0.4 0.1M14.8 2.6l-0.0 0.1M24.2 39.7l0.1 0.1M34.2 30.8l-0.0 0.2M56.4 27.7l-0.0 0.2M2.0 2.2l0.0 0.1M7.1 38.6l0.2 0.0M10.7 7.0l-0.0 0.1M32.3 15.2l-0.3 0.0M8.4 21.7l0.0 0.2M16.7 13.1l0.3 0.1M50.1 2.5l-0.4 0.2M0.4 6.2l0.0 0.2M10.6 42.5l0.3 0.0M4.3 12.4l0.1 0.0M30.0 12.8l-0.2 0.1M9.9 20.5l-0.2 0.1M11.3 17.1l-0.2 0.3M38.8 21.6l-0.0 0.1M5.7 30.0l0.2 0.1M36.2 12.1l-0.1 0.1M31.6 8.4l0.2 0.1M13.2 35.2l-0.1 0.0M34.4 6.8l-0.0 0.2M15.9 19.0l0.2 0.1M4.4 14.1l0.1 0.2M4.3 8.6l-0.0 0.3M6.9 27.7l0.3 0.2M4.9 41.7l0.1 0.3M37.7 15.1l-0.0 0.0M46.8 34.1l-0.1 0.1M4.4 6.7l0.0 0.0M16.1 35.3l-0.0 0.0M23.4 43.2l-0.2 0.0M37.2 2.4l0.3 0.0M18.8 5.6l0.0 0.1M20.0 38.5l0.0 0.0M4.2 23.7l-0.2 0.3M26.5 7.7l0.0 0.0M5.0 2.4l-0.4 0.0M22.5 14.7l-0.1 0.2M36.5 11.9l-0.0 0.0M0.8 36.0l0.1 0.1M2.3 11.4l0.1 0.1M16.5 39.6l-0.1 0.3M23.3 29.1l0.0 0.0M44.5 35.6l0.1 0.1M4.8 4.1l0.1 0.1M28.5 3.1l-0.1 0.3M22.9 4.8l-0.1 0.2M3.8 27.3l0.0 0.3M4.2 21.3l0.0 0.0M10.1 18.2l0.0 0.2M34.7 12.6l-0.0 0.2M20.6 32.2l-0.3 0.2M24.8 40.8l0.3 0.1M28.1 26.5l-0.0 0.0M14.3 33.7l0.1 0.0M0.6 35.6l-0.1 0.0M2.1 21.0l-0.0 0.1M50.5 3.4l-0.0 0.1M31.0 28.7l0.3 0.0M35.0 1.9l-0.0 0.1M30.5 25.1l0.0 0.0M33.2 21.6l0.4 0.0M18.8 22.3l-0.2 0.1M12.1 16.4l0.1 0.1M29.5 5.5l0.1 0.3M47.4 9.5l-0.0 0.0M48.3 38.6l-0.1 0.2M10.6 39.4l0.3 0.1M5.2 12.2l-0.1 0.3M15.1 10.3l-0.0 0.0M25.2 2.9l0.1 0.1M48.0 31.9l0.2 0.3M34.4 42.2l-0.0 0.0M41.9 4.9l-0.0 0.3M14.6 40.9l-0.0 0.0M13.9 8.9l0.3 0.1M48.2 29.6l0.1 0.1M5.9 17.5l0.2 0.2M23.5 22.4l0.0 0.0M51.9 21.6l0.0 0.0M36.6 24.1l-0.2 0.2M2.1 21.9l0.1 0.2M19.2 10.2l0.1 0.1M53.8 20.8l-0.2 0.2M32.2 2.9l-0.2 0.3M22.3 40.0l0.2 0.0M37.9 20.6l-0.3 0.1M40.2 8.5l0.0 0.2M41.9 2.1l0.1 0.1M44.6 40.2l0.0 0.1M17.1 32.2l-0.1 0.1M12.8 15.0l-0.0 0.1M37.4 34.1l-0.2 0.2M6.0 30.5l0.0 0.1M0.8 40.3l-0.2 0.1M41.1 40.9l-0.0 0.0M39.9 10.7l0.2 0.3M21.2 0.9l-0.0 0.0M34.2 2.4l0.0 0.2M53.0 3.4l-0.1 0.3M1.3 10.2l-0.3 0.1M32.3 0.5l-0.1 0.1M13.1 15.3l-0.1 0.1M22.7 27.7l0.1 0.1M39.0 34.9l-0.1 0.0M37.2 29.6l-0.0 0.0M2.2 28.2l-0.1 0.1M26.8 16.8l-0.1 0.1M57.7 17.3l0.1 0.1M2.0 34.4l0.3 0.2M8.6 13.2l-0.2 0.3M25.9 37.1l0.1 0.1M52.3 7.3l-0.2 0.3M55.5 19.9l-0.3 0.1M8.1 28.0l-0.0 0.3M52.6 28.9l0.3 0.3M36.5 12.7l-0.0 0.0M21.0 25.3l-0.2 0.2M58.2 32.2l0.1 0.3M36.5 8.8l0.1 0.1M9.1 19.1l0.3 0.1M39.4 15.3l0.1 0.0M29.5 41.0l-0.1 0.1M19.7 30.0l-0.1 0.1M39.3 27.4l0.2 0.3M26.1 6.6l-0.4 0.1M50.1 43.7l-0.1 0.1M28.8 40.7l0.2 0.2M15.2 20.8l0.0 0.1M17.1 16.9l-0.1 0.3M4.4 31.2l0.1 0.0M39.8 11.0l0.1 0.3M17.3 34.3l-0.0 0.0M9.6 39.9l0.0 0.3M6.6 23.5l0.0 0.3" stroke="#5048c0" stroke-width="1.0"/>
<path d="M11.5 9.9l-0.2 0.1M15.7 13.5l-0.0 0.2M2.9 31.9l-0.0 0.0M16.4 25.9l0.1 0.1M9.8 7.1l-0.2 0.2M23.6 32.0l0.1 0.3M28.9 37.9l-0.1 0.0M45.1 7.1l0.3 0.0M23.6 19.6l-0.1 0.0M52.2 9.3l-0.1 0.0M10.7 26.0l0.0 0.0M20.3 1.8l-0.0 0.3M0.9 18.8l0.3 0.1M29.7 43.8l-0.2 0.2M26.3 3.2l0.2 0.0M31.4 34.6l0.0 0.3M11.9 33.5l0.0 0.0M32.8 20.6l0.0 0.0M37.8 37.9l-0.1 0.2M42.1 7.9l-0.0 0.0M16.9 26.1l0.1 0.3M26.1 24.0l0.3 0.0M22.6 32.0l0.0 0.0M29.6 2.4l0.3 0.2M46.2 43.3l0.2 0.0M2.3 31.6l0.1 0.0M15.1 32.7l0.0 0.0M2.2 17.6l0.0 0.2M31.8 16.9l0.0 0.0M12.0 33.9l0.0 0.0M33.8 2.4l-0.1 0.2M29.8 16.2l-0.0 0.2M21.3 19.7l-0.0 0.0M33.9 4.6l-0.3 0.2M24.7 24.1l-0.1 0.2M46.6 28.1l0.1 0.0M14.4 29.0l0.1 0.2M10.0 24.0l-0.1 0.2M8.9 29.8l0.0 0.3M5.9 21.4l0.0 0.1M19.0 33.0l0.2 0.3M47.6 37.2l-0.2 0.3M22.8 26.4l0.1 0.1M44.4 32.5l-0.0 0.3M8.6 42.9l-0.1 0.0M39.4 0.1l-0.2 0.3M22.3 41.2l-0.1 0.1M7.8 5.7l-0.0 0.0M54.2 1.2l0.1 0.0M22.7 15.9l-0.1 0.2M13.8 16.3l0.0 0.2M18.5 30.9l0.3 0.2M5.1 36.6l-0.3 0.1M46.0 26.5l-0.0 0.2M21.1 32.3l-0.0 0.0M8.0 0.1l0.2 0.1M11.3 6.2l-0.0 0.2M33.8 35.2l0.0 0.3M45.8 33.2l0.1 0.1M3.7 31.4l-0.2 0.2M50.9 36.2l0.1 0.2M10.4 0.1l0.2 0.0M20.9 23.8l-0.3 0.2M3.6 29.1l0.3 0.1M17.9 38.8l-0.1 0.1M32.5 9.0l0.0 0.0M34.2 6.1l-0.2 0.1M30.6 25.8l-0.4 0.0M36.1 17.6l0.3 0.0M36.2 41.3l0.1 0.4M32.4 40.2l0.1 0.1M42.5 41.5l0.0 0.1M4.7 2.1l-0.0 0.0M41.3 5.8l0.1 0.0M30.4 24.4l-0.1 0.0M23.5 33.0l-0.0 0.0M25.6 26.5l-0.0 0.2M17.4 24.2l-0.0 0.1M9.4 22.4l0.2 0.2M51.8 26.5l0.0 0.0M57.5 24.9l-0.1 0.0M21.3 37.2l-0.1 0.3M13.6 6.1l0.2 0.3M24.9 13.0l0.1 0.2M25.4 27.5l0.3 0.2M2.3 29.6l-0.1 0.2M52.3 19.1l0.1 0.3M22.8 31.5l-0.4 0.0M55.3 6.1l-0.0 0.1M27.8 3.7l0.2 0.1M25.4 7.0l-0.1 0.3M41.9 42.6l0.1 0.4M58.1 33.5l-0.3 0.1M42.1 23.9l-0.0 0.0M6.5 1.0l-0.1 0.0M48.3 37.3l-0.3 0.1M11.6 25.2l-0.3 0.2M37.7 27.4l0.0 0.1M26.1 40.0l0.1 0.0M2.6 41.0l-0.1 0.2M7.0 32.0l0.3 0.0M55.8 39.7l-0.2 0.1M56.1 20.6l-0.0 0.2M18.6 26.1l0.3 0.0M45.1 16.5l0.0 0.0M2.9 16.5l0.0 0.1M23.0 25.3l0.3 0.2M34.6 14.6l-0.1 0.1M51.1 5.3l-0.0 0.3M8.8 23.5l-0.1 0.0M22.4 27.2l-0.1 0.3M16.7 27.7l0.3 0.0M53.9 0.6l-0.2 0.3M53.0 38.9l0.1 0.3M2.1 1.4l-0.0 0.1M0.7 8.0l-0.1 0.0M45.7 33.4l-0.3 0.0M27.8 25.5l-0.1 0.2M14.2 39.2l-0.2 0.1M52.7 12.1l0.1 0.2M6.9 6.3l0.2 0.2M29.0 24.7l0.2 0.1M53.9 5.9l0.1 0.0M0.6 31.2l-0.0 0.1M24.9 35.5l-0.1 0.2M21.0 25.8l-0.3 0.2M33.8 28.8l-0.0 0.4M32.7 23.6l0.3 0.2M36.8 4.1l-0.0 0.0M20.7 0.2l-0.1 0.4M13.3 22.0l-0.1 0.1M6.2 7.9l0.3 0.3M1.1 9.7l0.1 0.2M17.6 18.0l-0.1 0.1M54.8 5.0l-0.1 0.1M18.3 26.9l0.2 0.1M44.0 40.6l0.1 0.2M10.1 2.9l0.0 0.2M40.2 12.9l0.0 0.1M36.3 32.6l0.0 0.3M15.0 23.2l-0.1 0.0M17.7 12.0l-0.0 0.0M34.1 12.7l-0.2 0.3M47.2 16.1l-0.1 0.0M9.7 35.8l0.1 0.3M6.4 2.3l0.0 0.1M1.7 36.0l0.1 0.4M26.7 8.8l0.2 0.1M33.1 36.8l-0.1 0.3M36.5 4.2l-0.2 0.2M22.9 31.4l0.0 0.0M6.2 26.4l0.4 0.1M36.3 2.0l-0.1 0.3M29.1 36.8l-0.1 0.2M7.4 19.1l0.3 0.2M21.5 16.0l-0.0 0.3M44.1 5.5l-0.0 0.1M36.0 4.5l-0.2 0.3M56.1 22.5l-0.1 0.0M20.3 5.2l-0.0 0.0M6.0 13.1l0.3 0.1M18.0 23.3l0.1 0.2M9.1 35.9l-0.2 0.0M11.9 6.9l0.0 0.0M6.7 3.2l-0.0 0.1M53.1 16.2l0.1 0.0M26.1 21.6l0.1 0.3M5.1 35.0l0.2 0.3M16.0 18.2l0.0 0.0M43.5 7.1l-0.3 0.2M8.6 26.7l0.0 0.2M33.1 17.3l0.3 0.0M7.8 18.9l-0.1 0.0M39.2 43.1l-0.0 0.1M32.1 27.9l-0.3 0.1M36.9 37.1l0.1 0.0M41.9 3.2l0.2 0.1M3.8 13.7l0.1 0.1M54.9 18.6l0.1 0.2M32.1 7.9l0.0 0.2M1.8 9.0l0.0 0.0M38.6 28.6l0.1 0.3M9.8 28.2l-0.1 0.3M31.6 43.5l0.0 0.0M7.9 40.0l0.1 0.2M13.2 30.5l0.1 0.3M13.8 39.7l-0.2 0.1M17.8 2.8l-0.2 0.2M1.8 10.7l0.1 0.1M31.8 5.8l0.2 0.2M21.8 18.3l-0.0 0.0M31.4 0.7l-0.2 0.2M50.9 41.9l0.0 0.0M37.7 13.3l0.0 0.0M12.5 23.3l-0.0 0.0M6.7 12.4l0.1 0.2M35.5 9.0l0.2 0.3M34.7 32.8l0.0 0.0M10.1 42.4l-0.4 0.1M7.7 38.4l-0.1 0.1M37.0 36.3l-0.1 0.1M47.7 40.6l0.0 0.0M6.8 8.7l0.2 0.1M37.4 27.3l0.0 0.0M6.0 30.5l-0.0 0.4M2.3 5.2l0.0 0.0M20.8 16.3l0.1 0.4M40.3 17.1l-0.2 0.3M45.0 23.5l-0.2 0.0M44.7 3.8l-0.1 0.2" stroke="#463cb8" stroke-width="1.0"/>
</g></g>
<g clip-path="url(#c22)"><g filter="url(#soft)" transform="translate(555.40 803.40)" fill="none" stroke-linecap="round">
<rect x="-2" y="-2" width="62.3" height="47.8" fill="#ddd4ca"/>
<rect x="-2" y="-2" width="62.3" height="47.8" fill="url(#iglow)"/>
<path d="M44.5 28.2h0M23.9 8.7h0M39.5 42.5h0M24.9 37.3h0M2.1 23.1h0M11.8 21.6h0M35.6 37.5h0M30.5 38.1h0M19.1 5.6h0M27.1 31.3h0M41.3 1.6h0M14.5 11.1h0M27.5 37.7h0M15.8 2.0h0M52.4 38.1h0M44.9 1.7h0M15.2 7.7h0M53.3 5.5h0M7.4 9.7h0M46.1 8.7h0M57.3 13.5h0M37.9 8.4h0M17.0 37.9h0M58.2 10.6h0M20.4 2.5h0M11.3 16.8h0M30.4 25.1h0M20.4 6.9h0M32.4 15.3h0M20.1 42.6h0M34.2 0.7h0M55.8 42.5h0M22.7 42.9h0M6.1 40.2h0M9.8 37.8h0M39.5 42.0h0M17.6 28.6h0M54.8 5.6h0M10.8 24.4h0M7.8 2.4h0M0.9 15.2h0M37.9 20.4h0M35.2 1.2h0M5.9 24.8h0M9.1 0.6h0M3.6 28.6h0M56.0 21.7h0M0.4 8.5h0M39.7 34.7h0M12.0 20.5h0M2.1 23.7h0M44.1 21.9h0M45.8 10.3h0M38.8 20.6h0M35.2 3.2h0M26.5 27.2h0M13.7 24.3h0M1.1 18.3h0M54.9 28.3h0M29.5 38.2h0M40.4 22.3h0M21.9 38.3h0M32.9 21.4h0M21.7 6.7h0M11.1 26.4h0M31.3 33.9h0M26.2 16.8h0M32.4 11.0h0M56.1 27.8h0M17.5 21.5h0M49.0 41.6h0M40.8 38.4h0M47.0 16.1h0M24.4 20.4h0M3.0 25.9h0M32.2 34.5h0M19.8 42.8h0M43.1 25.4h0M13.3 40.9h0M39.8 27.8h0M11.3 8.7h0M11.4 40.2h0M25.8 30.7h0M40.3 35.6h0M16.8 8.8h0M56.1 6.2h0M58.3 17.3h0M1.2 13.2h0M44.7 17.8h0M8.1 3.4h0M2.9 25.0h0M21.4 29.7h0M7.3 12.4h0M32.3 14.3h0M40.5 11.4h0M43.8 29.1h0M24.0 30.9h0M20.2 40.3h0M43.2 12.5h0M49.6 27.5h0M50.4 31.1h0M53.3 23.8h0M20.1 32.2h0M54.0 23.0h0M41.7 26.5h0M19.4 8.8h0M36.3 7.3h0M26.1 34.0h0M22.2 19.0h0M56.3 25.9h0M31.5 8.5h0M43.7 16.1h0M41.8 41.8h0M48.5 9.7h0M54.1 29.1h0M10.2 1.9h0M14.4 25.6h0M28.3 0.2h0M55.3 2.9h0M48.9 21.7h0M46.6 35.5h0M40.6 16.5h0M30.2 8.9h0M15.3 1.0h0M21.3 39.5h0M42.0 2.7h0M20.0 19.1h0M30.5 22.3h0M48.8 8.6h0M37.3 28.4h0M1.0 6.6h0M6.9 27.0h0M50.1 38.6h0M48.9 24.0h0M36.1 29.1h0M17.4 21.2h0M7.9 14.5h0M21.3 41.9h0M12.2 21.4h0M3.5 2.7h0M30.1 25.9h0M30.6 43.3h0M27.7 27.4h0M51.1 5.6h0M44.9 5.8h0M51.4 33.3h0M45.5 37.6h0M2.6 3.7h0M24.4 2.9h0M53.1 7.7h0M13.5 31.8h0M6.3 37.7h0M20.5 23.5h0M48.8 3.2h0M14.9 16.7h0M41.3 12.8h0M24.6 9.1h0M34.3 18.3h0M37.8 0.3h0M32.6 41.4h0M14.0 10.4h0M45.0 6.4h0M29.7 17.9h0M9.8 14.5h0M46.5 27.7h0M14.5 25.9h0M58.0 6.9h0M42.5 5.9h0M15.1 5.3h0M33.8 28.7h0M41.5 25.9h0M35.1 8.3h0M15.4 5.9h0M57.3 4.1h0M49.5 16.8h0M50.0 19.2h0M54.9 32.3h0M45.2 2.1h0M39.4 1.3h0M35.5 17.1h0M8.5 20.8h0M18.1 20.7h0M36.0 5.1h0M27.3 18.5h0M53.1 41.1h0M15.8 15.9h0M26.7 13.9h0M55.2 37.7h0M10.4 36.4h0M48.9 37.9h0M24.3 0.7h0M40.6 8.1h0M41.9 5.0h0M33.1 4.1h0M34.4 10.2h0M3.4 37.2h0M43.9 28.3h0M20.3 17.6h0M33.0 9.8h0M39.8 4.7h0M9.4 13.3h0M29.5 26.1h0M41.4 25.2h0M25.0 38.1h0M30.8 21.3h0M12.7 32.6h0M2.9 35.2h0M38.8 43.7h0M49.5 22.5h0M40.2 17.0h0M17.4 40.7h0M23.2 31.5h0M0.5 4.1h0M49.0 28.0h0M43.5 26.6h0M9.2 21.5h0M30.1 25.0h0M57.4 19.6h0M40.9 28.7h0M5.9 42.4h0M24.2 42.0h0M50.9 13.1h0M34.9 28.6h0M41.4 11.7h0M11.1 8.9h0M21.3 42.0h0M24.5 28.6h0M58.0 7.0h0M23.0 41.5h0M21.2 33.8h0M45.4 42.9h0M5.7 15.7h0M51.1 14.6h0M10.9 33.9h0M12.0 29.1h0M47.0 33.8h0M41.6 12.6h0M33.6 26.1h0M15.9 33.9h0M52.2 40.6h0M30.0 30.8h0M56.2 24.3h0M24.4 13.6h0M3.8 37.7h0M58.1 23.9h0M46.6 39.4h0M2.8 16.5h0M31.5 27.0h0M9.1 20.0h0M20.0 2.4h0M42.5 33.7h0M55.6 29.3h0M46.6 29.0h0M12.6 14.1h0M11.3 22.5h0M46.8 24.4h0M1.8 3.4h0M39.1 26.8h0M34.4 11.8h0M11.7 30.9h0M14.4 19.0h0M42.8 4.3h0M45.1 10.0h0M49.7 34.4h0M42.7 40.3h0M55.4 35.7h0M10.8 35.6h0M6.6 8.4h0M49.3 16.7h0M45.3 10.1h0M6.9 2.1h0M51.6 37.9h0M55.8 22.1h0M44.7 16.7h0M8.6 10.8h0M32.3 22.8h0M3.5 21.8h0M21.1 1.0h0M3.0 15.8h0M57.6 32.6h0M18.0 26.5h0M56.0 21.3h0M3.2 35.9h0M39.9 36.3h0M47.8 42.3h0M45.1 10.7h0M1.8 10.2h0M24.9 12.4h0M27.6 11.8h0M38.2 11.2h0M27.3 4.3h0M34.5 41.5h0M47.2 15.2h0M49.9 36.4h0M26.0 39.0h0M7.3 5.5h0M50.0 14.3h0M10.4 31.9h0M18.8 5.2h0M20.0 14.4h0M35.3 6.6h0M55.1 24.9h0M16.0 19.6h0M53.0 1.6h0M17.8 9.4h0M34.7 42.3h0M30.6 23.8h0M2.9 30.0h0M6.5 8.7h0M36.6 24.4h0M8.0 10.2h0M4.7 40.5h0M56.9 19.3h0M42.7 40.6h0M54.7 0.7h0M10.8 33.7h0M49.2 13.3h0M3.6 14.3h0M32.1 39.8h0M2.5 14.1h0M10.3 6.4h0M19.6 34.2h0M19.5 4.9h0M55.2 0.9h0M16.3 42.3h0M25.1 10.2h0M39.9 15.4h0M35.4 12.6h0M21.0 32.3h0M42.3 27.8h0M41.7 13.3h0M13.5 5.0h0M17.6 24.7h0M7.2 2.0h0M22.3 16.7h0M23.8 33.7h0M11.5 31.1h0M25.3 12.1h0M56.6 17.8h0M28.8 31.1h0M7.8 27.4h0M1.4 14.8h0M24.2 17.8h0M4.5 39.1h0M10.0 30.3h0M5.1 36.0h0M36.4 11.9h0M24.9 24.0h0M0.4 20.2h0M13.0 15.5h0M54.9 2.5h0M20.7 4.4h0M47.5 20.7h0M22.8 33.2h0M48.7 41.0h0M52.0 5.6h0M28.7 23.2h0M41.4 12.9h0M8.9 21.2h0M50.5 42.9h0M39.7 1.0h0M39.7 19.1h0M47.2 40.2h0M31.0 35.9h0M47.0 43.5h0M56.3 15.8h0M21.2 38.6h0M55.0 14.0h0M55.2 24.3h0M4.2 36.4h0M44.4 32.5h0M32.4 12.2h0M10.4 16.0h0M15.2 17.1h0M11.8 30.8h0M49.7 24.9h0M28.5 1.3h0M0.3 7.7h0M48.9 37.4h0M24.5 36.2h0M46.3 42.3h0M40.6 38.1h0M21.5 4.6h0M56.0 4.4h0M0.2 18.7h0M51.0 42.2h0M27.1 10.6h0M12.2 34.8h0M25.0 8.2h0M27.4 12.1h0M53.4 41.9h0M56.3 28.9h0M42.2 13.2h0M38.7 11.5h0M9.3 34.7h0M21.2 19.6h0M16.0 16.9h0M9.7 28.8h0M13.6 1.5h0M23.7 17.1h0M17.5 37.8h0M32.9 22.1h0M8.2 13.0h0M50.9 6.9h0M34.1 11.6h0M12.9 23.0h0M25.9 14.0h0M37.3 14.8h0M2.6 12.6h0M55.1 13.2h0M21.2 22.0h0M29.5 36.3h0M26.8 11.4h0M49.4 12.8h0M14.8 1.7h0M26.7 3.7h0M55.5 28.8h0M23.9 5.2h0M0.9 17.2h0M24.3 11.9h0" stroke="#8f8478" stroke-width="0.7" opacity="0.6"/>
<path d="M34.0 32.9l-0.0 0.3M7.5 31.8l-0.4 0.3M57.0 18.9l0.0 0.0M4.8 39.3l-0.3 0.1M56.2 26.7l-0.1 0.3M18.4 43.1l-0.5 0.3M21.3 6.3l-0.6 0.3M56.4 40.9l0.1 0.0M3.8 19.5l0.0 0.6M28.4 14.9l-0.2 0.1M20.8 29.0l0.3 0.3M54.5 19.4l0.1 0.2M52.8 9.8l0.3 0.1M12.1 19.9l0.0 0.0M39.9 14.8l-0.2 0.4" stroke="#463cb8" stroke-width="1.0"/>
<path d="M57.7 7.8l0.1 0.1M10.5 15.4l0.1 0.3M47.7 11.6l0.0 0.0M28.4 38.8l-0.5 0.2M26.3 43.6l-0.5 0.5M53.9 24.7l0.2 0.6M39.5 18.7l0.2 0.0M24.7 7.2l0.4 0.3M3.8 40.0l-0.5 0.5M12.7 19.9l-0.4 0.3M23.8 24.1l0.3 0.0" stroke="#5048c0" stroke-width="1.0"/>
<path d="M0.3 17.1l0.6 0.1M43.7 23.7l-0.1 0.6M30.3 9.2l0.2 0.1M55.8 25.1l0.1 0.2M26.2 11.6l0.2 0.1M48.9 0.7l-0.3 0.1M32.0 32.0l0.3 0.6M42.9 24.8l0.4 0.5M41.7 10.0l-0.5 0.4M7.0 34.0l-0.0 0.1M53.9 3.4l0.5 0.3M48.7 17.1l0.1 0.3M35.5 33.7l0.3 0.4M18.1 26.2l-0.1 0.3" stroke="#463cb8" stroke-width="1.5"/>
<path d="M50.2 39.0l0.3 0.0M55.0 20.1l-0.3 0.6M37.3 7.9l0.1 0.4M46.0 14.4l-0.0 0.0M19.5 16.3l-0.1 0.6M34.0 11.8l0.0 0.0M5.0 31.0l0.1 0.1M1.3 23.0l-0.3 0.5M46.0 37.5l-0.0 0.1M49.0 1.7l0.0 0.2M44.1 37.8l0.4 0.5M29.5 1.8l0.3 0.2M48.7 1.3l0.4 0.0M11.3 13.8l0.6 0.0M42.0 3.9l0.5 0.3M39.5 26.5l-0.1 0.2M10.3 24.7l0.2 0.0M56.6 8.0l0.6 0.3M48.8 25.2l-0.1 0.3M22.5 17.4l-0.1 0.2M25.8 17.3l-0.4 0.1" stroke="#3a32ae" stroke-width="1.5"/>
<path d="M55.7 15.3l0.0 0.6M40.3 13.9l0.0 0.0M24.3 13.7l0.6 0.2M31.2 3.7l0.1 0.3M0.7 11.1l0.1 0.5M27.6 20.9l0.3 0.3M13.0 9.9l-0.1 0.3M19.6 16.4l0.3 0.5M46.9 21.7l-0.4 0.4M3.4 23.4l0.1 0.1M56.5 9.0l0.4 0.1M23.6 18.8l0.7 0.0M26.8 19.6l-0.3 0.6M52.7 17.3l-0.0 0.0" stroke="#5048c0" stroke-width="1.5"/>
<path d="M55.0 34.7l-0.0 0.0M42.0 15.7l0.0 0.0M14.9 15.1l0.5 0.1M9.4 38.4l0.2 0.2M37.0 9.4l-0.3 0.6M25.7 4.7l-0.2 0.4M2.7 18.3l-0.1 0.1M22.3 8.0l-0.3 0.6M24.2 24.9l-0.4 0.5M44.9 10.8l-0.2 0.1M46.2 40.8l0.3 0.2M23.3 8.8l0.1 0.1M48.1 18.3l-0.1 0.3M52.1 16.5l-0.4 0.5M20.3 34.0l0.0 0.2M39.9 3.9l0.5 0.2M13.9 5.5l-0.2 0.1" stroke="#3a32ae" stroke-width="1.0"/>
</g></g>
<g clip-path="url(#c23)"><g filter="url(#soft)" transform="translate(435.20 848.80)" fill="none" stroke-linecap="round">
<rect x="-2" y="-2" width="62.4" height="47.9" fill="#dbd1c5"/>
<rect x="-2" y="-2" width="62.4" height="47.9" fill="url(#iglow)"/>
<path d="M5.3 37.0h0M35.1 9.3h0M45.5 26.1h0M48.4 26.9h0M42.2 34.0h0M20.1 4.2h0M52.4 5.2h0M32.5 43.5h0M20.5 11.5h0M22.3 8.9h0M43.8 13.1h0M4.3 26.1h0M15.1 7.9h0M1.0 36.8h0M22.1 26.3h0M28.1 38.2h0M3.9 27.8h0M48.5 12.4h0M25.3 14.8h0M18.9 41.5h0M13.4 32.4h0M2.6 34.3h0M4.7 34.7h0M3.8 9.5h0M15.4 12.4h0M45.4 22.2h0M2.7 8.0h0M24.5 31.2h0M37.4 21.1h0M47.2 41.5h0M55.4 43.5h0M53.7 43.3h0M41.8 30.4h0M34.1 17.2h0M48.9 16.8h0M52.9 19.4h0M1.3 37.2h0M28.3 0.2h0M47.8 34.9h0M51.2 20.4h0M9.8 9.5h0M31.4 29.5h0M32.5 10.6h0M8.6 42.7h0M58.3 41.3h0M30.4 3.4h0M12.9 24.3h0M50.9 30.5h0M6.3 40.2h0M37.5 18.9h0M45.0 18.0h0M31.5 1.1h0M4.4 40.8h0M24.6 34.7h0M21.7 17.2h0M6.5 39.3h0M14.7 33.6h0M10.4 13.3h0M5.2 30.5h0M53.6 27.5h0M37.6 10.9h0M55.6 5.0h0M14.6 24.9h0M37.4 12.6h0M34.5 5.1h0M2.8 18.7h0M33.7 38.8h0M27.3 41.1h0M44.8 42.7h0M41.4 18.6h0M37.2 30.3h0M14.9 7.6h0M18.9 23.8h0M3.0 15.7h0M8.5 41.1h0M26.4 25.0h0M8.1 19.8h0M56.2 36.6h0M53.3 7.2h0M50.2 35.5h0M22.1 15.1h0M53.2 13.2h0M15.4 28.2h0M29.4 19.2h0M24.8 31.4h0M42.2 19.7h0M54.9 11.8h0M16.3 17.1h0M0.1 22.2h0M27.9 11.7h0M26.3 21.0h0M33.9 23.9h0M20.0 16.0h0M50.6 3.0h0M52.0 5.9h0M10.0 19.0h0M57.7 9.7h0M3.0 33.3h0M29.7 5.8h0M52.0 25.7h0M39.5 4.9h0M35.8 2.0h0M15.0 25.0h0M58.0 40.9h0M11.3 39.8h0M52.4 4.2h0M3.3 9.0h0M58.3 11.3h0M31.5 29.1h0M24.5 14.8h0M33.0 35.4h0M12.8 1.5h0M26.3 41.9h0M49.9 3.3h0M42.5 39.8h0M48.6 1.3h0M0.7 19.9h0M55.3 39.9h0M17.5 41.7h0M47.3 18.4h0M10.7 5.8h0M20.5 3.7h0M29.4 26.8h0M56.9 3.4h0M5.5 26.6h0M9.1 6.7h0M34.3 30.4h0M45.0 16.1h0M8.0 0.4h0M46.2 32.0h0M5.0 25.2h0M3.0 20.2h0M48.7 42.5h0M34.1 37.9h0M28.9 42.4h0M13.5 0.8h0M28.3 43.5h0M37.3 30.0h0M45.5 30.9h0M43.2 15.1h0M19.9 38.0h0M14.9 22.9h0M13.6 28.5h0M27.2 39.5h0M18.5 7.8h0M0.5 0.9h0M14.9 36.5h0M58.3 5.7h0M53.6 3.8h0M46.0 17.5h0M6.3 13.6h0M54.3 32.7h0M35.1 32.3h0M50.6 21.4h0M50.8 36.2h0M38.8 22.8h0M50.3 2.3h0M15.4 32.0h0M36.3 15.3h0M6.4 29.8h0M6.2 34.2h0M38.8 2.4h0M17.9 37.7h0M26.4 31.1h0M35.4 13.8h0M36.1 24.1h0M47.9 37.5h0M20.1 8.1h0M33.8 5.2h0M47.3 22.1h0M8.8 25.9h0M7.0 21.8h0M15.7 24.3h0M48.1 42.8h0M26.8 11.7h0M29.4 33.1h0M54.9 29.7h0M48.8 17.2h0M3.3 28.1h0M22.2 6.5h0M15.3 15.2h0M8.4 16.9h0M34.1 15.1h0M18.4 22.3h0M23.8 3.9h0M34.8 1.3h0M51.6 33.9h0M5.1 26.9h0M26.1 25.1h0M27.8 33.2h0M25.6 34.6h0M50.4 4.5h0M3.1 5.3h0M8.3 33.1h0M33.1 5.5h0M28.4 22.7h0M47.1 34.7h0M14.4 15.4h0M2.2 36.2h0M22.6 23.9h0M2.5 19.2h0M33.7 38.8h0M10.8 29.4h0M34.4 0.3h0M18.9 18.8h0M54.8 40.8h0M47.8 25.0h0M48.2 43.7h0M34.1 34.8h0M1.6 3.0h0M20.4 32.4h0M7.4 42.9h0M47.4 4.1h0M2.7 1.3h0M52.5 30.5h0M12.9 15.0h0M6.7 13.8h0M41.8 32.7h0M15.4 39.6h0M54.6 6.8h0M33.0 13.3h0M50.2 14.6h0M45.3 21.3h0M42.6 32.6h0M37.9 43.8h0M32.3 26.5h0M53.1 23.8h0M9.3 11.6h0M32.9 7.3h0M45.9 24.5h0M0.2 37.7h0M57.1 3.6h0M52.7 31.3h0M47.9 30.7h0M42.9 37.7h0M43.7 12.8h0M45.2 10.0h0M53.4 4.4h0M5.6 6.5h0M12.1 19.1h0M34.9 3.9h0M28.4 25.4h0M55.2 20.8h0M48.0 12.7h0M10.7 10.3h0M9.6 42.4h0M53.0 23.6h0M0.0 43.6h0M52.6 35.4h0M30.1 36.3h0M1.1 20.2h0M14.1 20.0h0M9.4 42.7h0M47.7 37.3h0M47.4 1.0h0M13.5 38.8h0M36.0 42.8h0M2.2 0.6h0M35.2 7.3h0M53.5 39.9h0M21.9 41.9h0M16.1 33.8h0M12.8 18.0h0M43.1 41.8h0M9.7 3.0h0M1.6 21.2h0M13.4 17.7h0M47.2 22.3h0M56.5 37.9h0M17.3 34.6h0M19.4 23.1h0M9.6 35.8h0M29.4 25.9h0M54.5 9.5h0M10.0 17.9h0M55.4 43.7h0M19.3 31.8h0M48.5 18.5h0M21.5 32.3h0M8.2 28.0h0M44.8 42.7h0M36.2 14.5h0M50.5 42.4h0M12.7 28.1h0M19.1 6.5h0M3.3 37.9h0M3.3 4.6h0M14.9 24.5h0M29.7 6.8h0M49.7 18.2h0M9.9 42.7h0M18.5 31.7h0M21.8 36.6h0M19.3 34.9h0M42.1 40.4h0M11.0 15.7h0M5.0 1.3h0M8.2 39.1h0M21.2 8.8h0M18.9 14.1h0M44.1 5.4h0M31.9 21.5h0M35.0 37.5h0M47.3 7.0h0M28.3 23.5h0M34.8 26.9h0M30.7 35.8h0M38.3 19.7h0M53.5 20.9h0M7.2 22.8h0M51.1 31.9h0M14.5 12.0h0M28.3 10.2h0M3.3 19.4h0M43.4 26.4h0M39.7 14.6h0M45.4 4.9h0M45.5 35.4h0M9.6 32.3h0M24.0 28.8h0M36.9 39.0h0M30.1 28.5h0M56.7 1.2h0M19.4 10.9h0M48.0 35.4h0M50.2 25.4h0M9.3 27.5h0M15.5 33.4h0M20.7 26.3h0M0.0 31.0h0M21.5 15.6h0M45.0 7.6h0M45.4 29.9h0M53.9 20.4h0M54.4 17.3h0M12.8 9.4h0M22.7 5.2h0M36.4 32.9h0M37.0 37.3h0M39.9 38.8h0M29.9 20.6h0M51.2 39.3h0M26.6 9.1h0M3.7 10.3h0M12.3 28.2h0M21.3 31.0h0M1.7 8.5h0M24.3 25.8h0M51.7 17.6h0M57.4 3.2h0M5.4 26.0h0M32.0 25.6h0M16.6 3.1h0M16.6 13.0h0M5.7 19.8h0M36.1 18.7h0M51.1 13.2h0M53.6 6.8h0M44.8 36.2h0M6.0 12.5h0M14.4 13.7h0M28.3 36.6h0M35.1 33.2h0M53.3 3.4h0M28.8 19.5h0M47.5 20.6h0M52.4 17.5h0M42.9 9.5h0M47.6 18.4h0M41.2 16.1h0M33.0 18.8h0M31.9 16.0h0M32.4 7.3h0M3.7 14.5h0M24.9 3.1h0M41.0 40.6h0M6.0 16.5h0M52.7 4.7h0M22.1 22.1h0M12.7 26.8h0M27.9 25.9h0M2.3 19.4h0M37.7 7.2h0M20.1 25.8h0M36.3 39.5h0M5.8 36.9h0M33.6 15.0h0M29.6 31.7h0M18.1 34.4h0M3.8 15.6h0M26.5 26.2h0M32.8 10.0h0M45.6 21.5h0M53.5 20.3h0M42.0 3.9h0M43.8 30.3h0M13.1 25.9h0M2.3 33.4h0M15.9 25.6h0M8.4 35.7h0M10.6 6.1h0M6.0 35.7h0M6.7 0.2h0M4.2 39.1h0M28.8 33.0h0M19.0 41.0h0M22.5 7.5h0M6.2 20.6h0M8.1 7.7h0M56.5 43.6h0M1.4 11.1h0M12.5 37.6h0M28.9 40.7h0M47.7 21.0h0M46.6 20.7h0M18.6 36.2h0M25.8 27.9h0M22.6 9.9h0M42.9 41.9h0M13.3 28.7h0" stroke="#8f8478" stroke-width="0.7" opacity="0.6"/>
<path d="M38.8 28.5l0.1 0.0M22.8 9.8l-0.1 0.0M10.5 5.0l-0.3 0.3" stroke="#463cb8" stroke-width="1.5"/>
<path d="M30.4 30.9l-0.4 0.4M57.1 36.6l0.6 0.3M49.1 3.1l-0.4 0.4M11.2 3.1l-0.5 0.3M13.9 32.8l0.0 0.1M45.7 30.0l-0.3 0.3M9.9 33.1l0.1 0.1" stroke="#3a32ae" stroke-width="1.0"/>
<path d="M34.1 41.8l-0.0 0.3M35.3 40.2l0.6 0.4M11.6 36.1l-0.6 0.1M19.2 7.5l-0.1 0.0M26.9 25.3l-0.2 0.0M53.1 29.3l-0.0 0.2M37.0 7.9l0.4 0.5" stroke="#5048c0" stroke-width="1.5"/>
<path d="M10.7 17.0l0.2 0.1M16.3 32.2l-0.4 0.5M23.7 42.4l-0.1 0.2M32.3 28.8l-0.0 0.3M34.9 22.0l-0.0 0.2" stroke="#3a32ae" stroke-width="1.5"/>
<path d="M44.7 28.0l-0.0 0.2M37.2 19.6l0.1 0.1M43.6 11.4l-0.3 0.2" stroke="#463cb8" stroke-width="1.0"/>
<path d="M21.5 0.7l-0.0 0.1M48.7 40.2l0.0 0.1M49.3 1.6l0.2 0.0M56.2 23.9l0.4 0.4M57.3 11.1l-0.2 0.2" stroke="#5048c0" stroke-width="1.0"/>
</g></g>
<g clip-path="url(#c24)"><g filter="url(#soft)" transform="translate(495.50 848.80)" fill="none" stroke-linecap="round">
<rect x="-2" y="-2" width="62.3" height="47.9" fill="#dcd6d6"/>
<rect x="-2" y="-2" width="62.3" height="47.9" fill="url(#iglow)"/>
<path d="M23.1 3.8h0M34.0 5.8h0M28.1 14.6h0M40.6 6.9h0M56.4 3.2h0M4.0 29.6h0M57.4 37.8h0M48.1 6.6h0M11.6 12.9h0M13.8 7.5h0M17.8 16.6h0M18.9 35.5h0M48.6 5.9h0M30.4 32.0h0M2.0 41.5h0M33.0 19.7h0M23.6 39.6h0M30.8 19.3h0M55.6 8.0h0M27.1 40.7h0M48.9 34.2h0M49.7 6.5h0M39.2 22.2h0M58.2 42.8h0M23.0 35.5h0M21.2 17.9h0M41.9 38.8h0M45.6 8.5h0M3.8 41.4h0M31.3 25.4h0M40.9 41.4h0M42.4 27.1h0M26.5 30.2h0M42.8 24.8h0M56.3 16.2h0M52.3 43.8h0M43.0 17.7h0M30.9 16.3h0M46.7 33.7h0M10.4 16.5h0M44.3 7.1h0M43.7 24.5h0M9.7 15.9h0M52.3 4.9h0M27.8 43.3h0M16.9 34.6h0M23.7 40.9h0M54.7 32.8h0M11.9 40.9h0M20.1 35.3h0M38.8 27.0h0M22.9 33.6h0M57.1 38.2h0M48.4 11.3h0M14.3 32.7h0M26.8 39.2h0M29.2 42.4h0M0.8 40.8h0M17.0 32.7h0M34.4 27.9h0M25.9 33.6h0M50.2 15.7h0M42.0 23.5h0M39.0 22.6h0M39.7 7.4h0M23.7 37.4h0M10.3 31.5h0M26.6 21.1h0M15.1 32.0h0M9.5 15.2h0M5.4 19.9h0M3.8 23.2h0M29.5 5.2h0M5.7 16.9h0M53.8 22.4h0M35.6 8.7h0M44.7 3.5h0M56.8 26.7h0M23.9 38.2h0M11.3 15.9h0M46.7 38.1h0M17.3 8.1h0M40.7 20.3h0M52.3 43.2h0M58.1 28.7h0M57.1 32.3h0M13.9 42.0h0M3.1 24.3h0M14.0 29.3h0M31.7 25.6h0M47.2 17.0h0M28.8 39.8h0M21.9 8.4h0M29.3 19.9h0M30.8 24.2h0M20.6 18.2h0M53.2 27.3h0M48.4 4.6h0M34.6 5.7h0M11.5 29.4h0M43.1 27.7h0M23.2 7.8h0M51.6 26.9h0M2.3 40.5h0M4.2 1.8h0M22.9 40.2h0M18.5 10.7h0M40.6 29.2h0M56.8 21.3h0M24.6 24.9h0M4.4 11.6h0M44.7 10.5h0M50.5 15.5h0M11.7 12.9h0M14.5 19.0h0M41.4 43.0h0M24.0 19.1h0M44.3 14.1h0M17.3 31.6h0M5.0 39.1h0M8.6 12.0h0M31.5 8.9h0M6.9 42.0h0M28.7 26.6h0M57.3 32.1h0M41.9 33.1h0M57.3 39.0h0M15.4 30.3h0M13.5 0.4h0M20.6 37.8h0M14.8 41.6h0M51.9 37.6h0M30.2 7.7h0M57.2 0.5h0M45.6 37.2h0M30.7 36.4h0M36.5 19.4h0M44.7 26.4h0M53.6 25.0h0M26.1 39.6h0M40.5 8.3h0M31.0 26.9h0M26.5 18.7h0M42.6 24.3h0M8.1 36.8h0M40.5 5.5h0M45.6 33.3h0M10.3 26.4h0M1.3 31.4h0M27.9 23.1h0M42.8 41.1h0M12.0 8.9h0M46.7 38.7h0M21.9 22.2h0M20.9 10.5h0M42.5 4.2h0M9.5 15.1h0M47.2 32.3h0M28.1 3.2h0M47.2 15.3h0M33.1 1.1h0M40.0 30.5h0M19.7 16.6h0M7.1 33.6h0M35.8 37.9h0M35.1 10.3h0M57.5 36.0h0M53.9 23.0h0M28.5 12.0h0M15.5 34.5h0M47.2 0.0h0M25.7 32.2h0M56.3 23.7h0M46.1 12.5h0M37.9 8.3h0M52.5 12.6h0M40.9 9.9h0M44.8 25.9h0M31.7 12.2h0M40.2 19.5h0M52.8 35.8h0M40.6 1.2h0M36.3 18.3h0M27.1 20.2h0M31.3 28.8h0M50.4 33.9h0M9.0 14.4h0M21.1 43.5h0M22.8 36.5h0M10.7 5.4h0M33.0 24.3h0M14.5 10.0h0M23.9 26.1h0M55.0 29.1h0M10.0 41.2h0M15.6 27.5h0M33.9 27.0h0M42.3 5.2h0M38.7 20.4h0M28.6 7.0h0M21.3 34.8h0M41.5 29.6h0M31.0 26.8h0M2.2 15.2h0M32.0 33.0h0M12.4 6.2h0M2.8 35.6h0M9.1 20.9h0M46.7 9.0h0M16.5 14.9h0M34.6 18.1h0M54.8 12.5h0M46.7 5.3h0M21.0 11.0h0M34.5 1.7h0M30.5 3.5h0M49.6 43.9h0M27.3 39.7h0M45.8 40.3h0M20.8 14.7h0M29.2 0.8h0M0.2 11.2h0M32.0 14.3h0M31.2 15.3h0M7.9 36.3h0M30.0 40.0h0M18.6 21.7h0M23.5 3.7h0M14.3 16.2h0M26.1 8.5h0M9.0 21.2h0M17.8 17.5h0M17.5 35.0h0M22.9 18.9h0M54.9 17.7h0M12.9 18.8h0M19.4 17.7h0M4.1 22.3h0M53.6 11.9h0M55.5 24.0h0M12.3 22.4h0M50.6 8.1h0M41.9 17.1h0M0.6 35.9h0M50.3 5.1h0M4.0 35.7h0M19.4 35.1h0M37.8 33.6h0M39.3 18.4h0M39.1 22.3h0M3.2 37.1h0M36.1 29.8h0M3.4 1.1h0M12.9 28.7h0M53.5 41.4h0M51.0 6.7h0M14.2 33.5h0M48.7 20.8h0M19.8 19.6h0M34.6 12.5h0M26.1 43.0h0M40.5 35.9h0M55.4 27.7h0M52.6 7.5h0M39.2 41.7h0M48.7 38.9h0M11.7 19.9h0M7.3 36.9h0M51.5 39.1h0M24.8 25.0h0M53.8 38.0h0M47.1 7.5h0M35.9 39.2h0M13.5 20.7h0M42.7 40.9h0M48.9 36.2h0M34.4 16.2h0M18.2 21.5h0M44.0 5.5h0M38.3 22.2h0M0.1 43.3h0M23.5 31.0h0M14.4 23.6h0M30.9 0.5h0M22.6 7.3h0M6.8 13.4h0M3.3 1.6h0M46.7 28.2h0M40.1 30.3h0M35.5 19.7h0M13.5 28.0h0M6.0 22.0h0M41.2 7.2h0M10.8 13.3h0M24.5 18.1h0M5.5 27.1h0M3.3 23.1h0M6.7 8.1h0M25.1 31.5h0M32.8 25.3h0M21.2 1.8h0M20.0 2.6h0M26.1 37.4h0M36.6 0.3h0M27.4 32.6h0M30.0 37.0h0M43.5 22.1h0M49.8 26.8h0M15.7 33.7h0M6.1 7.1h0M24.6 31.3h0M4.8 39.4h0M17.2 6.8h0M31.0 13.0h0M49.3 17.8h0M48.4 14.7h0M33.7 8.5h0M33.8 6.4h0M26.7 21.3h0M0.5 4.0h0M22.2 34.6h0M40.8 41.0h0M13.1 5.0h0M20.2 32.9h0M46.7 23.2h0M10.2 17.3h0M1.0 21.4h0M49.6 14.1h0M26.1 34.9h0M34.8 21.2h0M25.4 42.0h0M43.8 27.4h0M14.2 7.3h0M4.1 8.2h0M34.9 41.1h0M0.2 41.7h0M14.5 2.7h0M26.7 0.3h0M2.4 38.6h0M8.8 21.7h0M8.0 6.1h0M36.0 28.3h0M58.0 19.9h0M25.8 27.8h0M10.7 11.2h0M42.8 39.9h0M29.4 15.9h0M42.4 18.8h0M41.2 39.4h0M41.6 23.7h0M21.6 10.2h0M29.1 34.4h0M8.6 2.5h0M4.7 17.4h0M14.5 24.5h0M14.4 4.4h0M44.8 10.7h0M8.5 31.1h0M30.8 31.5h0M45.7 16.4h0M28.3 3.9h0M12.6 23.4h0M9.3 41.6h0M1.1 34.0h0M8.6 14.5h0M4.3 14.8h0M11.7 14.1h0M23.6 30.7h0M16.3 5.8h0M4.1 2.7h0M50.2 39.8h0M50.7 21.5h0M33.3 29.5h0M13.4 24.4h0M45.1 41.1h0M4.7 6.9h0M52.4 39.0h0M48.4 23.0h0M32.7 41.1h0M44.2 21.6h0M30.5 7.5h0M47.8 35.3h0M45.7 43.8h0M29.8 24.0h0M13.2 29.5h0M19.1 38.3h0M32.8 29.9h0M40.7 25.3h0M33.5 28.5h0M32.1 19.2h0M11.7 30.3h0M16.7 32.4h0M45.9 20.8h0M12.7 20.8h0M43.0 2.5h0M57.1 38.8h0M13.1 15.5h0M55.9 12.3h0M56.4 6.5h0M45.6 28.5h0M22.5 8.8h0M57.7 40.3h0M50.2 12.4h0M13.2 13.4h0M46.6 26.8h0M35.6 3.2h0M14.9 3.4h0M9.7 31.7h0M46.4 7.2h0M19.5 0.2h0M7.6 35.1h0M7.4 16.6h0M38.1 16.6h0M47.5 42.1h0M51.7 34.3h0M31.9 41.1h0M34.0 38.5h0M24.7 4.4h0M8.0 37.0h0M23.8 30.8h0" stroke="#8f8478" stroke-width="0.7" opacity="0.6"/>
<path d="M6.9 30.5l1.5 1.3M19.7 14.4l-1.2 0.5" stroke="#8e88d4" stroke-width="2.5" opacity="0.45"/>
<path d="M54.5 42.3l-0.9 0.5M39.4 29.9l-0.7 1.7M4.2 11.0l1.4 0.1M30.1 40.8l-1.0 0.5M32.4 5.1l-0.3 1.0M33.5 0.5l-0.4 0.8M26.8 1.8l0.9 0.3M26.4 0.1l-1.8 0.1M43.2 26.6l-2.2 0.2" stroke="#9a94da" stroke-width="2.5" opacity="0.45"/>
<path d="M42.5 4.9l0.6 0.5M11.1 24.2l0.7 1.1M29.5 10.3l0.1 0.0M21.8 17.1l0.1 0.0M1.4 17.2l0.3 0.2" stroke="#9a94da" stroke-width="3.5" opacity="0.45"/>
<path d="M27.1 16.2l-0.5 1.5M36.1 17.7l-0.6 0.2M25.3 34.0l0.7 0.1" stroke="#9a94da" stroke-width="3.0" opacity="0.45"/>
<path d="M28.3 2.6l0.5 0.0" stroke="#8e88d4" stroke-width="3.5" opacity="0.45"/>
<path d="M46.6 10.1l-0.1 0.2M43.7 14.6l1.0 1.3" stroke="#9a94da" stroke-width="2.0" opacity="0.45"/>
<path d="M4.3 17.8l-0.6 0.2M7.3 13.2l-0.3 0.4M52.2 19.4l1.6 0.0" stroke="#8e88d4" stroke-width="2.0" opacity="0.45"/>
<path d="M39.4 25.9l-0.3 0.4" stroke="#8e88d4" stroke-width="3.0" opacity="0.45"/>
<path d="M42.6 4.4l-0.3 0.5M28.8 32.4l-0.0 0.1M26.7 31.0l0.8 1.1M29.1 18.2l0.4 0.2M26.1 3.9l1.6 1.0M6.2 26.4l0.9 0.7M13.6 16.5l0.7 0.3M36.6 20.6l-0.1 0.1" stroke="#463cb8" stroke-width="1.5"/>
<path d="M26.3 10.1l-0.6 0.5M53.5 12.3l0.0 1.0M15.8 27.0l-1.4 0.5M57.0 1.0l0.2 0.2M47.0 19.6l-0.4 0.2M11.0 30.7l-0.5 1.0M45.4 15.3l0.7 1.5M22.0 23.9l1.4 0.3M57.4 19.5l-0.4 0.6M53.4 5.7l-0.4 1.2M55.8 38.3l0.7 0.8M40.9 28.9l-1.7 0.3M19.4 11.0l-1.5 0.1M34.5 29.3l1.5 0.7M10.3 32.5l-0.4 0.3M33.0 15.1l-0.7 1.3" stroke="#463cb8" stroke-width="2.0"/>
<path d="M0.7 10.3l-0.0 0.2M12.4 7.4l0.0 0.5M19.2 32.6l-1.1 0.0M28.2 38.7l0.3 0.4M37.0 6.6l0.2 0.3M11.5 4.9l-0.5 0.1M17.0 26.5l1.0 0.6M11.2 34.5l0.3 0.7M54.2 6.7l-0.5 1.0M21.6 43.6l-0.1 0.6M51.8 0.1l-0.3 0.2" stroke="#5048c0" stroke-width="2.0"/>
<path d="M48.6 22.9l-1.0 1.5M32.6 18.6l-0.3 0.3M10.1 17.3l0.9 0.9M15.9 25.0l0.5 0.6M45.6 29.7l-0.9 1.2M15.4 5.7l-0.3 0.1M39.6 19.0l-0.0 0.0M32.7 16.2l-0.9 0.6M5.4 12.9l1.0 1.4M31.6 6.6l0.2 1.0M42.0 34.9l-1.4 1.1M37.7 18.6l-0.1 0.4M18.5 30.3l0.2 0.2" stroke="#5048c0" stroke-width="1.5"/>
<path d="M25.1 37.1l0.5 0.4M30.4 11.3l1.3 1.0M42.1 13.5l1.5 0.5M17.4 37.8l-1.7 0.6M55.9 43.3l1.1 0.0M41.5 24.0l1.3 0.0M24.8 8.9l-0.8 0.5M49.5 21.7l0.0 0.8" stroke="#3a32ae" stroke-width="2.0"/>
<path d="M54.6 9.0l0.4 0.5M34.3 30.1l-0.5 0.0M35.7 2.0l1.5 0.6M43.6 21.5l0.1 0.3M46.5 21.8l0.5 0.1M29.3 24.8l0.2 0.3" stroke="#3a32ae" stroke-width="1.5"/>
<path d="M35.2 0.4l-0.6 0.2M42.9 28.2l-0.2 0.7M54.3 38.0l0.4 0.2" stroke="#463cb8" stroke-width="2.5"/>
<path d="M40.3 21.9l1.1 0.2M55.0 17.9l-0.8 1.1M56.9 26.4l0.3 0.5" stroke="#5048c0" stroke-width="2.5"/>
<path d="M50.7 24.2l-0.0 0.4" stroke="#5048c0" stroke-width="1.0"/>
<path d="M27.9 36.1l0.7 0.3M48.4 2.2l0.6 1.6" stroke="#3a32ae" stroke-width="2.5"/>
<path d="M33.6 26.1l-0.8 0.5" stroke="#463cb8" stroke-width="1.0"/>
</g></g>
<g clip-path="url(#c25)"><g filter="url(#soft)" transform="translate(555.40 848.80)" fill="none" stroke-linecap="round">
<rect x="-2" y="-2" width="62.3" height="47.9" fill="#dcd2c7"/>
<rect x="-2" y="-2" width="62.3" height="47.9" fill="url(#iglow)"/>
<path d="M25.3 31.8h0M31.3 21.8h0M48.3 9.9h0M56.9 22.7h0M5.8 32.4h0M13.3 42.7h0M39.9 8.9h0M56.1 14.1h0M55.6 0.3h0M17.4 27.5h0M16.2 14.7h0M6.1 26.6h0M49.4 13.4h0M39.2 23.4h0M40.8 43.7h0M31.4 16.0h0M27.9 31.3h0M58.2 43.2h0M17.7 4.2h0M55.3 9.0h0M39.7 6.4h0M29.3 31.8h0M55.5 15.8h0M24.8 35.4h0M30.2 4.8h0M19.8 10.5h0M44.2 28.4h0M5.0 21.9h0M45.1 36.8h0M42.2 25.6h0M28.3 41.8h0M27.1 11.2h0M17.6 16.4h0M23.7 12.0h0M21.9 37.8h0M8.9 5.7h0M13.3 7.5h0M57.3 36.6h0M48.1 0.1h0M39.2 32.0h0M11.5 11.6h0M29.8 17.6h0M23.6 23.1h0M45.8 33.8h0M50.9 35.7h0M11.0 27.4h0M14.2 24.1h0M21.5 40.4h0M27.0 21.0h0M17.2 22.4h0M34.7 5.1h0M55.7 22.4h0M13.6 36.6h0M2.9 31.0h0M22.0 41.3h0M4.2 39.4h0M36.8 31.2h0M24.3 14.4h0M34.8 12.6h0M52.5 23.1h0M44.5 32.6h0M12.1 21.1h0M4.4 4.6h0M4.0 43.0h0M27.1 17.2h0M41.5 9.6h0M6.4 3.3h0M8.3 12.7h0M13.9 19.8h0M19.4 39.1h0M30.5 38.2h0M33.5 24.4h0M57.6 2.7h0M55.1 38.6h0M3.4 1.8h0M20.5 12.3h0M38.1 14.6h0M42.3 22.3h0M20.9 10.7h0M38.2 8.1h0M28.7 9.1h0M38.2 29.7h0M27.4 34.0h0M43.0 2.4h0M34.0 22.1h0M34.4 20.7h0M50.0 32.4h0M43.5 3.7h0M23.1 9.8h0M56.1 24.5h0M4.5 31.4h0M0.9 18.2h0M9.7 6.5h0M41.0 41.8h0M15.1 10.7h0M57.9 40.9h0M48.2 34.1h0M11.4 2.4h0M9.0 24.9h0M1.7 30.6h0M2.2 43.2h0M43.1 31.8h0M24.6 33.7h0M52.1 28.7h0M26.4 26.6h0M46.7 2.8h0M37.3 5.5h0M30.7 1.5h0M48.6 19.1h0M34.4 27.9h0M26.6 16.1h0M48.8 14.2h0M28.1 21.1h0M13.3 42.4h0M48.3 40.7h0M16.0 31.7h0M51.7 27.6h0M54.6 12.8h0M47.2 14.6h0M41.2 8.4h0M4.1 23.7h0M45.0 11.2h0M43.6 6.6h0M57.1 14.9h0M34.9 10.0h0M36.7 2.9h0M50.6 11.9h0M36.4 26.9h0M51.5 36.7h0M50.9 32.8h0M7.2 5.3h0M18.4 10.7h0M3.5 2.5h0M11.0 17.6h0M19.6 38.9h0M52.5 29.6h0M19.6 43.0h0M26.2 41.9h0M17.1 15.0h0M43.3 18.2h0M34.0 43.5h0M50.4 13.7h0M36.8 33.6h0M12.6 30.0h0M41.1 19.1h0M54.9 4.0h0M48.9 1.6h0M29.5 10.5h0M20.4 13.5h0M6.8 42.4h0M31.8 29.8h0M1.2 35.8h0M11.0 4.0h0M50.6 3.3h0M14.3 35.2h0M41.9 9.4h0M47.4 4.6h0M6.1 23.6h0M35.4 31.0h0M5.4 43.8h0M54.5 0.3h0M1.3 42.3h0M23.3 30.6h0M20.0 31.0h0M26.3 14.9h0M14.9 31.8h0M12.7 41.5h0M54.8 32.0h0M14.7 29.5h0M45.5 21.6h0M2.5 1.8h0M33.4 0.3h0M56.9 17.8h0M52.5 41.3h0M15.9 12.0h0M17.3 6.6h0M46.5 35.0h0M41.0 35.2h0M28.6 40.0h0M56.0 34.6h0M14.4 27.3h0M1.7 9.7h0M53.6 10.7h0M15.3 35.3h0M41.4 34.6h0M13.1 30.4h0M43.1 26.2h0M26.0 37.8h0M53.5 24.0h0M51.0 42.6h0M8.6 14.1h0M55.7 25.7h0M37.6 39.3h0M4.7 10.8h0M42.5 13.4h0M5.5 34.8h0M31.3 5.5h0M14.2 19.4h0M52.6 1.8h0M2.8 19.6h0M54.8 5.4h0M52.6 5.6h0M44.8 36.7h0M0.4 6.5h0M38.4 35.3h0M51.2 23.2h0M26.1 32.4h0M48.9 16.6h0M26.8 15.7h0M21.8 12.3h0M38.3 36.3h0M8.6 36.8h0M2.3 17.0h0M33.3 0.3h0M23.1 30.7h0M35.2 29.8h0M34.6 38.7h0M54.3 14.9h0M49.8 7.9h0M9.5 40.7h0M54.0 43.5h0M11.9 16.7h0M26.0 27.8h0M12.3 19.0h0M8.7 16.6h0M1.9 41.0h0M13.3 4.5h0M27.6 6.6h0M57.3 7.3h0M30.0 35.6h0M58.0 40.0h0M24.6 27.3h0M39.6 24.9h0M47.9 9.0h0M35.8 17.2h0M35.6 0.9h0M5.3 42.9h0M32.8 9.0h0M50.3 2.0h0M58.0 11.8h0M2.6 30.4h0M33.2 23.5h0M50.0 41.0h0M21.1 20.5h0M39.8 38.8h0M13.6 22.0h0M35.1 28.0h0M10.7 39.8h0M18.9 3.5h0M21.9 29.5h0M8.4 43.3h0M4.0 43.3h0M56.1 9.1h0M45.1 30.0h0M0.5 40.3h0M29.7 27.0h0M4.7 16.6h0M24.3 27.6h0M3.9 2.0h0M10.9 39.6h0M33.4 41.4h0M3.1 25.0h0M34.0 40.9h0M35.1 37.2h0M16.8 40.5h0M17.8 39.9h0M34.0 4.3h0M39.6 36.6h0M38.6 41.0h0M4.9 11.2h0M10.9 20.9h0M44.2 25.4h0M36.9 15.8h0M0.7 6.1h0M6.6 14.7h0M47.8 40.7h0M15.8 36.0h0M36.3 31.1h0M6.0 24.5h0M55.2 5.1h0M7.6 8.0h0M15.5 26.9h0M25.0 25.3h0M54.4 15.6h0M9.9 20.5h0M43.8 25.6h0M7.1 12.4h0M57.4 4.8h0M37.0 34.5h0M14.3 3.0h0M55.9 7.1h0M32.2 34.0h0M5.5 40.1h0M20.1 42.6h0M53.0 32.9h0M15.3 36.3h0M51.7 7.2h0M3.3 12.5h0M39.6 14.9h0M18.5 41.3h0M6.4 8.0h0M31.6 22.0h0M3.9 11.6h0M27.6 43.5h0M46.3 2.8h0M49.3 25.2h0M12.9 37.7h0M28.3 37.2h0M48.9 22.2h0M47.3 40.7h0M3.8 43.5h0M40.0 32.7h0M47.3 20.7h0M48.4 22.5h0M16.2 3.3h0M44.4 35.4h0M17.6 24.3h0M7.3 19.0h0M20.0 4.9h0M28.0 3.0h0M30.2 20.9h0M48.7 33.1h0M42.6 5.3h0M34.3 7.5h0M19.4 41.4h0M34.9 4.7h0M14.4 9.6h0M3.5 31.8h0M44.0 4.6h0M34.0 6.4h0M51.6 19.7h0M37.1 43.7h0M25.7 4.5h0M17.1 38.9h0M35.6 10.7h0M33.1 14.1h0M23.5 9.7h0M14.6 35.2h0M31.0 10.0h0M4.3 14.5h0M35.1 6.0h0M23.6 20.8h0M51.0 15.5h0M57.9 9.5h0M38.6 32.4h0M11.7 32.7h0M42.3 9.8h0M20.3 11.8h0M45.2 19.4h0M22.2 6.7h0M55.8 1.4h0M24.2 43.8h0M14.0 32.2h0M19.6 32.7h0M25.0 25.8h0M37.3 36.1h0M19.6 5.4h0M11.8 27.2h0M15.0 43.9h0M13.7 14.7h0M7.0 29.6h0M34.6 3.3h0M51.6 28.2h0M58.0 26.8h0M39.6 4.3h0M17.8 40.7h0M0.4 9.0h0M39.4 23.3h0M12.8 32.6h0M30.2 9.1h0M48.7 4.5h0M2.5 11.6h0M58.2 20.1h0M36.7 31.6h0M51.1 2.6h0M25.3 31.2h0M50.1 10.5h0M56.9 24.6h0M56.1 11.0h0M39.7 26.5h0M22.5 10.5h0M24.0 41.1h0M6.7 14.5h0M54.8 15.4h0M55.9 9.9h0M43.7 40.0h0M20.0 12.2h0M54.8 43.3h0M10.3 35.4h0M7.5 1.3h0M33.3 25.4h0M50.5 25.8h0M25.7 0.9h0M0.5 31.5h0M36.4 12.1h0M11.0 19.6h0M15.8 28.1h0M33.6 23.9h0M37.7 3.2h0M51.7 22.7h0M55.6 39.3h0M46.8 20.7h0M33.0 43.2h0M9.0 8.9h0M40.2 3.3h0M5.6 16.1h0M11.3 24.1h0M15.7 16.1h0M20.0 18.8h0M9.6 20.0h0M53.2 25.6h0M50.7 21.4h0M50.7 39.0h0M30.7 22.8h0M22.1 27.8h0M1.8 21.2h0M36.7 8.2h0M17.7 13.5h0M17.7 6.6h0M20.4 43.7h0" stroke="#8f8478" stroke-width="0.7" opacity="0.6"/>
<path d="M36.8 21.5l0.2 0.6M28.6 36.1l0.1 0.6M26.7 27.9l-0.3 0.2M19.6 19.9l-0.1 0.1M19.2 34.9l0.5 0.4M20.9 39.1l-0.0 0.0M21.8 16.1l0.2 0.5" stroke="#3a32ae" stroke-width="1.5"/>
<path d="M17.7 24.1l-0.4 0.2M56.1 37.5l-0.5 0.2M3.7 5.6l0.5 0.4M43.6 34.2l-0.0 0.0M48.7 3.9l0.2 0.5M18.6 42.7l-0.1 0.1M15.6 38.1l0.0 0.4M21.9 16.5l-0.0 0.0M20.2 5.6l-0.3 0.4M41.2 19.4l0.5 0.4" stroke="#3a32ae" stroke-width="1.0"/>
<path d="M10.2 11.4l-0.0 0.4M32.4 17.9l0.4 0.1M56.2 2.3l-0.2 0.5M19.6 21.5l-0.2 0.3M19.1 39.9l-0.1 0.2" stroke="#5048c0" stroke-width="1.0"/>
<path d="M45.1 16.7l0.6 0.4M5.0 23.6l0.3 0.2M45.8 20.2l-0.5 0.1" stroke="#463cb8" stroke-width="1.0"/>
<path d="M18.1 42.2l0.0 0.2M18.0 34.8l0.0 0.0M40.1 18.8l0.1 0.5M22.1 11.6l-0.3 0.0M47.7 21.5l0.1 0.4" stroke="#463cb8" stroke-width="1.5"/>
<path d="M5.8 29.8l0.5 0.4M7.6 31.5l0.1 0.2M43.0 30.4l-0.2 0.4M39.7 32.6l-0.3 0.4" stroke="#5048c0" stroke-width="1.5"/>
</g></g>
</svg>
</body></html>
